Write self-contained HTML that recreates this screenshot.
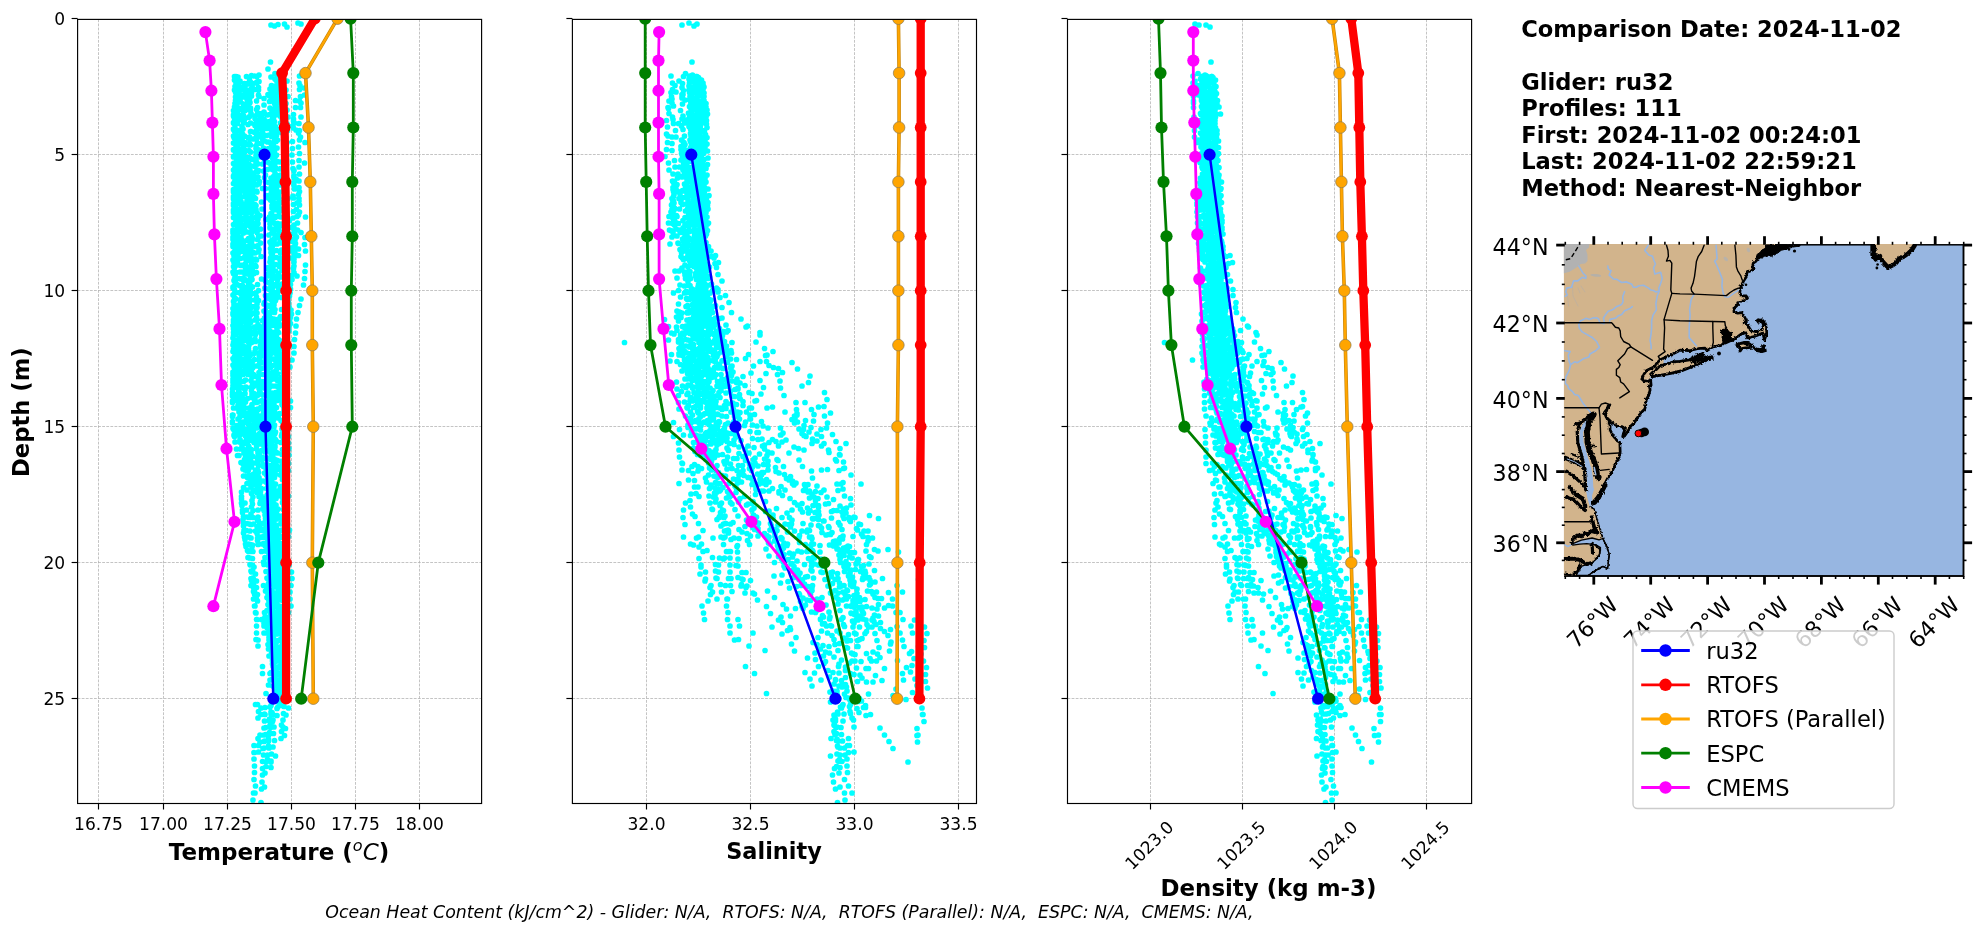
<!DOCTYPE html>
<html lang="en"><head><meta charset="utf-8"><title>Glider / model profile comparison</title><style>html,body{margin:0;padding:0;background:#fff}body{width:1978px;height:934px;overflow:hidden}svg{display:block;will-change:transform}</style></head><body>
<svg width="1978" height="934" viewBox="0 0 1978 934" font-family="DejaVu Sans, Liberation Sans, sans-serif">
<rect width="1978" height="934" fill="#fff"/>
<defs>
<clipPath id="c0"><rect x="77.6" y="19.4" width="404.0" height="784.1"/></clipPath>
<clipPath id="c1"><rect x="572.4" y="19.4" width="404.1" height="784.1"/></clipPath>
<clipPath id="c2"><rect x="1067.5" y="19.4" width="404.0999999999999" height="784.1"/></clipPath>
</defs>
<g stroke="#b0b0b0" stroke-width="0.75" stroke-dasharray="2.8,1.3" fill="none">
<line x1="98.5" y1="19.4" x2="98.5" y2="803.5"/>
<line x1="163.5" y1="19.4" x2="163.5" y2="803.5"/>
<line x1="227.5" y1="19.4" x2="227.5" y2="803.5"/>
<line x1="291.5" y1="19.4" x2="291.5" y2="803.5"/>
<line x1="355.5" y1="19.4" x2="355.5" y2="803.5"/>
<line x1="419.5" y1="19.4" x2="419.5" y2="803.5"/>
<line x1="77.6" y1="154.5" x2="481.6" y2="154.5"/>
<line x1="77.6" y1="290.5" x2="481.6" y2="290.5"/>
<line x1="77.6" y1="426.5" x2="481.6" y2="426.5"/>
<line x1="77.6" y1="562.5" x2="481.6" y2="562.5"/>
<line x1="77.6" y1="698.5" x2="481.6" y2="698.5"/>
</g>
<g clip-path="url(#c0)">
<path d="m298 23h0m-13.5 1h0m16.5 0h0m-23 0.5h0m-7 0.5h0m3.5 1h0m12.5 1h0m-16.5 35h0m-2.5 7h0m7 4.5h0m-16 1.5h0m-7.5 0.5h0m3 0.5h0m45 0h0m-65 0.5h0m1.5 0h0m10.5 0h0m10.5 0h0m-19 0.5h0m33 0h0m6.5 1.5h0m-28 0.5h0m25.5 0h0m-40.5 1h0m42 0.5h0m-36.5 0.5h0m47 0h0m-28 0.5h0m-8.5 0.5h0m6.5 0h0m21 0h0m-42 1h0m19.5 0h0m1.5 0h0m26 0h0m16 0h0m-60 0.5h0m5.5 0h0m2.5 0h0m0.5 0.5h0m-11.5 1.5h0m35.5 0h0m6 0h0m22.5 0h0m-48 0.5h0m22.5 0h0m-39.5 0.5h0m46 0h0m-40.5 1h0m4.5 0h0m13.5 0h0m16 0h0m2 0h0m28 0.5h0m-53.5 1h0m19 0h0m9 0h0m-43.5 0.5h0m19.5 0h0m18 0h0m26.5 0h0m-65 0.5h0m24 0h0m20.5 0h0m7 0h0m-46.5 0.5h0m5 0h0m2.5 0h0m-10 1h0m-1.5 0.5h0m36.5 0h0m5.5 0h0m-38.5 0.5h0m8 0h0m28 0h0m-23.5 0.5h0m-15.5 0.5h0m44 0h0m-3 0.5h0m-37 0.5h0m5 0h0m23 0h0m-27.5 0.5h0m18 0h0m46 0h0m-25 0.5h0m-30 0.5h0m2 0h0m18 0h0m4.5 0h0m-38 0.5h0m23 0h0m16 0h0m3.5 0h0m9.5 0h0m12.5 0h0m-65 0.5h0m2.5 0h0m6.5 0h0m3.5 0h0m1.5 1h0m14.5 0.5h0m19.5 0h0m-36.5 0.5h0m25 0h0m5.5 0h0m-41 0.5h0m3.5 0h0m35 0h0m-25.5 0.5h0m-14 0.5h0m45.5 0h0m14.5 0h0m-39 0.5h0m43 0h0m-60.5 0.5h0m30.5 0h0m6 0h0m-35 0.5h0m9.5 0.5h0m30.5 0h0m-5 0.5h0m25.5 0h0m-66 0.5h0m2 0h0m11.5 0h0m26 0h0m11.5 0h0m-42.5 0.5h0m2 0h0m2 0h0m16.5 1h0m12 0.5h0m7.5 0h0m-38.5 0.5h0m31 0.5h0m-41.5 0.5h0m46.5 0h0m-23.5 0.5h0m38 0h0m5 0h0m-62 0.5h0m12 0h0m19.5 0h0m12.5 0h0m-41.5 0.5h0m3 0h0m30.5 0h0m-40 0.5h0m6 0h0m8 0.5h0m8 0h0m24.5 0h0m-43 0.5h0m36.5 0h0m1.5 0h0m11 0h0m-53.5 0.5h0m9.5 0h0m2 0h0m5.5 0h0m21.5 1h0m-8 0.5h0m19 0h0m-5 0.5h0m-2 0.5h0m-25 0.5h0m8.5 0h0m-25.5 0.5h0m28 0h0m-26.5 0.5h0m21.5 0h0m12.5 0h0m6.5 0h0m17.5 0h0m-60 0.5h0m5.5 0h0m28 0h0m16 0h0m-49 0.5h0m8 0h0m1.5 0h0m16.5 0h0m13.5 0h0m-40 0.5h0m21.5 0h0m25 0h0m-30.5 0.5h0m24.5 0h0m-40 0.5h0m4 0h0m50 0h0m13 0h0m-52.5 0.5h0m6.5 1h0m17.5 0h0m-9 0.5h0m18.5 0h0m11.5 0h0m-53.5 0.5h0m4.5 0h0m-7.5 0.5h0m22 0.5h0m2.5 0h0m3.5 0h0m-30.5 0.5h0m59 0h0m-35.5 0.5h0m11.5 0h0m5 0h0m8 0h0m-38.5 0.5h0m24 0h0m5 0h0m-39.5 0.5h0m10 0h0m15.5 0h0m-25.5 0.5h0m17 0h0m5.5 0h0m1 0h0m5.5 0h0m18 0h0m14 0h0m-57 0.5h0m30 0h0m6.5 0h0m25 0h0m-64.5 0.5h0m52.5 0h0m-39 0.5h0m24.5 0h0m-17.5 1h0m9 0h0m18 0h0m-12.5 0.5h0m23 0h0m-50.5 0.5h0m33.5 0h0m-17 0.5h0m2.5 0.5h0m3.5 0h0m-29.5 0.5h0m23.5 0h0m35 0h0m-27.5 0.5h0m3 0h0m5.5 0h0m-41 0.5h0m8.5 0h0m1 0h0m16 0h0m14.5 0h0m-40 0.5h0m24 0h0m21.5 0h0m-22.5 0.5h0m15 0h0m24.5 0h0m-57.5 0.5h0m49 0h0m12 0h0m-65 0.5h0m5 0h0m33 0h0m-22 0.5h0m0.5 0h0m3 0.5h0m1 0.5h0m7.5 0h0m19 0h0m17 0.5h0m-56.5 0.5h0m34 0h0m-33.5 0.5h0m15 0h0m4.5 0h0m-26.5 0.5h0m28 0h0m11 0h0m-5.5 0.5h0m-2.5 0.5h0m6.5 0h0m3.5 0h0m-43 0.5h0m1 0h0m1 0h0m7.5 0h0m1.5 0h0m13.5 0h0m-19 0.5h0m4.5 0h0m13 0h0m1.5 0h0m13.5 0h0m-22 0.5h0m12.5 0h0m38.5 0h0m-66.5 0.5h0m14 0h0m38 0h0m-36.5 1h0m4 0.5h0m3 0h0m6 0h0m-26 1h0m4.5 0h0m36.5 0h0m22 0h0m-25 0.5h0m-32 0.5h0m20.5 0h0m1.5 0h0m-29.5 0.5h0m41 0h0m16.5 0h0m-25 0.5h0m1.5 0h0m-26 0.5h0m2 0h0m29 0h0m13 0h0m18 0h0m-71.5 0.5h0m1 0h0m7.5 0h0m15.5 0h0m-19.5 0.5h0m5.5 0h0m6 0h0m8.5 0h0m3.5 0h0m9.5 0h0m-22.5 0.5h0m8.5 0h0m29 0h0m-47.5 0.5h0m6 0h0m28 0h0m-23.5 0.5h0m1.5 0h0m5.5 1h0m-20 0.5h0m50 0h0m-12 0.5h0m24.5 0h0m-55 0.5h0m20 0.5h0m13.5 0h0m-40.5 0.5h0m19.5 0h0m13 0h0m23.5 0h0m-25.5 0.5h0m-33.5 0.5h0m0.5 0h0m6 0h0m4.5 0h0m13.5 0h0m16 0h0m-40.5 0.5h0m8 0h0m15.5 0h0m1 0h0m12 0h0m-21 0.5h0m12.5 0h0m-22 0.5h0m17 0h0m18 0h0m12 0h0m-41.5 0.5h0m26.5 0h0m-21 0.5h0m5.5 0.5h0m29.5 0.5h0m-50 0.5h0m64 0h0m-59.5 0.5h0m33.5 0h0m-8 0.5h0m11 0.5h0m15.5 0h0m-56 0.5h0m20 0h0m-12.5 0.5h0m24.5 0h0m7.5 0h0m-42 0.5h0m1 0h0m6 0h0m3 0h0m14.5 0h0m-24.5 0.5h0m4 0h0m8 0h0m10.5 0h0m2 0h0m4 0h0m-13 0.5h0m-8.5 0.5h0m32 0h0m1 0h0m12 0h0m-40.5 0.5h0m5.5 0h0m1 1h0m2.5 0h0m10.5 0h0m-28 0.5h0m50 0h0m-40 0.5h0m28.5 0h0m24 0h0m-59 0.5h0m25 0.5h0m12.5 0h0m-21 0.5h0m23.5 0h0m12.5 0h0m-24 0.5h0m7 0h0m-41.5 0.5h0m4.5 0h0m4.5 0h0m1.5 0h0m11.5 0h0m17 0h0m31.5 0h0m-71 0.5h0m5.5 0h0m18.5 0h0m-14.5 0.5h0m1 0h0m13.5 0h0m5 0h0m11 0h0m-24.5 0.5h0m37.5 0h0m-45.5 0.5h0m3 0h0m27 0h0m-21 0.5h0m0.5 0.5h0m1 0h0m23 0h0m-19.5 0.5h0m30.5 0h0m-49.5 0.5h0m11.5 0h0m51.5 0h0m-60.5 0.5h0m37 0h0m-40.5 0.5h0m41 0.5h0m4.5 0h0m12.5 0h0m-58.5 0.5h0m45.5 0h0m-12.5 0.5h0m5 0h0m10.5 0h0m-49.5 0.5h0m5.5 0h0m4 0h0m1.5 0h0m12.5 0h0m-23 0.5h0m9 0h0m7 0h0m7 0h0m1.5 0h0m35.5 0h0m-30.5 0.5h0m-5.5 0.5h0m-20 0.5h0m5 0h0m1 0h0m3.5 0h0m3 1h0m3.5 0h0m21 0h0m9 0.5h0m-48.5 0.5h0m5.5 0h0m5.5 0h0m53 0h0m-65.5 1h0m19 0h0m12.5 0h0m15 0h0m-3.5 0.5h0m17 0h0m-60.5 0.5h0m6 0h0m35 0h0m5 0h0m3 0h0m-38.5 0.5h0m29.5 0h0m-40 0.5h0m22.5 0h0m2 0h0m-20.5 0.5h0m19 0h0m8 0h0m29.5 0h0m-43.5 0.5h0m20.5 0h0m0.5 0h0m8 0h0m-38 0.5h0m5 0h0m10 0h0m-18 0.5h0m9.5 0h0m1.5 0h0m46.5 0h0m-46 0.5h0m24 0h0m-20.5 0.5h0m31 0.5h0m-43.5 0.5h0m5.5 0h0m4 0h0m48.5 0h0m-39.5 0.5h0m-25 0.5h0m17.5 0h0m14 0h0m10 0h0m3 0h0m-10 0.5h0m6.5 0h0m18.5 0h0m-54.5 0.5h0m43 0h0m-49 0.5h0m10 0h0m15.5 0h0m13.5 0h0m-37 0.5h0m19.5 0h0m3.5 0h0m14 0.5h0m-35.5 0.5h0m3 0h0m10.5 0h0m6 0h0m23 0h0m-34.5 0.5h0m49 0h0m-45 0.5h0m0 0.5h0m3 0h0m20 0h0m12 0.5h0m-43 0.5h0m6.5 0h0m23.5 0h0m5.5 0h0m22.5 0h0m-48 0.5h0m-15.5 0.5h0m27 0h0m3 0h0m-30.5 0.5h0m17.5 0h0m42 0h0m-61 0.5h0m5.5 0h0m5 0h0m5.5 0h0m21.5 0h0m4.5 0h0m8.5 0h0m-40.5 0.5h0m30 0h0m12 0h0m-52 0.5h0m6 0h0m17 0.5h0m19.5 0h0m-25 0.5h0m21.5 0h0m27 0h0m-66 0.5h0m6 0h0m17.5 0h0m22.5 0h0m-34.5 0.5h0m4.5 0h0m0.5 0h0m2.5 0.5h0m-2.5 0.5h0m-13.5 0.5h0m34.5 0h0m14.5 0h0m-46 0.5h0m6.5 0h0m52.5 0h0m-62.5 1h0m16.5 0h0m14 0h0m9.5 0h0m2.5 0.5h0m14.5 0h0m-59.5 0.5h0m5.5 0h0m5.5 0h0m30 0h0m10.5 0h0m-51.5 1h0m6.5 0h0m14.5 0h0m20.5 0h0m-6.5 0.5h0m25 0h0m-56.5 0.5h0m13 0h0m5.5 0h0m17.5 0h0m6 0h0m9 0h0m11 0h0m-65.5 0.5h0m6.5 0h0m8.5 0.5h0m3.5 0.5h0m18.5 0h0m-36 1h0m12.5 0h0m25 0h0m27 0h0m-58 0.5h0m20.5 0.5h0m-25 0.5h0m15 0h0m29.5 0h0m-6.5 0.5h0m2.5 0h0m20 0h0m-63.5 0.5h0m5 0h0m40.5 0h0m5.5 0h0m0.5 0h0m-51.5 0.5h0m10 0h0m11.5 0.5h0m19.5 0h0m19 0h0m6 0.5h0m-66 0.5h0m2 0h0m14 0h0m6.5 0h0m16 0h0m6.5 0h0m8 0h0m-39 0.5h0m0.5 0.5h0m3.5 0h0m-10 1.5h0m5 0h0m25.5 0h0m3.5 0.5h0m-39 0.5h0m1.5 0h0m14 0h0m10 0h0m20 0h0m-26 0.5h0m19 0h0m21.5 0h0m-63 0.5h0m4 0h0m15.5 0h0m21 0h0m4.5 0h0m7 0h0m-39.5 0.5h0m34 0h0m-46.5 0.5h0m2 0h0m5 0h0m14.5 0h0m-10 0.5h0m4.5 0h0m44 0h0m-14.5 0.5h0m7 0h0m13.5 0h0m-66 0.5h0m8.5 0h0m4.5 0h0m1 0h0m9.5 0h0m-5.5 0.5h0m19.5 0.5h0m0.5 1h0m-33.5 0.5h0m8 0h0m52.5 0h0m-63 0.5h0m24.5 0h0m-23 0.5h0m37 0h0m-17.5 0.5h0m1 0h0m17.5 0h0m0.5 0h0m2.5 0h0m19 0h0m-57.5 0.5h0m30 0h0m11.5 0h0m4.5 0h0m20 0h0m-72 0.5h0m2.5 0h0m39 0h0m-33.5 0.5h0m3.5 0h0m5 0h0m4 0h0m39 0h0m-35 1h0m28.5 0h0m-43.5 0.5h0m3 0h0m20 0h0m-16 0.5h0m-14 0.5h0m34 0h0m19.5 0h0m-51 1h0m7.5 0h0m25 0h0m-35.5 1h0m2.5 0h0m14 0.5h0m22.5 0h0m23 0h0m-58.5 0.5h0m16.5 0h0m2.5 0h0m19.5 0h0m0.5 0h0m-8 0.5h0m5.5 0h0m5.5 0h0m-47.5 0.5h0m2 0h0m5.5 0h0m3 0.5h0m4.5 0h0m1.5 0h0m2 0h0m42 0h0m-37.5 1h0m23.5 0h0m6 0h0m-43 0.5h0m2 0h0m5.5 0h0m-13 1h0m17.5 0h0m15 0h0m20.5 0h0m-20.5 0.5h0m24 0h0m-54.5 0.5h0m36 0h0m-15 0.5h0m-23 0.5h0m37 0h0m-41.5 0.5h0m23.5 0h0m1.5 0h0m20 0h0m19.5 0h0m-57 0.5h0m0.5 0h0m3.5 0h0m7.5 0h0m27 0h0m-5 0.5h0m-41 0.5h0m2.5 0h0m5.5 0h0m11 0h0m-4.5 0.5h0m47 0h0m-37.5 0.5h0m17 0h0m7 0h0m20 0h0m-68 0.5h0m10.5 0h0m28.5 0h0m-37 0.5h0m16 0h0m43 0h0m-56.5 0.5h0m52.5 0h0m5 0.5h0m-26 0.5h0m6 0.5h0m2.5 0h0m-26 0.5h0m9.5 0h0m-24 0.5h0m-4 0.5h0m8 0h0m11 0h0m6.5 0h0m19 0h0m19 0h0m-56 0.5h0m34.5 0h0m30 0h0m-72 0.5h0m2.5 0h0m13 0.5h0m4 0h0m42 0h0m-20 0.5h0m-41.5 0.5h0m0.5 0h0m24 0h0m22.5 0h0m-38 0.5h0m5.5 0h0m24.5 0h0m23 0h0m-48 0.5h0m5 0h0m38 0.5h0m3 0.5h0m-55 0.5h0m32 0h0m-20 0.5h0m-14 0.5h0m5 0h0m19.5 0h0m20.5 0h0m14.5 0.5h0m-62.5 0.5h0m7.5 0h0m11 0h0m19.5 0h0m1.5 0h0m3.5 0h0m0.5 0h0m0.5 0h0m-33.5 0.5h0m61 0h0m-71.5 0.5h0m1 0h0m5.5 0h0m18.5 0.5h0m37 0h0m-41 0.5h0m18.5 0h0m-39.5 0.5h0m0.5 0h0m15 0h0m0.5 0h0m6.5 0h0m-9 0.5h0m25.5 0h0m22 0h0m-56 0.5h0m52 0.5h0m-19.5 0.5h0m23 0h0m5 0.5h0m-56.5 0.5h0m8.5 0h0m8.5 0h0m-22 0.5h0m44.5 0h0m-30.5 0.5h0m25.5 0h0m-36 0.5h0m39 0h0m6.5 0h0m4.5 0h0m15 0h0m-71 0.5h0m8 0h0m-3.5 0.5h0m7 0h0m6.5 0h0m6 0h0m14 0h0m22 0h0m-23.5 0.5h0m-38 0.5h0m21.5 0h0m0.5 0h0m25.5 0h0m-45 0.5h0m12.5 0h0m24.5 0h0m22.5 0h0m-48.5 0.5h0m-8.5 0.5h0m56.5 0.5h0m-60.5 0.5h0m37.5 0h0m27 0h0m-61.5 0.5h0m13 0h0m-5 0.5h0m16 0h0m-10 1h0m25.5 0h0m-33 0.5h0m27 0h0m9.5 0h0m10 0h0m-56 0.5h0m6 0h0m15.5 0.5h0m38.5 0h0m-23.5 0.5h0m-37.5 0.5h0m23.5 0h0m15.5 0h0m8 0h0m-45 0.5h0m11.5 0h0m0.5 0h0m23 1.5h0m24 0h0m-60 0.5h0m17.5 0h0m-14 0.5h0m14.5 0h0m-6.5 0.5h0m35.5 0h0m-7.5 0.5h0m-22 0.5h0m24.5 0h0m4.5 0h0m-46 0.5h0m4.5 0h0m4 0h0m62.5 0h0m-64.5 0.5h0m14.5 0h0m-11 0.5h0m49.5 0h0m-60.5 0.5h0m20.5 0h0m2 0h0m15.5 0h0m8 0h0m-45.5 0.5h0m12 0h0m1.5 0h0m25.5 0h0m-38.5 0.5h0m11 0h0m22.5 0h0m-19 0.5h0m38.5 0h0m6 0.5h0m-25.5 0.5h0m-16.5 0.5h0m30.5 1h0m-30 0.5h0m0.5 0h0m20 0h0m3 0h0m-6 0.5h0m1.5 0h0m14.5 0h0m19.5 0h0m-72 0.5h0m2.5 0h0m4.5 0h0m2 0h0m4 0.5h0m3.5 0h0m7 0h0m37.5 0h0m-60.5 1h0m20.5 0h0m18.5 0h0m6 0h0m-43 0.5h0m9.5 0h0m2 0h0m25 0h0m-5 0.5h0m-16 0.5h0m35.5 0h0m5 0.5h0m-23.5 0.5h0m29 0h0m-46.5 0.5h0m1 0h0m24.5 0h0m5.5 0.5h0m-46.5 0.5h0m15.5 0.5h0m24 0h0m-35 0.5h0m2.5 0h0m30.5 0h0m32 0h0m-70 0.5h0m6.5 0h0m20.5 0h0m-16.5 0.5h0m7 0h0m40 0h0m-14.5 0.5h0m-43.5 0.5h0m9.5 0h0m2 0h0m-10 0.5h0m30 0h0m6 0h0m-21.5 0.5h0m18.5 1h0m17.5 0h0m4 0h0m-41.5 0.5h0m33.5 1h0m-45 0.5h0m20.5 0h0m15.5 0h0m2.5 0h0m15 0h0m-11 0.5h0m8.5 0h0m15.5 0h0m-69 0.5h0m5 0h0m3 0h0m8.5 0.5h0m20 0h0m18 0h0m-38.5 0.5h0m-17.5 0.5h0m9 0h0m10.5 0h0m25.5 0h0m-33.5 0.5h0m1.5 0h0m26.5 0h0m-39.5 0.5h0m32 0h0m-15.5 0.5h0m20 0h0m16.5 0h0m4.5 0.5h0m-56 0.5h0m7.5 0h0m27.5 0h0m-22.5 0.5h0m11.5 0.5h0m22.5 0h0m-30.5 1h0m22.5 0h0m-0.5 0.5h0m5 0h0m9.5 0h0m-51 0.5h0m3.5 0h0m5 0.5h0m4.5 0h0m2.5 0h0m4.5 0h0m15.5 0h0m18.5 0h0m-38 0.5h0m-18 0.5h0m7 0h0m36.5 0h0m-33.5 0.5h0m-11 0.5h0m17 0.5h0m15.5 0h0m3.5 0h0m20.5 0.5h0m-47 0.5h0m4 0h0m27.5 0h0m-17.5 0.5h0m25 0.5h0m-10.5 0.5h0m5.5 0h0m-41 0.5h0m8.5 0h0m23.5 0h0m18 0h0m-50 0.5h0m5.5 0h0m30 0h0m30 0h0m-66.5 0.5h0m36.5 0h0m-20.5 0.5h0m4.5 0h0m33 0h0m-54 0.5h0m24.5 0h0m17 0h0m-35 0.5h0m3.5 0h0m28.5 0h0m-39 0.5h0m13 0h0m3 0.5h0m15 0.5h0m24 0h0m-47.5 1h0m33 0h0m-17 0.5h0m7 0h0m-30 0.5h0m4 0.5h0m1.5 0h0m27.5 0h0m4 0h0m1.5 0h0m1.5 0h0m-29.5 0.5h0m25 0h0m15.5 0h0m14.5 0h0m-65.5 0.5h0m0.5 0h0m2 0h0m12.5 0.5h0m2.5 0h0m3 0h0m13.5 0h0m1 0h0m20 0h0m-55 1h0m2.5 0h0m4.5 0h0m16 0h0m-10.5 0.5h0m-13.5 0.5h0m13.5 0h0m4 0h0m24.5 1h0m6.5 0h0m5.5 0h0m-46 0.5h0m50 0h0m-19 0.5h0m-22 0.5h0m6 0h0m8 0h0m1.5 0h0m-28 0.5h0m50 0h0m-49.5 0.5h0m6 0h0m21 0h0m6 0h0m1 0h0m1 0h0m-35 0.5h0m3.5 0h0m28.5 0h0m4.5 0h0m23.5 0h0m-65 0.5h0m0.5 0h0m0.5 0h0m3 0h0m4.5 0h0m13 0h0m2.5 0h0m12 0h0m-21 0.5h0m6.5 0h0m13 0h0m20.5 0h0m3.5 0.5h0m-58.5 0.5h0m10 0h0m-8 0.5h0m11.5 0h0m4 0h0m19 0h0m-36 0.5h0m32.5 0h0m14.5 1h0m5.5 0h0m-45.5 0.5h0m5.5 0h0m23.5 0h0m21 0h0m-50 0.5h0m16 0h0m-7.5 0.5h0m15.5 0h0m15.5 0h0m-43 0.5h0m33 0h0m1 0h0m0.5 0h0m14.5 0h0m4 0h0m-51.5 0.5h0m35.5 0h0m4.5 0h0m1 0h0m17 0h0m-62 0.5h0m2.5 0h0m5.5 0h0m14.5 0h0m-23.5 0.5h0m16 0h0m5.5 0h0m11.5 0h0m19.5 0h0m-39.5 0.5h0m16 0h0m11.5 0.5h0m15.5 0h0m-47 0.5h0m3 0h0m23 0h0m-35 0.5h0m13 0h0m4 0.5h0m16.5 0h0m11.5 0.5h0m6 0h0m-46.5 0.5h0m52.5 0h0m-21 0.5h0m-11.5 0.5h0m6.5 0h0m15 0h0m-41.5 0.5h0m11 0h0m37 0h0m3.5 0h0m-56.5 0.5h0m5 0h0m33.5 0h0m4.5 0.5h0m3.5 0h0m16.5 0h0m-62 0.5h0m3.5 0h0m3.5 0h0m-6 0.5h0m9 0h0m2 0h0m8.5 0h0m6.5 0h0m2 0h0m4.5 0h0m18 0h0m-51.5 0.5h0m54.5 0h0m-32.5 0.5h0m21 0h0m-35 0.5h0m4.5 0h0m1 0h0m2.5 0h0m17 0h0m-33.5 0.5h0m32 0.5h0m11.5 0.5h0m-41.5 0.5h0m5 0h0m4 0h0m25 0h0m19.5 0h0m-28.5 0.5h0m-12 0.5h0m14 0h0m15 0h0m-40.5 0.5h0m1.5 0h0m16 0h0m16 0h0m1.5 0h0m14.5 0h0m1.5 0h0m-54.5 0.5h0m4.5 0h0m1.5 0h0m36.5 0h0m2.5 0h0m-41 0.5h0m4 0h0m14.5 0h0m39.5 0h0m-55 0.5h0m10 0h0m4 0h0m-9 0.5h0m2 0h0m14 0h0m5.5 0h0m17.5 0h0m-49 0.5h0m20 0h0m21 0h0m10.5 0h0m-46 0.5h0m4.5 0h0m26.5 0h0m-38.5 0.5h0m16.5 0h0m14.5 0.5h0m12 0.5h0m-31.5 0.5h0m24 0.5h0m-36 0.5h0m28.5 0h0m-22 0.5h0m9 0h0m13 0h0m13 0h0m-35.5 0.5h0m16 0h0m14 0h0m6 0.5h0m3.5 0h0m16 0h0m-57 0.5h0m2 0h0m-5 0.5h0m8.5 0h0m2.5 0h0m5.5 0h0m14.5 0h0m18 0h0m-23 0.5h0m26 0h0m-31 0.5h0m-7 0.5h0m23.5 0h0m-38.5 0.5h0m18 0h0m11.5 0h0m-26.5 0.5h0m43.5 0h0m-3.5 0.5h0m-36.5 0.5h0m28.5 0.5h0m-35.5 0.5h0m16 0h0m11.5 0h0m3 0h0m-20 1h0m26 0h0m5 0h0m3 0h0m-12 0.5h0m28.5 0h0m-58.5 0.5h0m7 0.5h0m3 0h0m15 0h0m10 0h0m12 0h0m5 0.5h0m-48 0.5h0m9 0h0m7 0h0m16.5 0h0m-10 0.5h0m5 0h0m-33.5 0.5h0m1.5 0h0m44 0.5h0m-35 0.5h0m25 0h0m7.5 0h0m8 0h0m-38 0.5h0m21.5 0h0m2 0h0m-37 0.5h0m16 0h0m6 0h0m9 0h0m-3.5 0.5h0m13.5 0h0m-35.5 0.5h0m31.5 0h0m5 0.5h0m4 0h0m15 0h0m-58 0.5h0m3.5 0h0m2.5 0h0m-3 0.5h0m14.5 0h0m17 0h0m12 0h0m-36.5 0.5h0m31 0h0m-18 0.5h0m18 0h0m10 0h0m-47.5 0.5h0m6.5 0h0m4 0h0m13 0h0m3.5 0h0m3 0h0m-8 0.5h0m-27 0.5h0m44.5 0h0m4.5 0.5h0m-43.5 0.5h0m8.5 0.5h0m-15.5 0.5h0m26.5 0h0m6.5 0h0m11 0h0m-3.5 0.5h0m-35.5 0.5h0m5.5 0h0m11 0h0m16 0h0m4.5 0h0m3.5 0.5h0m13.5 0h0m-58 0.5h0m3 0h0m2.5 0h0m2 0h0m-5.5 0.5h0m16 0h0m0.5 0h0m7 0h0m6 0h0m4 0h0m12.5 0h0m-21 0.5h0m17 0h0m9.5 0h0m-11.5 0.5h0m-36.5 0.5h0m7.5 0h0m15 0h0m3 0h0m-30 1h0m17 0h0m16.5 0.5h0m-28 0.5h0m4.5 0h0m2 0h0m20.5 0h0m-34.5 0.5h0m16 0h0m17 0h0m-7.5 0.5h0m13.5 0h0m5.5 0h0m-21 0.5h0m13 0h0m12 0h0m2 0h0m-39 0.5h0m32.5 0h0m2 0h0m-45 0.5h0m2 0h0m54 0h0m-55 0.5h0m4.5 0h0m13 0h0m0.5 0h0m13 0h0m4.5 0h0m-22 0.5h0m12 0h0m3 0h0m18.5 0h0m-20.5 0.5h0m15.5 0h0m-37.5 0.5h0m-4.5 1h0m16.5 0.5h0m24.5 0h0m-31.5 0.5h0m-5.5 0.5h0m7.5 0h0m21 0h0m-34.5 0.5h0m35 0h0m-30.5 0.5h0m21.5 0h0m14 0h0m2.5 0h0m8 0h0m-14.5 0.5h0m1 0h0m13 0h0m-50 0.5h0m12.5 0h0m3.5 0h0m26 0h0m2.5 0h0m-44.5 0.5h0m3.5 0h0m4 0h0m-6.5 0.5h0m9 0h0m5 0h0m3 0h0m2.5 0h0m10 0h0m6.5 0h0m-11 0.5h0m-26 0.5h0m6.5 0h0m28 0.5h0m-13.5 0.5h0m-17.5 0.5h0m15.5 0h0m16 0.5h0m5.5 0h0m2.5 0h0m5.5 0h0m-42 0.5h0m29 0.5h0m-35.5 0.5h0m25.5 0h0m9.5 0h0m5.5 0h0m-35.5 0.5h0m45 0h0m-37.5 0.5h0m25 0h0m-32.5 0.5h0m13 0h0m26.5 0h0m-44.5 0.5h0m2.5 0h0m30.5 0h0m-23 0.5h0m0.5 0h0m15.5 0h0m4 0h0m18.5 0h0m-16.5 0.5h0m22 0h0m-54 0.5h0m6.5 0h0m29.5 0h0m-31 0.5h0m17 0h0m-18 0.5h0m15.5 0.5h0m27.5 0h0m-11 0.5h0m11.5 0h0m-43 0.5h0m-4.5 0.5h0m35 0h0m-9.5 0.5h0m14 0h0m3 0h0m-36.5 0.5h0m14.5 0h0m8.5 0h0m8 0h0m13 0h0m-37 0.5h0m32 0h0m-45 0.5h0m2 0h0m7 0h0m9 0h0m-9 0.5h0m1 0h0m20 0h0m2.5 0h0m1 0h0m2.5 0h0m12.5 0h0m-22.5 0.5h0m-26.5 0.5h0m53.5 0h0m-47.5 0.5h0m6.5 0h0m6.5 1h0m28 0h0m1.5 0.5h0m-42.5 0.5h0m30 0h0m-36 1h0m27 0h0m8 0h0m8 0h0m-36 0.5h0m32.5 0h0m11 0h0m-38 0.5h0m9 0h0m7 0h0m8.5 0h0m2.5 0h0m-20 0.5h0m25.5 0h0m-45 0.5h0m4 0h0m5 0h0m1 0.5h0m9.5 0h0m6 0h0m5 0h0m6 0h0m12.5 0h0m-15.5 0.5h0m20.5 0h0m-54 0.5h0m24 0h0m-18 0.5h0m45 0h0m-32 1h0m22 0h0m5.5 0h0m-36.5 1h0m5 0h0m-14 0.5h0m36 0.5h0m4 0h0m1 0h0m-20 0.5h0m15 0h0m14 0h0m-21.5 0.5h0m12 0h0m3 0h0m-44.5 0.5h0m5 0h0m23.5 0h0m29.5 0h0m-20.5 0.5h0m-26.5 0.5h0m2 0h0m12 0h0m5.5 0h0m19 0h0m-49.5 0.5h0m24 0h0m11 0h0m20 0h0m-48 0.5h0m0 0.5h0m44.5 0h0m-32 1h0m22 0h0m8 0h0m-44 1h0m5.5 0h0m8.5 0h0m19.5 0h0m-2.5 1h0m5 0h0m9.5 0h0m-22.5 0.5h0m2.5 0h0m-19 0.5h0m21.5 0h0m10.5 0h0m14 0h0m-57 0.5h0m3 0h0m4 0h0m1.5 0h0m3 0h0m4 0h0m15 0h0m-1.5 0.5h0m8.5 0h0m-13.5 0.5h0m30 0h0m-48 0.5h0m14.5 0h0m4 0h0m8.5 0h0m17.5 0.5h0m-32 1h0m22.5 0.5h0m-35.5 0.5h0m5 0h0m19.5 0h0m8 0h0m-15 0.5h0m-7.5 0.5h0m24.5 0h0m0.5 0h0m-3.5 0.5h0m9 0h0m4 0h0m-20 0.5h0m3.5 0h0m-15 0.5h0m35 0h0m-54.5 0.5h0m0.5 0h0m7.5 0h0m5.5 0h0m-3 0.5h0m14.5 0h0m5 0h0m-2.5 0.5h0m7.5 0h0m2.5 0h0m4.5 0h0m13 0h0m-55 0.5h0m7.5 0h0m7 0h0m7 0h0m-2 1.5h0m26.5 0h0m-13.5 0.5h0m3.5 0h0m5.5 0h0m-36 0.5h0m8.5 0h0m11 0h0m14 0h0m-9.5 0.5h0m-13 0.5h0m24.5 0h0m7.5 0.5h0m1.5 0h0m3.5 0.5h0m-53.5 0.5h0m15 0h0m6.5 0h0m-12.5 0.5h0m1.5 0h0m19 0h0m7 0h0m13.5 0h0m-37.5 0.5h0m3 0h0m9 0h0m-24.5 0.5h0m8 0h0m13.5 0h0m13 0h0m3.5 0h0m17 0h0m-39.5 0.5h0m5 1h0m13.5 0h0m-4.5 0.5h0m11 0h0m1.5 0h0m-37.5 0.5h0m12.5 0h0m17.5 0h0m-7.5 0.5h0m13.5 0h0m-13.5 0.5h0m-9.5 0.5h0m24 0h0m-35.5 0.5h0m4.5 0h0m39.5 0h0m-28.5 0.5h0m2.5 0h0m9.5 0h0m21.5 0h0m-54.5 0.5h0m10.5 0.5h0m4.5 0h0m21.5 0h0m12.5 0h0m-16 0.5h0m22 0h0m-54 0.5h0m36 0h0m-20 0.5h0m11.5 0h0m-15 0.5h0m-6 0.5h0m13 0h0m14.5 0h0m7.5 0.5h0m-37.5 0.5h0m14.5 0h0m21.5 0h0m-29 0.5h0m27.5 0h0m-13 0.5h0m5 0h0m10.5 0h0m-15 0.5h0m22 0h0m-42 0.5h0m4.5 0h0m0.5 0h0m42.5 0h0m-53.5 0.5h0m3 0h0m1.5 0h0m16.5 0h0m13 0h0m-34 0.5h0m15.5 0h0m4.5 0h0m-8.5 0.5h0m3 0h0m33 0h0m-47 0.5h0m31 0h0m5 0h0m18 0h0m-37 0.5h0m8 0h0m4 0.5h0m5 0.5h0m-13 0.5h0m7.5 0h0m11.5 0h0m-20.5 0.5h0m-14 0.5h0m35.5 0h0m-28.5 0.5h0m25 0h0m-20 0.5h0m19.5 0h0m3.5 0h0m-29 0.5h0m18.5 0h0m4.5 0h0m2.5 0h0m11.5 0h0m-42 0.5h0m15 0h0m21 0h0m10.5 0h0m-52.5 0.5h0m4.5 0h0m20.5 0h0m-12.5 0.5h0m6.5 0h0m7.5 0h0m19.5 0h0m7.5 0.5h0m-44.5 0.5h0m21.5 0h0m1 0h0m5 0h0m-11.5 0.5h0m4 0.5h0m-7 0.5h0m6.5 0h0m-21.5 1h0m6.5 0h0m8 0h0m13.5 0h0m5 0h0m-26 1h0m24 0h0m2 0h0m-2.5 0.5h0m0 0.5h0m-8.5 0.5h0m24 0h0m1 0h0m-52.5 0.5h0m4 0h0m16 0h0m-12.5 0.5h0m7.5 0h0m31 0h0m-14.5 0.5h0m4 0h0m16 0h0m-44 0.5h0m17.5 0h0m-14 1h0m17.5 0.5h0m11 0h0m-5.5 0.5h0m-26.5 0.5h0m5 0h0m9 0h0m19.5 0h0m-26.5 0.5h0m22 0.5h0m-13.5 0.5h0m12 0h0m1.5 0h0m9 0h0m2.5 0h0m2 0.5h0m2.5 0h0m-51.5 0.5h0m1.5 0h0m19.5 0h0m-13 0.5h0m4.5 0h0m3 0.5h0m-6.5 0.5h0m40.5 0h0m-24 0.5h0m4.5 0.5h0m-10 0.5h0m12.5 0h0m-3.5 0.5h0m8 0h0m-30 0.5h0m17.5 0h0m8.5 0h0m2.5 0h0m3.5 0.5h0m-26 0.5h0m8 0h0m20.5 0.5h0m3.5 0h0m-35.5 0.5h0m26.5 0h0m14.5 0.5h0m-47 0.5h0m3.5 0.5h0m4.5 0h0m5 0h0m34.5 0.5h0m-45.5 0.5h0m31.5 0h0m-11.5 0.5h0m4 0h0m-8.5 1h0m7.5 0h0m5 0h0m4 0h0m7 0.5h0m-37 0.5h0m18.5 0h0m6.5 0h0m7.5 0h0m-26 0.5h0m29 1h0m-32 0.5h0m17.5 0h0m4.5 0h0m16 0h0m-43.5 0.5h0m44 0h0m-10 0.5h0m-32 0.5h0m3.5 0h0m7 0h0m28.5 0h0m-37.5 0.5h0m11.5 0h0m11.5 0h0m4 0h0m15 0h0m-21 0.5h0m1.5 0h0m-1 0.5h0m3 0.5h0m-12.5 0.5h0m9 0h0m7.5 0h0m6.5 0h0m-17 0.5h0m6 0.5h0m-17 0.5h0m22 0.5h0m-26.5 0.5h0m17.5 0h0m5.5 0h0m8.5 0h0m-28.5 0.5h0m34 0h0m-42.5 0.5h0m1.5 0h0m10.5 0h0m-3.5 0.5h0m5.5 0h0m10 0h0m16 0h0m-36 1h0m11.5 0h0m15.5 0h0m-4.5 0.5h0m-12 1h0m9.5 0h0m3.5 0h0m11.5 0.5h0m-32 0.5h0m3.5 1h0m9 0h0m-8.5 1h0m11.5 0h0m6 0h0m14 0.5h0m0.5 0h0m-38.5 0.5h0m9.5 0h0m-10.5 0.5h0m12.5 0h0m8 0h0m2 0.5h0m6 0h0m9 0h0m-33.5 0.5h0m3 0h0m4 0h0m1 0h0m9 0.5h0m-11 1h0m26 0h0m-2.5 0.5h0m-29.5 0.5h0m20.5 0h0m2 0h0m-30 0.5h0m30.5 0.5h0m-12.5 0.5h0m5 0h0m13.5 0.5h0m7 0h0m-29 0.5h0m-11 0.5h0m6 0h0m30.5 0h0m1 0h0m-24 0.5h0m24 0h0m-31.5 0.5h0m3.5 0h0m4 0h0m15 0h0m-15 0.5h0m9 0h0m1 0h0m-29 0.5h0m27.5 0h0m-12 0.5h0m26.5 0h0m-9 0.5h0m5.5 0h0m-28.5 0.5h0m19.5 0.5h0m3 0h0m-6.5 0.5h0m-6.5 1h0m6 0h0m3.5 0h0m6.5 0.5h0m4 0h0m7.5 0h0m-47 0.5h0m17.5 0h0m-6 0.5h0m8.5 0h0m5.5 0h0m15.5 0h0m3 0h0m-23.5 1h0m10.5 0h0m-11 0.5h0m8 0h0m0.5 0h0m6 0h0m-34.5 0.5h0m41.5 0.5h0m-31 1h0m21 0h0m-12.5 1h0m6 0h0m-4 0.5h0m20 0.5h0m-41 0.5h0m3.5 0h0m24 0h0m-9 0.5h0m14 0h0m9.5 0h0m-31 0.5h0m10.5 0h0m6 0h0m16.5 0h0m-22 1h0m8.5 0h0m1 0h0m3 0h0m-34 0.5h0m42 0.5h0m-32.5 1h0m22.5 0.5h0m-8.5 0.5h0m-2.5 0.5h0m5 0.5h0m3 0h0m7 0h0m5.5 0.5h0m-41 0.5h0m4 0h0m11.5 0h0m9 0h0m-14 0.5h0m11 0h0m13 0h0m-0.5 1h0m-11.5 0.5h0m5.5 0h0m5 0h0m-33 0.5h0m24 0.5h0m19 0h0m-34.5 1h0m24 0.5h0m-10 0.5h0m1 0h0m12 0.5h0m-9 0.5h0m1 0h0m12 0h0m-38.5 0.5h0m3.5 0.5h0m11 0h0m23.5 0h0m-32.5 0.5h0m0.5 0h0m3.5 0h0m13 0h0m1 0h0m6.5 0h0m1.5 0.5h0m1 0h0m-10.5 0.5h0m7 0h0m4 0h0m5 0h0m-5 0.5h0m-33.5 0.5h0m24.5 0h0m-10 0.5h0m27 0h0m-26 1h0m15.5 0h0m-0.5 0.5h0m-8.5 0.5h0m6.5 0.5h0m9.5 0.5h0m-37.5 0.5h0m3.5 0h0m12.5 0h0m0.5 0h0m2.5 0h0m5 0h0m-18 0.5h0m4 0h0m28 0h0m6 0h0m-36.5 0.5h0m18 0h0m7 0.5h0m-4 0.5h0m2.5 0h0m-31 0.5h0m33 0h0m-19.5 0.5h0m9 0h0m0 0.5h0m-6 0.5h0m10 0h0m6.5 0.5h0m-11 0.5h0m-2 1h0m9 0h0m4 0h0m-14.5 0.5h0m5.5 0h0m14 0h0m8 0h0m-45.5 0.5h0m2.5 0h0m14 0h0m2.5 0h0m4 0h0m-17 0.5h0m5.5 0h0m11 0h0m1.5 0h0m2 0h0m14 0h0m5 0h0m-10 1h0m-6.5 0.5h0m2.5 0h0m-31.5 0.5h0m13.5 0.5h0m20 0h0m-6 0.5h0m6.5 0h0m-2.5 0.5h0m-8.5 1h0m-2.5 0.5h0m10.5 0h0m6.5 0.5h0m7.5 0h0m-44 0.5h0m1.5 0h0m2 0h0m13 0h0m6 0h0m-6 0.5h0m2.5 0h0m19.5 0h0m-32.5 0.5h0m0.5 0h0m6.5 0h0m10 0h0m9 0.5h0m2 0h0m-6.5 0.5h0m4 0h0m0.5 0h0m-31.5 0.5h0m25.5 0.5h0m-13 0.5h0m13 0.5h0m3.5 0.5h0m-6.5 0.5h0m9.5 0.5h0m-4.5 0.5h0m4 0h0m-12.5 0.5h0m17 0h0m-35.5 0.5h0m3 0h0m13.5 0h0m1.5 0h0m0.5 0h0m2.5 0h0m-16 0.5h0m7.5 0h0m11.5 0h0m10.5 0h0m-27.5 0.5h0m12.5 0.5h0m8 0h0m4.5 0.5h0m4 0h0m-35.5 0.5h0m27 0h0m-21 0.5h0m16 0h0m1.5 0h0m2 1h0m2.5 0.5h0m-5 0.5h0m9 0h0m7 0.5h0m-37.5 1h0m35.5 0h0m-18 0.5h0m2.5 0h0m7 0h0m6 0h0m-32 0.5h0m1.5 0h0m3 0h0m8.5 0h0m6 0h0m6.5 0.5h0m2.5 0h0m-6 0.5h0m4 0h0m0.5 0h0m4 0.5h0m3.5 0h0m-13.5 1h0m3.5 0.5h0m0.5 0.5h0m6 0.5h0m-9 0.5h0m0 0.5h0m9.5 0h0m3 0.5h0m0.5 0h0m-35 0.5h0m17 0h0m11.5 0h0m-27 0.5h0m0.5 0h0m16.5 0h0m2 0h0m2.5 0h0m-18.5 0.5h0m22.5 0h0m5.5 0.5h0m2 0h0m-6 0.5h0m4.5 0h0m-11 1.5h0m4 0.5h0m-10.5 0.5h0m7 0.5h0m8.5 0h0m0.5 1h0m-13 0.5h0m16.5 0h0m5 0h0m-38 0.5h0m14 0h0m6 0h0m-19.5 0.5h0m2 0h0m15.5 0h0m4.5 0h0m16.5 0h0m-17 0.5h0m4.5 0.5h0m6 0h0m-5.5 0.5h0m2 0h0m-25 0.5h0m20.5 1h0m1 0.5h0m-5.5 1.5h0m0.5 0h0m10 0h0m0 0.5h0m1.5 0h0m3 0h0m-34 0.5h0m21 0h0m11.5 0h0m-17.5 0.5h0m18 0h0m-32.5 0.5h0m1.5 0h0m15.5 0h0m23 0h0m-17 0.5h0m2 0h0m6.5 0h0m-4 0.5h0m1 0.5h0m-24.5 0.5h0m20.5 1h0m-6.5 1h0m4 0h0m-3 0.5h0m7.5 1h0m4 0h0m2.5 0h0m0.5 0h0m-32.5 0.5h0m14.5 0h0m8 0h0m-24 0.5h0m16.5 0h0m15.5 0h0m9 0h0m-38.5 0.5h0m22.5 0h0m8 0h0m-14.5 0.5h0m7.5 0h0m2 0h0m-4.5 0.5h0m1 0h0m3 0h0m0.5 0h0m-27.5 0.5h0m5 0.5h0m26.5 0.5h0m-7 0.5h0m7.5 0h0m-12.5 1h0m-2.5 0.5h0m1.5 0.5h0m8 0h0m-24.5 0.5h0m24 0h0m6.5 0h0m-15.5 0.5h0m16.5 0h0m-34 0.5h0m2 0h0m10.5 0h0m4.5 0h0m7.5 0h0m6 0h0m9.5 0h0m-14 0.5h0m6 0h0m1 0h0m-9.5 0.5h0m1.5 0h0m3 0h0m2 0h0m-27.5 1h0m3 0h0m12 0h0m-2 0.5h0m11.5 1h0m-6 1h0m-3 0.5h0m1.5 0h0m0.5 0h0m-5.5 0.5h0m14 0h0m-26 0.5h0m1 0.5h0m14 0h0m1.5 0h0m0.5 0h0m11 0h0m8.5 0h0m-14.5 1h0m2 0h0m1.5 0h0m3.5 0h0m0 0.5h0m-28 0.5h0m21 0h0m1 0h0m-19 0.5h0m10.5 0h0m1.5 0h0m4 2h0m-6.5 1h0m0.5 0h0m10.5 0h0m4 0h0m1 0.5h0m-14.5 0.5h0m-15 0.5h0m3 0h0m12 0h0m4.5 0h0m6.5 0h0m10.5 0h0m-17 0.5h0m5 0.5h0m2.5 0h0m0.5 0h0m-5 0.5h0m1 0h0m6 0h0m-25.5 0.5h0m11.5 0.5h0m2.5 0h0m0.5 2h0m-2 0.5h0m-2 0.5h0m8.5 0h0m-8 0.5h0m9 0h0m-7.5 0.5h0m4.5 0h0m-20 0.5h0m0.5 0h0m16.5 0h0m8 0h0m11.5 0h0m-16 0.5h0m2 0h0m4 0h0m2.5 0.5h0m1 1h0m-14 0.5h0m11.5 0h0m-3.5 0.5h0m-11.5 1.5h0m5.5 0h0m-0.5 0.5h0m-2 1h0m6.5 0h0m-21 0.5h0m9 0h0m9 0h0m7.5 0h0m7.5 0h0m-32.5 0.5h0m25 0h0m-8.5 0.5h0m7.5 2h0m-4 0.5h0m5.5 0h0m-16.5 1h0m3.5 0h0m4 0h0m1.5 0h0m-1.5 1h0m14 1h0m-30 0.5h0m0.5 0h0m4.5 0h0m5 0h0m13.5 0h0m2 0h0m-10 0.5h0m4 0h0m0.5 0h0m5 0h0m-0.5 1h0m-9 0.5h0m4 1h0m6 0.5h0m-18 0.5h0m5 0.5h0m0.5 0.5h0m3.5 0h0m7 0h0m-4 1h0m-19.5 0.5h0m7.5 0h0m3 0h0m13.5 0h0m2.5 0h0m-9 0.5h0m5 0h0m-1.5 0.5h0m4.5 0h0m-15 0.5h0m3 1h0m7 1h0m-8 1.5h0m3.5 0h0m4 0.5h0m5 0h0m-25 1.5h0m7.5 0h0m2.5 0h0m7.5 0h0m9 0h0m0.5 0h0m-9 0.5h0m3.5 0h0m3.5 0h0m-4.5 0.5h0m4.5 0h0m1.5 0.5h0m-12.5 1h0m11.5 0h0m-13 2h0m4.5 0h0m-17.5 2h0m24.5 0h0m3.5 0h0m-26 0.5h0m11 0h0m4.5 0h0m10.5 0h0m-11 0.5h0m5 0h0m1.5 0h0m4 0.5h0m-11.5 1h0m-2.5 0.5h0m6.5 1h0m-1.5 0.5h0m-6.5 0.5h0m5.5 0h0m8.5 1h0m-24 0.5h0m12.5 0.5h0m3.5 0h0m7.5 0h0m1 0h0m-4 1h0m2.5 0.5h0m-12.5 1h0m4.5 1.5h0m11.5 0h0m-9.5 0.5h0m1.5 0h0m8 0.5h0m-5.5 0.5h0m4.5 0h0m-12 1h0m11 0h0m-9 0.5h0m-1.5 0.5h0m6 0h0m1 0h0m2 0.5h0m-12 1.5h0m6.5 1.5h0m3.5 0.5h0m2 0.5h0m2 0h0m-10.5 1h0m1 0.5h0m5.5 0.5h0m-6.5 0.5h0m5 0h0m2 0h0m5 0h0m-9 0.5h0m10 1.5h0m-3.5 0.5h0m-9.5 0.5h0m11 1.5h0m-21 1h0m10.5 0h0m6 0h0m-3.5 0.5h0m2 0.5h0m2.5 0h0m-4.5 0.5h0m0.5 0.5h0m0.5 0h0m-3 2h0m9 0h0m2 1.5h0m-13.5 0.5h0m15.5 0h0m-11.5 0.5h0m3.5 0h0m-16 0.5h0m7.5 0h0m7 0h0m-0.5 1h0m0.5 0h0m3.5 0.5h0m0.5 2h0m-6 0.5h0m8.5 0.5h0m-11 1h0m12 0h0m2.5 0.5h0m-17 0.5h0m5 0h0m3.5 0h0m-2.5 0.5h0m4.5 0h0m-3 1h0m1.5 0.5h0m2 0h0m0.5 2h0m-6 0.5h0m-7 0.5h0m15.5 0.5h0m-11 0.5h0m13 0h0m-7 1h0m1.5 0h0m-2.5 1h0m0 1h0m-2.5 2h0m5.5 0h0m0 1h0m3.5 0.5h0m-18.5 1h0m14 0.5h0m2 0h0m-4 1.5h0m-0.5 2h0m-2 0.5h0m-3 0.5h0m7 0h0m5.5 1h0m2 0.5h0m-9 0.5h0m-4 0.5h0m8 0h0m-4.5 0.5h0m0.5 0.5h0m-22.5 2.5h0m2 0h0m13.5 1h0m9 0h0m4 1h0m-14 0.5h0m-5 0.5h0m12.5 0h0m-16.5 0.5h0m27.5 0h0m-11.5 0.5h0m-18.5 3h0m12.5 0.5h0m1 0.5h0m11.5 1h0m-19 0.5h0m6.5 0h0m-10 0.5h0m4 0h0m8 0h0m13 0.5h0m-9 0.5h0m-19 2.5h0m11.5 1h0m3.5 1h0m10 0h0m-18.5 1h0m5 0h0m3 0.5h0m9 3.5h0m-11.5 0.5h0m4 1.5h0m9 0h0m-17.5 0.5h0m5 0h0m-6.5 0.5h0m21.5 0.5h0m-4 3h0m-12 1h0m4 1h0m-8 1h0m3.5 0h0m-9 0.5h0m4 0h0m20.5 0.5h0m-26.5 3h0m23 0h0m-12.5 0.5h0m6 1.5h0m-10 0.5h0m4 0h0m-4.5 0.5h0m-4 0.5h0m-6 3.5h0m4.5 0h0m10 0.5h0m4.5 1h0m-9 1h0m5 0h0m-6 0.5h0m-4.5 3.5h0m-4.5 0.5h0m17.5 1.5h0m-8 1h0m4 0h0m8 1h0m-21.5 3h0m13.5 0.5h0m3.5 1.5h0m-8.5 0.5h0m4 0h0m4.5 0.5h0m-16.5 4h0m11.5 0.5h0m5 1h0m-8.5 1h0m-8 4h0m10.5 0.5h0m-2.5 2h0m-8.5 4.5h0m8 2.5h0m-6.5 4h0m9 1h0m-3 2h0m-8 4h0m1.5 0h0m-2 7h0m8 2.5h0m-7.5 4h0m10.5 0.5h0m-11 6.5h0m7.5 2.5h0m-7.5 4.5h0" fill="none" stroke="#00ffff" stroke-width="5.7" stroke-linecap="round"/>
<polyline points="264.5,154.7 265.5,426.7 273.3,698.7" fill="none" stroke="#0000ff" stroke-width="2.5" stroke-linejoin="round" stroke-linecap="butt"/><g fill="#0000ff"><circle cx="264.5" cy="154.7" r="6.1"/><circle cx="265.5" cy="426.7" r="6.1"/><circle cx="273.3" cy="698.7" r="6.1"/></g>
<polyline points="314.8,18.7 282.1,73.1 284.6,127.5 285.4,181.9 286.1,236.3 286.1,290.7 286.1,345.1 286.1,426.7 286.1,562.7 286.1,698.7" fill="none" stroke="#ff0000" stroke-width="8.3" stroke-linejoin="round" stroke-linecap="butt"/><g fill="#ff0000"><circle cx="314.8" cy="18.7" r="5.9"/><circle cx="282.1" cy="73.1" r="5.9"/><circle cx="284.6" cy="127.5" r="5.9"/><circle cx="285.4" cy="181.9" r="5.9"/><circle cx="286.1" cy="236.3" r="5.9"/><circle cx="286.1" cy="290.7" r="5.9"/><circle cx="286.1" cy="345.1" r="5.9"/><circle cx="286.1" cy="426.7" r="5.9"/><circle cx="286.1" cy="562.7" r="5.9"/><circle cx="286.1" cy="698.7" r="5.9"/></g>
<polyline points="337.5,18.7 305.5,73.1 308.5,127.5 310.3,181.9 311.3,236.3 312.3,290.7 312.3,345.1 313.3,426.7 312.3,562.7 313.3,698.7" fill="none" stroke="#c8860a" stroke-width="3.6" stroke-linejoin="round"/><polyline points="337.5,18.7 305.5,73.1 308.5,127.5 310.3,181.9 311.3,236.3 312.3,290.7 312.3,345.1 313.3,426.7 312.3,562.7 313.3,698.7" fill="none" stroke="#ffa500" stroke-width="2.3" stroke-linejoin="round" stroke-linecap="butt"/><g fill="#ffa500" stroke="#8a7a55" stroke-width="0.7"><circle cx="337.5" cy="18.7" r="5.8"/><circle cx="305.5" cy="73.1" r="5.8"/><circle cx="308.5" cy="127.5" r="5.8"/><circle cx="310.3" cy="181.9" r="5.8"/><circle cx="311.3" cy="236.3" r="5.8"/><circle cx="312.3" cy="290.7" r="5.8"/><circle cx="312.3" cy="345.1" r="5.8"/><circle cx="313.3" cy="426.7" r="5.8"/><circle cx="312.3" cy="562.7" r="5.8"/><circle cx="313.3" cy="698.7" r="5.8"/></g>
<polyline points="350.6,18.7 353.3,73.1 353.3,127.5 352.3,181.9 352.3,236.3 351.3,290.7 351.3,345.1 352.3,426.7 318.3,562.7 301.2,698.7" fill="none" stroke="#008000" stroke-width="2.8" stroke-linejoin="round" stroke-linecap="butt"/><g fill="#008000"><circle cx="350.6" cy="18.7" r="6.1"/><circle cx="353.3" cy="73.1" r="6.1"/><circle cx="353.3" cy="127.5" r="6.1"/><circle cx="352.3" cy="181.9" r="6.1"/><circle cx="352.3" cy="236.3" r="6.1"/><circle cx="351.3" cy="290.7" r="6.1"/><circle cx="351.3" cy="345.1" r="6.1"/><circle cx="352.3" cy="426.7" r="6.1"/><circle cx="318.3" cy="562.7" r="6.1"/><circle cx="301.2" cy="698.7" r="6.1"/></g>
<polyline points="205.4,32.1 209.6,60.6 211.4,90.7 212.4,122.6 213.4,156.8 213.4,193.9 214.4,234.4 216.4,279.1 219.5,328.9 221.5,385.0 226.5,448.7 234.5,521.8 213.4,606.2" fill="none" stroke="#ff00ff" stroke-width="2.8" stroke-linejoin="round" stroke-linecap="butt"/><g fill="#ff00ff"><circle cx="205.4" cy="32.1" r="6.1"/><circle cx="209.6" cy="60.6" r="6.1"/><circle cx="211.4" cy="90.7" r="6.1"/><circle cx="212.4" cy="122.6" r="6.1"/><circle cx="213.4" cy="156.8" r="6.1"/><circle cx="213.4" cy="193.9" r="6.1"/><circle cx="214.4" cy="234.4" r="6.1"/><circle cx="216.4" cy="279.1" r="6.1"/><circle cx="219.5" cy="328.9" r="6.1"/><circle cx="221.5" cy="385.0" r="6.1"/><circle cx="226.5" cy="448.7" r="6.1"/><circle cx="234.5" cy="521.8" r="6.1"/><circle cx="213.4" cy="606.2" r="6.1"/></g>
</g>
<rect x="77.6" y="19.4" width="404.0" height="784.1" fill="none" stroke="#000" stroke-width="1.15"/>
<g stroke="#000" stroke-width="1.15">
<line x1="98.5" y1="803.5" x2="98.5" y2="809.5"/>
<line x1="163.5" y1="803.5" x2="163.5" y2="809.5"/>
<line x1="227.5" y1="803.5" x2="227.5" y2="809.5"/>
<line x1="291.5" y1="803.5" x2="291.5" y2="809.5"/>
<line x1="355.5" y1="803.5" x2="355.5" y2="809.5"/>
<line x1="419.5" y1="803.5" x2="419.5" y2="809.5"/>
<line x1="77.6" y1="18.5" x2="71.6" y2="18.5"/>
<line x1="77.6" y1="154.5" x2="71.6" y2="154.5"/>
<line x1="77.6" y1="290.5" x2="71.6" y2="290.5"/>
<line x1="77.6" y1="426.5" x2="71.6" y2="426.5"/>
<line x1="77.6" y1="562.5" x2="71.6" y2="562.5"/>
<line x1="77.6" y1="698.5" x2="71.6" y2="698.5"/>
</g>
<g font-size="17.1" text-anchor="middle">
<text x="98.5" y="830">16.75</text>
<text x="163.5" y="830">17.00</text>
<text x="227.5" y="830">17.25</text>
<text x="291.5" y="830">17.50</text>
<text x="355.5" y="830">17.75</text>
<text x="419.5" y="830">18.00</text>
</g>
<g stroke="#b0b0b0" stroke-width="0.75" stroke-dasharray="2.8,1.3" fill="none">
<line x1="646.5" y1="19.4" x2="646.5" y2="803.5"/>
<line x1="750.5" y1="19.4" x2="750.5" y2="803.5"/>
<line x1="854.5" y1="19.4" x2="854.5" y2="803.5"/>
<line x1="958.5" y1="19.4" x2="958.5" y2="803.5"/>
<line x1="572.4" y1="154.5" x2="976.5" y2="154.5"/>
<line x1="572.4" y1="290.5" x2="976.5" y2="290.5"/>
<line x1="572.4" y1="426.5" x2="976.5" y2="426.5"/>
<line x1="572.4" y1="562.5" x2="976.5" y2="562.5"/>
<line x1="572.4" y1="698.5" x2="976.5" y2="698.5"/>
</g>
<g clip-path="url(#c1)">
<path d="m689 23h0m8 1h0m-15 1h0m12 1h0m-2 36h0m-6.5 11.5h0m7 1.5h0m-21.5 1h0m18.5 0h0m-6 0.5h0m6.5 0h0m6 0h0m1 0h0m-3.5 0.5h0m2.5 0h0m2.5 0.5h0m-9.5 1.5h0m6 0h0m6.5 1h0m-22.5 1h0m14 0.5h0m0 0.5h0m7 0h0m-27.5 1h0m17 0h0m7.5 0h0m1.5 0h0m4.5 0h0m-20.5 0.5h0m12.5 0.5h0m-20 1.5h0m21.5 0h0m-7.5 0.5h0m14.5 0h0m-5 0.5h0m4 0h0m1.5 0.5h0m-22 0.5h0m7.5 0h0m1 0h0m1 0h0m0.5 1h0m-0.5 0.5h0m8.5 0h0m-27.5 0.5h0m26 0h0m-9.5 0.5h0m7.5 0h0m2 0h0m4.5 0h0m-19.5 0.5h0m10 0h0m3 0h0m5.5 0h0m-26 1.5h0m18.5 0h0m4 0h0m-27.5 0.5h0m18.5 0h0m14.5 0.5h0m-3.5 0.5h0m-8.5 0.5h0m8.5 0h0m-18.5 0.5h0m1 0h0m14.5 0h0m-5.5 0.5h0m8 1h0m-28.5 0.5h0m18.5 0h0m14 0h0m-22 0.5h0m21 0h0m-21 1h0m9 0.5h0m3 0h0m-22 0.5h0m23.5 0h0m1.5 0h0m-7.5 0.5h0m-4.5 0.5h0m18.5 0h0m0.5 0.5h0m-35 0.5h0m21.5 0h0m3 0.5h0m5.5 0h0m0.5 0h0m2.5 1h0m-30 0.5h0m27.5 0.5h0m6.5 0h0m-23.5 0.5h0m13.5 0h0m9.5 0h0m-15 1h0m8 0.5h0m-25 0.5h0m16 0.5h0m11.5 0.5h0m5 0h0m-38 0.5h0m22.5 0h0m4 0h0m-26 1h0m22.5 0.5h0m1 0.5h0m10.5 0h0m-7.5 0.5h0m5 0h0m1 0h0m6 0h0m-26.5 0.5h0m16.5 0h0m0.5 0h0m3.5 0h0m-9 1h0m0 0.5h0m-3.5 1h0m-19.5 0.5h0m35.5 0h0m3 0.5h0m-15.5 0.5h0m7 0h0m1.5 0.5h0m-11 0.5h0m0.5 0h0m2.5 0h0m3.5 0h0m-13 0.5h0m9.5 0h0m7 0.5h0m-27 0.5h0m29 0h0m4.5 0h0m-7 0.5h0m-4 1h0m8.5 0h0m-21.5 0.5h0m11.5 0h0m-20.5 0.5h0m15 0h0m-3 0.5h0m-18.5 0.5h0m34 0h0m6 0h0m-7.5 1.5h0m0.5 0h0m-10 0.5h0m7 0h0m-12 0.5h0m10 0h0m5.5 0h0m1 0h0m1 0h0m-28.5 0.5h0m5 0h0m19.5 0.5h0m8.5 0h0m-12.5 0.5h0m-1 1h0m7.5 0h0m-19 0.5h0m7.5 0.5h0m-21.5 0.5h0m32.5 0.5h0m7 0h0m-16.5 0.5h0m1.5 0h0m-1.5 1h0m5 0h0m1 0h0m-13.5 0.5h0m14.5 0h0m-2 0.5h0m4.5 0h0m1 0h0m-25.5 0.5h0m27.5 0h0m1.5 0h0m-11 0.5h0m6.5 0h0m1.5 1h0m-10.5 0.5h0m9 0h0m-9.5 1h0m0.5 0h0m-24.5 0.5h0m31.5 0h0m7.5 0.5h0m-10.5 1h0m3.5 0h0m6.5 0h0m-37 0.5h0m16.5 0h0m6.5 0h0m0.5 0h0m1.5 0h0m-21 1h0m4 0h0m16.5 0h0m7.5 0.5h0m1.5 0h0m5.5 0h0m-9.5 1h0m3.5 0.5h0m-19.5 1h0m0.5 0h0m8 0h0m14.5 1h0m0.5 0h0m-14.5 0.5h0m5 0h0m-3 0.5h0m4.5 0h0m-29.5 0.5h0m16.5 0h0m12.5 0h0m-13 0.5h0m15.5 0h0m-27 0.5h0m21.5 0h0m2 0h0m5 0h0m2 0h0m-11 0.5h0m15.5 0h0m-22 0.5h0m14 1.5h0m-18 0.5h0m10 0.5h0m14 0.5h0m-14.5 0.5h0m2 0.5h0m3.5 0h0m4.5 0h0m-34 1h0m14.5 0h0m3.5 0h0m11 0h0m-10 0.5h0m8.5 0h0m5 0h0m1.5 0h0m1.5 0h0m-30 0.5h0m23.5 0h0m-4 0.5h0m10 0h0m6 0h0m-22.5 0.5h0m13.5 1h0m-17 1h0m11.5 0h0m10.5 0h0m-15.5 0.5h0m4 0h0m-1 1h0m2.5 0h0m1.5 0.5h0m6.5 0h0m-16.5 0.5h0m12.5 0h0m-32.5 0.5h0m17.5 0h0m3.5 0h0m8 0h0m-9.5 0.5h0m12.5 0h0m2 0h0m1 0h0m-7.5 0.5h0m8 0h0m-1 0.5h0m2 0h0m6.5 0h0m-22.5 0.5h0m18.5 1h0m-23 0.5h0m19 0h0m-25.5 0.5h0m16 0h0m0.5 0h0m12 0h0m-16 0.5h0m1.5 0.5h0m4.5 0.5h0m2 0h0m1.5 0.5h0m-28 0.5h0m15 0h0m14 0h0m-13 0.5h0m1 0h0m9 0.5h0m1 0h0m4 0h0m3 0h0m5 0.5h0m-11.5 1h0m-9 0.5h0m12 0.5h0m-24 0.5h0m4.5 0h0m11 0.5h0m13 0h0m-20 0.5h0m9 0.5h0m13.5 0h0m-12.5 0.5h0m2.5 0.5h0m-27 0.5h0m14 0h0m2 0h0m2 0h0m7 0h0m5 0h0m-15 0.5h0m8 0h0m8 0h0m-12.5 1.5h0m11.5 0h0m4 0h0m-6 1h0m4 0h0m-28 1h0m5 0h0m12 0h0m3.5 0h0m-9.5 1h0m23 0h0m-17.5 0.5h0m3 0.5h0m2 0h0m1 0h0m3 0h0m3.5 0h0m-20 0.5h0m0 0.5h0m4 0h0m0.5 0h0m5.5 0h0m4 0.5h0m-18.5 0.5h0m27.5 0h0m-11 0.5h0m11 0h0m-13 0.5h0m-5 0.5h0m10.5 0h0m1 0h0m2.5 0.5h0m-28.5 1h0m17 0h0m0.5 0h0m-15.5 0.5h0m28 0.5h0m2.5 0h0m1 0h0m-32.5 0.5h0m28.5 0.5h0m-15 0.5h0m5.5 0h0m7.5 0h0m-15.5 0.5h0m10.5 0h0m6.5 0h0m-24.5 0.5h0m25 0.5h0m2 0h0m-17 0.5h0m-1.5 1h0m17 0.5h0m-29.5 0.5h0m18 0h0m6 0h0m4 0h0m-3 0.5h0m-22 0.5h0m28 0h0m1.5 0h0m-10 0.5h0m5.5 0h0m7 0h0m-35 0.5h0m13 0h0m14.5 0h0m3.5 0h0m-17.5 0.5h0m9.5 0h0m-13.5 0.5h0m1.5 0.5h0m18.5 0h0m-29 0.5h0m4.5 0h0m22 0h0m4.5 0h0m-11 0.5h0m-3.5 0.5h0m6.5 0h0m0.5 0h0m-10 0.5h0m14.5 0.5h0m-21.5 0.5h0m21.5 0h0m-27.5 0.5h0m19 0h0m3 0h0m-5.5 1h0m13.5 0h0m1 0h0m4 0h0m-13 0.5h0m-22.5 0.5h0m14.5 0h0m13.5 0h0m0.5 0h0m-20 1h0m2.5 0h0m10 0h0m7.5 0h0m-6 0.5h0m5 0h0m-29 0.5h0m7 0h0m14.5 0h0m5 0h0m7 0h0m1 0h0m-7.5 0.5h0m-0.5 0.5h0m-10.5 0.5h0m13.5 0h0m-28 1h0m7.5 0h0m13.5 0h0m-1 0.5h0m-20.5 0.5h0m8 0.5h0m25 0h0m2 0h0m-35.5 0.5h0m1.5 0h0m21.5 0h0m-6 0.5h0m10 0h0m6.5 0h0m-20 0.5h0m13.5 0h0m-17 0.5h0m13 0h0m8 0h0m-32 0.5h0m21.5 0.5h0m4 0h0m1 0h0m9.5 0h0m-11 1h0m4.5 0h0m-12 0.5h0m-14.5 1h0m18 0h0m3 0h0m-21 1h0m5 0h0m8 0h0m17 0h0m3.5 0h0m-36 0.5h0m19 0h0m-17 0.5h0m15.5 0h0m7.5 0h0m2 0h0m2 0h0m0 0.5h0m5 0h0m-20.5 0.5h0m3.5 0h0m13 0h0m-31 1h0m28 0h0m-8 0.5h0m3 0h0m4.5 0h0m2 0h0m5.5 0h0m-4.5 0.5h0m-2.5 0.5h0m-5.5 1h0m-19.5 0.5h0m20 0h0m11 0h0m-28.5 0.5h0m12 0h0m-19.5 1h0m3.5 0h0m4.5 0h0m20.5 0h0m-6.5 0.5h0m5.5 0h0m1.5 0h0m5.5 0h0m3.5 0h0m-22 0.5h0m3 0h0m10.5 0h0m3.5 0.5h0m1.5 0h0m-30.5 0.5h0m19 1h0m8 0h0m2 0.5h0m-19 0.5h0m14.5 0h0m8 0h0m-30.5 1h0m13.5 1h0m17.5 0h0m-37.5 0.5h0m23 0h0m17 0h0m-36 0.5h0m6 0h0m17 0h0m0.5 0h0m0.5 0h0m7.5 0h0m-5.5 0.5h0m2 0h0m7 0h0m-22.5 0.5h0m3 0h0m-13.5 0.5h0m22 0h0m5.5 0h0m-7.5 1h0m-5.5 0.5h0m-5.5 1h0m16.5 0h0m4.5 0h0m-21.5 0.5h0m23 0.5h0m-30 0.5h0m29.5 0.5h0m-36 0.5h0m9.5 0h0m15 0h0m6 0h0m-29 0.5h0m13.5 0h0m10.5 0h0m1 0h0m8 0h0m3.5 0h0m-20 1h0m2 0h0m13 0h0m-6 0.5h0m-23.5 0.5h0m7.5 0h0m14 0h0m4 1h0m1.5 0h0m2.5 0h0m-17.5 0.5h0m21.5 0h0m-21.5 0.5h0m2 1h0m7.5 0h0m-17.5 0.5h0m28.5 0h0m-3 0.5h0m-30.5 0.5h0m22.5 0h0m3 0h0m-13 0.5h0m18 0h0m-16.5 0.5h0m3 0h0m6.5 0.5h0m1 0h0m-14 0.5h0m12.5 0.5h0m7 0h0m-11.5 0.5h0m6.5 0h0m1 0h0m1 0h0m2 0h0m-17.5 1h0m20.5 0h0m-18.5 0.5h0m1 0.5h0m9.5 0h0m10 0.5h0m-28 0.5h0m0.5 0.5h0m-8.5 0.5h0m23.5 0h0m10.5 0h0m-8.5 0.5h0m-8.5 0.5h0m1.5 0h0m9.5 0h0m-2.5 0.5h0m5 0h0m-18 0.5h0m9 0.5h0m2 0h0m6 0h0m9 0h0m-9 0.5h0m0.5 0h0m1 0h0m4.5 0.5h0m-21.5 0.5h0m2.5 0.5h0m9.5 0.5h0m0.5 0h0m-16.5 0.5h0m14 0h0m11.5 0.5h0m2 0h0m-11 0.5h0m-12.5 0.5h0m8.5 0h0m2.5 0h0m16 0h0m-22.5 0.5h0m9.5 0h0m3.5 0.5h0m-20 0.5h0m8.5 0.5h0m4.5 0h0m2 0.5h0m4.5 0h0m4.5 0h0m-3.5 0.5h0m4.5 0.5h0m-18.5 0.5h0m9 0.5h0m18.5 0h0m-22 0.5h0m-12.5 0.5h0m30.5 0h0m-14.5 1h0m8.5 0h0m-23 0.5h0m17 0h0m14.5 0h0m-29 0.5h0m4 0h0m13 0h0m-4 0.5h0m5 0h0m-19.5 0.5h0m11.5 0h0m-3 0.5h0m7 0h0m5.5 0h0m-15 0.5h0m9.5 0h0m3 0h0m2 0h0m-5.5 1.5h0m5 0.5h0m15 0h0m-26 0.5h0m13 0.5h0m9.5 0h0m-14.5 0.5h0m-4 0.5h0m8.5 0h0m11 0h0m-31 0.5h0m14.5 0h0m-9.5 0.5h0m12.5 0h0m5 0h0m-10.5 0.5h0m1 0h0m-4 0.5h0m6.5 0h0m-12.5 0.5h0m15 0h0m6.5 0h0m-10.5 0.5h0m17.5 0h0m-34.5 0.5h0m20 0h0m-5.5 0.5h0m7 1h0m2.5 0.5h0m-31 1h0m4 0h0m20 0h0m0.5 0h0m7 0h0m-16.5 0.5h0m10 0h0m6.5 0h0m-22 0.5h0m4.5 0h0m9 0h0m0 0.5h0m-2.5 1h0m10 0h0m-18 0.5h0m12.5 0h0m1.5 0h0m3.5 0h0m13 0.5h0m-33 0.5h0m4.5 0h0m7 0.5h0m-1 0.5h0m-8.5 0.5h0m21 0h0m1.5 0.5h0m-12.5 0.5h0m-20 0.5h0m28 0h0m-19.5 0.5h0m5 0h0m8 0h0m9.5 0h0m-7 0.5h0m-4.5 0.5h0m2 0.5h0m5 0.5h0m0.5 0h0m-1.5 0.5h0m19.5 0h0m-34 0.5h0m23.5 2.5h0m-13 0.5h0m1 0h0m5.5 0h0m0.5 0h0m-25.5 0.5h0m25 0h0m5 0h0m-22.5 0.5h0m0.5 0h0m2 0h0m-5.5 0.5h0m16 0.5h0m-2.5 0.5h0m6 0h0m-3.5 0.5h0m4 0h0m-1.5 0.5h0m3 0h0m10.5 0h0m-25 0.5h0m9.5 0h0m1.5 0h0m-9.5 1h0m8.5 0h0m16.5 0h0m-39.5 1h0m34 0h0m-26.5 1h0m19.5 0h0m-17.5 0.5h0m9 0h0m3 0h0m18 0h0m-30.5 0.5h0m5 0h0m4.5 0h0m-23.5 0.5h0m11 0h0m14.5 0h0m2.5 0h0m6.5 0h0m2 0h0m-12.5 0.5h0m7 0.5h0m2 0h0m-3 1h0m4 0.5h0m18 0h0m-34 1h0m3 0h0m-14 0.5h0m39.5 0.5h0m-20.5 0.5h0m-13 0.5h0m0.5 0h0m14 0h0m3.5 0h0m-10.5 0.5h0m7 0h0m7.5 0h0m-21 0.5h0m1.5 0h0m10 0.5h0m1 0h0m3 0h0m8 0h0m-8.5 0.5h0m2.5 0h0m-6.5 0.5h0m1 0h0m10.5 1h0m-7 0.5h0m26 0h0m-35.5 1h0m0.5 0h0m-15.5 0.5h0m14 0.5h0m14.5 0h0m-8 0.5h0m2.5 0h0m1 0h0m2.5 0h0m-17.5 0.5h0m28 0h0m-28 0.5h0m5.5 0h0m4.5 0h0m-11.5 0.5h0m14.5 0h0m8 0h0m5 0h0m-12 1h0m5.5 0h0m15 0h0m-23.5 0.5h0m10 0.5h0m-6 1h0m1 0h0m-9 0.5h0m-4.5 0.5h0m-13 0.5h0m33 0h0m1.5 0h0m-12 0.5h0m5 0h0m-25 0.5h0m8 0h0m2 0.5h0m10 0h0m13 0h0m19 0h0m-49.5 0.5h0m5.5 0h0m0.5 0h0m7 0h0m0.5 0h0m11 0h0m2.5 0h0m-9.5 0.5h0m10.5 0h0m-31 0.5h0m15.5 0.5h0m6.5 0.5h0m2.5 0h0m5.5 0h0m-10 0.5h0m6 1h0m-28.5 0.5h0m17 0h0m0.5 0h0m-13 0.5h0m34.5 0.5h0m6.5 0h0m-43 0.5h0m17.5 0h0m3 0h0m3 0h0m17 0h0m-11 0.5h0m2 0h0m30.5 0h0m-76.5 0.5h0m25 0h0m16.5 0h0m-19 0.5h0m11 0h0m2.5 0h0m9 0h0m-14.5 0.5h0m-16.5 0.5h0m27 0h0m-16.5 0.5h0m20.5 0h0m-18.5 0.5h0m13 0h0m10 0h0m-7 0.5h0m2 0h0m-2 0.5h0m7.5 0h0m-18 0.5h0m-5.5 1h0m25 0h0m-15.5 0.5h0m8 0h0m1 0h0m16.5 0h0m-29.5 0.5h0m3.5 0h0m14 0h0m-28 0.5h0m19.5 0h0m42 0h0m-79 0.5h0m14 0h0m7.5 0h0m-13.5 0.5h0m19 0h0m5.5 0h0m7 0h0m1 0h0m4.5 0h0m32.5 0h0m-61.5 0.5h0m24 0.5h0m-22.5 0.5h0m10.5 0h0m2.5 0h0m2.5 0h0m9.5 0h0m8.5 0h0m-29 0.5h0m2 0h0m18 0.5h0m-1 0.5h0m-32.5 0.5h0m21 0h0m30 0h0m-29.5 0.5h0m9.5 0.5h0m8.5 0h0m7 0h0m-31.5 0.5h0m3.5 0h0m14 0h0m17 0h0m-40 0.5h0m14 0h0m1.5 0h0m1.5 0h0m7.5 0h0m8 0h0m41 0h0m-88.5 0.5h0m11 0h0m10.5 0h0m3.5 0h0m-6.5 0.5h0m13.5 0h0m9 0h0m-38.5 0.5h0m25 0h0m4 0h0m15 0h0m-34 0.5h0m25 0h0m5 0h0m-33.5 0.5h0m26 0h0m53.5 0h0m-65 0.5h0m27.5 0h0m-2.5 0.5h0m-27 0.5h0m14 0h0m-26.5 0.5h0m20 0.5h0m-6 0.5h0m7 0h0m14 0.5h0m6.5 0h0m-26 0.5h0m5.5 0h0m6.5 0h0m-29.5 0.5h0m7 0h0m33.5 0h0m-50.5 0.5h0m19.5 0h0m27 0h0m-24 0.5h0m9.5 0h0m3.5 0h0m4.5 0h0m6 0h0m4.5 0h0m-37 0.5h0m8.5 0h0m28 0.5h0m6 0h0m-46 0.5h0m30.5 0h0m47 0h0m-131.5 0.5h0m74.5 0h0m13 0h0m20 0h0m-28.5 0.5h0m10.5 0h0m-9 1h0m5 0h0m9 0h0m-25.5 0.5h0m-11.5 0.5h0m42.5 0h0m-1.5 0.5h0m-37 0.5h0m3.5 0h0m19 0h0m18 0h0m-45.5 0.5h0m1 0h0m8.5 0h0m-1 0.5h0m11 0h0m17.5 0h0m-25 0.5h0m11.5 0h0m12 0h0m4 0h0m-38.5 0.5h0m44 0h0m-47 0.5h0m13.5 0h0m6.5 0h0m11 0h0m12.5 0h0m42 0h0m-58 0.5h0m-10.5 0.5h0m18 0.5h0m11.5 0.5h0m5.5 0h0m-31.5 0.5h0m3 0h0m6.5 0h0m5.5 0h0m-29.5 0.5h0m26 0h0m62 0h0m-52 0.5h0m-25 0.5h0m5 0h0m1 0h0m29 0h0m-50.5 0.5h0m6.5 0h0m5 0h0m39.5 0h0m-52.5 0.5h0m10.5 0.5h0m14 0h0m10 0h0m4.5 0h0m9.5 0h0m-56 0.5h0m34.5 0h0m42.5 0h0m-69.5 0.5h0m36 0h0m52 0h0m-84.5 0.5h0m12 0h0m5 0h0m14 0h0m3 0h0m49 0h0m-64 0.5h0m3.5 0.5h0m12 0h0m9 0.5h0m-18 0.5h0m7.5 0h0m-25.5 0.5h0m17.5 0h0m-20 0.5h0m26.5 0h0m1.5 0h0m30 0h0m-59 0.5h0m44 0h0m-37 0.5h0m5.5 0h0m2 0h0m35.5 0h0m-52 0.5h0m2 0.5h0m21 0h0m5 0h0m10 0h0m-52.5 0.5h0m22.5 0h0m1.5 0h0m2 0h0m9.5 0h0m8.5 0h0m8 0h0m-45 0.5h0m83 0h0m6.5 0h0m-51 0.5h0m-26.5 0.5h0m38.5 0h0m64.5 0h0m-88.5 1h0m4.5 0h0m-0.5 0.5h0m-27 0.5h0m18.5 0h0m19.5 0h0m-33.5 0.5h0m-1.5 0.5h0m36 0h0m49.5 0h0m-78 0.5h0m5.5 0h0m35.5 0h0m21.5 0h0m-59 0.5h0m5 0h0m-15.5 0.5h0m5.5 0h0m13.5 0h0m-9.5 0.5h0m3 0h0m18 0h0m16 0h0m43 0h0m-88 0.5h0m13 0h0m9.5 0h0m10.5 0h0m4.5 0.5h0m55.5 0h0m-88 0.5h0m40.5 0h0m66.5 0h0m-87.5 1h0m-3 0.5h0m6.5 0h0m-31.5 0.5h0m23 0h0m-9 0.5h0m13 0h0m-18 0.5h0m42 0h0m-45.5 0.5h0m13.5 0h0m30 0h0m51.5 0h0m-89.5 0.5h0m14.5 0h0m43.5 0h0m-63.5 0.5h0m8 0h0m6 0h0m1 0h0m63.5 0h0m-64.5 0.5h0m3.5 0h0m24.5 0h0m-33 0.5h0m8 0h0m6 0h0m1.5 0h0m4 0h0m5 0h0m56.5 0h0m-87 0.5h0m11.5 0.5h0m29.5 0h0m78.5 0.5h0m-67 0.5h0m-28.5 0.5h0m-16 0.5h0m10 0h0m3 0h0m16 0h0m-36.5 0.5h0m3 0.5h0m-9 0.5h0m2 0h0m35 0h0m15 0h0m-36.5 0.5h0m25.5 0h0m-33.5 0.5h0m2.5 0h0m3.5 0h0m-6.5 0.5h0m68 0h0m-57.5 0.5h0m29.5 0h0m48 0h0m-83 0.5h0m1 0h0m5.5 0h0m3 0h0m2.5 0h0m8.5 0h0m-41 0.5h0m30.5 0h0m-7 0.5h0m36.5 0h0m72 0h0m-104.5 0.5h0m36 0h0m-18 0.5h0m-14.5 0.5h0m13 0h0m6.5 0.5h0m-39 0.5h0m3 0.5h0m54 0h0m-62.5 0.5h0m34.5 0h0m85 0h0m-104 0.5h0m1.5 0h0m0.5 0h0m17.5 0h0m7 0h0m4.5 0h0m-33.5 0.5h0m-9.5 0.5h0m13.5 0h0m0.5 0h0m20.5 0h0m43 0h0m-71 0.5h0m8 0h0m2.5 0h0m6 0h0m1 0h0m28 0h0m42.5 0h0m-75 0.5h0m-28.5 0.5h0m21.5 0h0m39.5 0h0m-34 0.5h0m31 0h0m-22 1h0m8 0h0m9.5 0.5h0m-49 0.5h0m25.5 0h0m-13 1h0m25 0h0m30 0h0m75.5 0h0m-136.5 0.5h0m16.5 0h0m21.5 0h0m-26 0.5h0m10.5 0h0m41.5 0h0m-56 0.5h0m65 0h0m-74 0.5h0m16 0h0m36.5 0h0m-40.5 0.5h0m8.5 0h0m1.5 0h0m2.5 0h0m-33 0.5h0m105.5 0h0m-78.5 0.5h0m10 0h0m16.5 0h0m-23.5 0.5h0m26 0h0m-43.5 1h0m20 0h0m9 0h0m19.5 0.5h0m-49 0.5h0m22.5 0h0m27 0h0m-45 0.5h0m9 0.5h0m123 0h0m-131.5 0.5h0m1.5 0h0m2 0h0m-2 0.5h0m7 0h0m52.5 0h0m-66.5 0.5h0m2.5 0h0m18.5 0h0m44 0h0m-39 0.5h0m10 0h0m17 0h0m-58.5 0.5h0m17 0h0m4 0h0m2.5 0h0m6 0h0m-35.5 0.5h0m28 0h0m89.5 0h0m9 0h0m-72 0.5h0m-20 0.5h0m14.5 0h0m-30 1h0m14.5 0h0m3.5 0h0m21 0h0m-10.5 0.5h0m-37.5 0.5h0m36 0h0m8 0h0m10.5 0h0m-47.5 1h0m5 0h0m8 0h0m115.5 0h0m-110 0.5h0m58.5 0h0m46 0h0m-131.5 0.5h0m6.5 0h0m13.5 0h0m10 0h0m-29.5 0.5h0m13 0h0m19.5 0h0m13 0h0m16.5 0h0m2 0h0m15.5 0h0m-60 0.5h0m2 0h0m17 0h0m-47 0.5h0m31 0h0m12 0.5h0m11.5 0h0m63 0h0m15 0h0m-99.5 1.5h0m-14.5 0.5h0m15.5 0h0m-22.5 0.5h0m40.5 0h0m6.5 0h0m9 0h0m38.5 0h0m-45 0.5h0m-41.5 0.5h0m132 0h0m-125.5 0.5h0m4 0h0m88 0h0m-93 0.5h0m13.5 0h0m0.5 0.5h0m36.5 0h0m59.5 0h0m-121.5 0.5h0m10.5 0h0m31.5 0h0m15.5 0h0m47 0h0m-86 0.5h0m1 0h0m1 0h0m-27.5 0.5h0m36.5 0h0m16 0h0m56.5 0h0m30 0h0m-124 0.5h0m10 0h0m16 0h0m8 0h0m-44 1.5h0m21 0h0m2 0h0m-14.5 0.5h0m13.5 0h0m82.5 0h0m-104.5 0.5h0m49 0h0m10.5 0h0m0.5 0h0m41.5 0.5h0m-83 0.5h0m4.5 0h0m-18 0.5h0m12 0h0m98 0h0m8 0.5h0m-119 0.5h0m3.5 0h0m21 0h0m15 0h0m27.5 0h0m-57.5 0.5h0m15.5 0h0m26 0h0m52 0h0m-124 0.5h0m30.5 0h0m5 0h0m-18 0.5h0m8 0h0m8 0h0m11 0h0m10 0h0m66.5 0h0m33 0h0m-92 0.5h0m-26.5 1h0m9 0h0m7.5 0h0m-37.5 0.5h0m28 0h0m36.5 0h0m-51.5 0.5h0m43.5 0h0m59.5 0h0m-47 0.5h0m6 0h0m-52 0.5h0m2.5 0.5h0m4 0h0m-29.5 0.5h0m36.5 0h0m86.5 0h0m-96 0.5h0m53 0h0m12.5 0h0m46 0h0m-134 0.5h0m5 0h0m39 0h0m-41 0.5h0m3.5 0h0m16.5 0h0m83.5 0h0m-119.5 0.5h0m124 0h0m17.5 0h0m-120.5 0.5h0m23 0h0m-13.5 0.5h0m25.5 0h0m-44 0.5h0m19.5 0.5h0m9.5 0h0m4.5 0h0m25 0h0m59 0.5h0m-102.5 0.5h0m50.5 0h0m1.5 0h0m-31 0.5h0m55.5 0h0m-77.5 0.5h0m9 0h0m16.5 0h0m71 0h0m-93 0.5h0m7.5 0h0m100.5 0h0m-124 0.5h0m20 0h0m8 0h0m111.5 0h0m-149 0.5h0m12.5 0h0m12.5 0h0m6 0h0m66 0h0m0.5 0h0m-90.5 0.5h0m34 0h0m11 0h0m68.5 0h0m-106.5 0.5h0m2.5 0h0m3 0h0m-29.5 0.5h0m33 0h0m1 0h0m12.5 0h0m86 0h0m15.5 0h0m-122.5 0.5h0m37 0h0m-17 0.5h0m8 0.5h0m-25.5 0.5h0m11 0h0m40 0h0m9.5 0.5h0m50.5 0h0m-108.5 0.5h0m54 0h0m14.5 0h0m-48 0.5h0m9.5 0h0m52 0h0m-80.5 0.5h0m9.5 0h0m26 0h0m-40.5 0.5h0m1 0h0m19 0h0m1 0h0m95.5 0h0m-114.5 0.5h0m24.5 0h0m49 0h0m60 0h0m-139.5 0.5h0m14 0h0m71.5 0h0m-88.5 0.5h0m4.5 0h0m17 0h0m6 0h0m48 0h0m-90.5 0.5h0m40.5 0.5h0m10.5 0h0m82.5 0h0m12 0h0m22 0h0m-135 0.5h0m23 0.5h0m-17 0.5h0m47.5 0h0m-58.5 1h0m42 0h0m14.5 0h0m16 0h0m43 0h0m-117 1h0m34.5 0h0m55 0h0m-40 0.5h0m-60.5 0.5h0m7.5 0h0m26 0h0m-25.5 0.5h0m97 0h0m41.5 0h0m-141.5 0.5h0m5.5 0h0m60.5 0h0m-62.5 0.5h0m14 0h0m12 0h0m17 0h0m-66 0.5h0m125 0h0m24.5 0h0m-119.5 0.5h0m19.5 0h0m-33.5 1h0m18.5 0.5h0m54.5 0h0m61 0.5h0m-124.5 0.5h0m44.5 0h0m23 0h0m17 0h0m-50 0.5h0m20.5 0.5h0m-62 0.5h0m7 0h0m12 0h0m6 0h0m117 0h0m-129.5 0.5h0m8 0h0m122 0h0m-139.5 0.5h0m7.5 0h0m59 0h0m-54 0.5h0m32 0h0m-2 0.5h0m-63.5 0.5h0m48 0h0m-13 0.5h0m40.5 0.5h0m-21.5 0.5h0m3.5 0h0m-25 0.5h0m52.5 0h0m-58.5 0.5h0m47.5 0h0m23.5 0h0m58.5 0h0m-36.5 0.5h0m-53.5 0.5h0m32.5 0h0m-51.5 0.5h0m41.5 0h0m68.5 0h0m-125 0.5h0m12.5 0h0m119.5 0.5h0m-133 0.5h0m-28.5 0.5h0m26.5 0h0m46.5 0h0m-72.5 0.5h0m42.5 0.5h0m5.5 0h0m19 0h0m-55 0.5h0m16.5 0h0m52.5 0h0m-46.5 1h0m21.5 0h0m4 0h0m25.5 0h0m-10 0.5h0m-66 0.5h0m6 0h0m85.5 0h0m19 0h0m-50 0.5h0m23 0.5h0m-66 0.5h0m135 0h0m-143 0.5h0m30.5 0h0m17.5 0h0m94 0h0m-132.5 0.5h0m16 0h0m100.5 0.5h0m-145.5 0.5h0m29.5 0h0m56.5 0h0m53.5 0h0m-133 0.5h0m27.5 0h0m21 0h0m6 0h0m8.5 0h0m87.5 0h0m-141 0.5h0m113.5 0h0m-35.5 0.5h0m-57.5 1h0m22.5 0h0m21 0h0m1.5 0h0m15.5 0.5h0m-86 0.5h0m64.5 0.5h0m27 0.5h0m-76 0.5h0m30.5 0h0m22.5 0h0m89.5 0h0m-128.5 0.5h0m21.5 0h0m-30 0.5h0m11.5 0h0m34.5 0h0m-44.5 0.5h0m2 0h0m5.5 0h0m67.5 0h0m-73 1h0m30.5 0h0m0.5 0h0m-43 0.5h0m45.5 0h0m61.5 0h0m-26 0.5h0m-53 0.5h0m4.5 0h0m22 0h0m6.5 0.5h0m-78 0.5h0m100.5 0h0m-94.5 0.5h0m68.5 0.5h0m29.5 0h0m-86 1h0m35 0h0m27.5 0h0m-53.5 0.5h0m37.5 0h0m90 0h0m-105.5 0.5h0m24.5 0h0m34 0h0m-117 0.5h0m39 0h0m2 0h0m9 0h0m63.5 0h0m-36.5 0.5h0m3 0h0m78 0h0m4 0h0m20 0h0m-109 0.5h0m2 0h0m12 0h0m38.5 0h0m3.5 0h0m-97 0.5h0m83 0h0m-59 1h0m82 0h0m-36 0.5h0m-86.5 0.5h0m3.5 0h0m107.5 0h0m-82.5 0.5h0m-8 0.5h0m41 0h0m-46.5 0.5h0m27 0h0m36 0h0m-54 0.5h0m124.5 0h0m-87 0.5h0m-40 0.5h0m1 0h0m3.5 0h0m64.5 0h0m39 0h0m-20.5 0.5h0m34.5 0h0m-118.5 0.5h0m42 0h0m2 0h0m5.5 0h0m40.5 0h0m-82 0.5h0m51.5 0h0m36.5 0h0m-98.5 0.5h0m91 0h0m-72 0.5h0m85 0h0m-106.5 0.5h0m64.5 0h0m-83 0.5h0m-5 0.5h0m121 0h0m-56.5 0.5h0m-40.5 1h0m16 0h0m51.5 0h0m-73.5 0.5h0m20 0h0m115.5 0h0m-145.5 0.5h0m45.5 0h0m-31 0.5h0m16 0h0m84.5 0h0m13 0h0m-100.5 1h0m83 0h0m-69.5 0.5h0m50 0h0m28 0h0m32.5 0h0m-134.5 0.5h0m117.5 0.5h0m-143.5 1h0m125.5 0h0m-62.5 1h0m12.5 0h0m-50 0.5h0m23 0h0m-8 0.5h0m64 0h0m-109 0.5h0m24.5 0h0m11.5 0h0m30.5 0.5h0m50 0h0m26.5 0h0m-108.5 0.5h0m12 0h0m16 0h0m77.5 0h0m-79 1h0m51 0h0m18.5 0h0m35 0h0m-131 0.5h0m93 0h0m5.5 0h0m21.5 0.5h0m-149.5 1h0m128 0.5h0m-64.5 0.5h0m53.5 0h0m39 0h0m-70 0.5h0m-64.5 0.5h0m88.5 0h0m43 0h0m-131 0.5h0m22.5 0h0m-51.5 0.5h0m39 0h0m29.5 0h0m40 0h0m-68.5 0.5h0m86.5 0h0m23.5 0h0m3.5 0h0m-68 0.5h0m-3.5 0.5h0m53 0h0m13 0h0m-29 0.5h0m14.5 0h0m25 0h0m-121.5 0.5h0m94.5 0h0m-28 0.5h0m21.5 0h0m37.5 0h0m-153.5 1h0m126 0h0m-0.5 0.5h0m-64.5 0.5h0m19.5 0h0m46 0h0m50.5 0.5h0m-144.5 0.5h0m13 0h0m105 0h0m-148 0.5h0m24.5 0h0m1 0.5h0m36 0h0m97.5 0h0m-171 0.5h0m36 0h0m5 0h0m58 0h0m7.5 0h0m59.5 0h0m6 0h0m-82 0.5h0m58.5 0h0m-79 0.5h0m60 0h0m1.5 0h0m4 0h0m26 0h0m34.5 0h0m-65.5 0.5h0m-96 0.5h0m101.5 0h0m-72 0.5h0m45.5 0h0m57.5 0h0m-99 1h0m73 0h0m0.5 0h0m26.5 0.5h0m-94.5 0.5h0m-23 0.5h0m105.5 0h0m-80 0.5h0m-60 0.5h0m27 0h0m0.5 0h0m32.5 0h0m12 0h0m32.5 0h0m-79.5 0.5h0m7 0h0m54.5 0h0m6.5 0h0m67.5 0h0m-174 0.5h0m104 0h0m71.5 0h0m-82.5 0.5h0m33 0h0m29 0h0m-68.5 0.5h0m47 0h0m-97.5 0.5h0m99 0h0m-75 0.5h0m83.5 0h0m-38 0.5h0m-37.5 0.5h0m76 0h0m-7.5 0.5h0m-63.5 0.5h0m98.5 0h0m-117.5 1h0m15.5 0h0m20.5 0h0m67 0h0m-114 0.5h0m42 0h0m37.5 0h0m50 0h0m-154.5 0.5h0m23.5 0h0m31.5 0h0m19 0h0m32.5 0h0m-85 0.5h0m1 0h0m3 0h0m66 0h0m7.5 0h0m62 0h0m4 0h0m-126 1h0m45.5 0h0m19.5 0h0m-32.5 0.5h0m47.5 0h0m10 0h0m-103.5 0.5h0m18.5 0.5h0m17.5 0h0m10.5 0.5h0m86.5 0h0m-33 0.5h0m2 0h0m-4.5 0.5h0m-59 0.5h0m32.5 0h0m-49 0.5h0m7.5 0h0m85 0h0m-68 0.5h0m78 0h0m10 0h0m-179.5 0.5h0m15 0h0m22.5 0h0m4 0h0m44 0h0m40.5 0h0m2 0h0m-30.5 0.5h0m18 0h0m41.5 0h0m27.5 0h0m-171.5 0.5h0m16.5 0h0m10.5 0h0m10.5 0h0m138.5 0h0m-133.5 0.5h0m43 0h0m30 0h0m-30.5 0.5h0m58 0h0m3 0h0m-111.5 0.5h0m37 0.5h0m-20.5 0.5h0m27 0.5h0m61 0h0m32.5 0h0m-34.5 0.5h0m-65 0.5h0m31 0.5h0m-31 0.5h0m15.5 0h0m55 0h0m-54.5 0.5h0m27.5 0h0m-121.5 0.5h0m11 0h0m68.5 0h0m17.5 0h0m26 0h0m23 0h0m-113 0.5h0m26 0h0m56 0h0m61 0h0m-173 0.5h0m136 0h0m-92 0.5h0m40 0h0m9.5 0h0m24 0h0m9 0h0m-37.5 0.5h0m51 0h0m14.5 0h0m-111 0.5h0m112.5 0h0m-150.5 0.5h0m83.5 0h0m64 0h0m-63 1h0m60 0h0m-6 0.5h0m-71.5 0.5h0m71 0h0m37.5 0.5h0m13.5 0h0m-110 0.5h0m4 0h0m57.5 0h0m-132.5 0.5h0m105.5 0h0m29.5 0h0m-44 0.5h0m11 0h0m3 0h0m35.5 0h0m18.5 0h0m12 0h0m-175 0.5h0m23.5 0h0m2.5 0h0m1.5 0h0m76.5 0h0m6 0h0m-75.5 0.5h0m64 0h0m18.5 0h0m78.5 0h0m-119.5 0.5h0m72.5 0h0m3 0h0m-65 0.5h0m53.5 0h0m7 0h0m-56.5 1h0m-9.5 0.5h0m55 0.5h0m1.5 0h0m3.5 0.5h0m-75 0.5h0m9.5 0.5h0m4.5 0h0m58 0h0m28.5 0h0m-77 0.5h0m57 0h0m-137 0.5h0m100.5 0h0m0.5 0h0m57.5 0h0m-151.5 0.5h0m5 0h0m5.5 0h0m84 0h0m0.5 0h0m37.5 0h0m-153 0.5h0m109.5 0h0m-85 0.5h0m14.5 0h0m43.5 0h0m28.5 0h0m11 0h0m-33 0.5h0m52 0h0m18 0h0m0.5 0h0m-1 0.5h0m-60.5 1h0m-14 0.5h0m63 0h0m-34.5 0.5h0m-37 0.5h0m66 0h0m17.5 0h0m-73.5 1h0m7.5 0h0m54 0h0m-55 0.5h0m23.5 0h0m41.5 0h0m13 0h0m-153.5 0.5h0m89 0h0m44 0h0m-147.5 0.5h0m17.5 0h0m11.5 0h0m88.5 0h0m0.5 0h0m4.5 0h0m-87.5 0.5h0m127.5 0h0m-125.5 0.5h0m46 0h0m27.5 0h0m11 0h0m-37.5 0.5h0m9 0h0m50 0h0m2.5 0h0m15 0h0m-160.5 0.5h0m84 1h0m62.5 0.5h0m8 1h0m-58 0.5h0m13.5 0h0m40 0h0m-58.5 0.5h0m1.5 0h0m80.5 0h0m-159 0.5h0m96.5 0h0m53 0h0m-20.5 0.5h0m16 0h0m-155 0.5h0m13 0h0m11.5 0h0m91 0h0m11.5 0h0m-90.5 0.5h0m4 0h0m51 0h0m25.5 0h0m8.5 0h0m32 0h0m-66.5 0.5h0m3.5 0h0m50 0h0m15.5 0h0m-28 0.5h0m-137.5 0.5h0m82 1h0m67 0h0m-75 1h0m74.5 0h0m-41 0.5h0m24 0h0m-33 0.5h0m7 0h0m47 0h0m-114.5 0.5h0m56 0h0m69 0h0m6 0h0m-153 0.5h0m97.5 0h0m51.5 0h0m-148 0.5h0m11.5 0h0m2.5 0h0m106.5 0h0m0.5 0h0m44.5 0h0m-177 0.5h0m36.5 0h0m86.5 0h0m-85.5 0.5h0m56 0h0m26 0h0m10 0h0m27.5 0h0m56 0h0m-116.5 0.5h0m0.5 0h0m47.5 0h0m20 0h0m-119.5 0.5h0m-45.5 0.5h0m83 0.5h0m66 0.5h0m21 0h0m-94.5 1h0m59 0h0m-7 0.5h0m-28 0.5h0m46 0h0m20 0h0m-150 0.5h0m21 0h0m112 0h0m-3 0.5h0m19 0h0m-158.5 0.5h0m14.5 0h0m5 0h0m70.5 0h0m11.5 0h0m17 0h0m14.5 0h0m53 0h0m-156 0.5h0m6 0h0m81 0h0m13.5 0h0m-45 0.5h0m11.5 0h0m44.5 0h0m1 0h0m-14 0.5h0m-129.5 0.5h0m36 0h0m66 0h0m-22.5 0.5h0m67.5 1h0m-10 1h0m-35 0.5h0m23 0h0m12.5 0h0m-80 0.5h0m100 0h0m-135.5 0.5h0m139.5 0h0m-159 0.5h0m9 0h0m88.5 0h0m33 0h0m33.5 0h0m26 0h0m-70.5 0.5h0m56.5 0h0m-143.5 0.5h0m8 0h0m57 0h0m20.5 0h0m7.5 0h0m-39 0.5h0m58 0h0m-102.5 0.5h0m90.5 0h0m28 0h0m-162.5 0.5h0m89 0h0m11 0h0m43.5 1h0m-5.5 1h0m-12.5 0.5h0m-61.5 0.5h0m47.5 0h0m34 0h0m3.5 0h0m15.5 0h0m-72 0.5h0m75 0.5h0m3.5 0h0m-164.5 0.5h0m10 0h0m0.5 0h0m89.5 0h0m21 0h0m6.5 0h0m2 0h0m46 0h0m-27.5 0.5h0m-107.5 0.5h0m49.5 0h0m35.5 0h0m18 0h0m-50 0.5h0m42.5 0h0m3 0h0m-148 0.5h0m92.5 0.5h0m59.5 0h0m-7 2h0m-15 0.5h0m17.5 0h0m-72.5 0.5h0m95.5 0h0m-73 0.5h0m20.5 0h0m29 0.5h0m33.5 0h0m-186.5 0.5h0m24.5 0h0m120 0h0m4 0h0m42 0h0m-126 0.5h0m35.5 0h0m49.5 0h0m15 0h0m-12.5 0.5h0m8 0h0m-2.5 0.5h0m12.5 0.5h0m12.5 0h0m-89 0.5h0m7.5 0h0m-16.5 0.5h0m90.5 0h0m-60.5 1.5h0m23.5 0h0m22 0h0m-6 0.5h0m-44.5 1h0m17.5 0h0m-101 0.5h0m87.5 0h0m40.5 0h0m7 0h0m33 0h0m4 0h0m-196.5 0.5h0m147.5 0h0m-80.5 0.5h0m81 0h0m12 0h0m-9 1h0m20 0.5h0m-52 0.5h0m-32 0.5h0m69 0h0m19 0h0m-97.5 1h0m42.5 0h0m6.5 0h0m27 0h0m-14 0.5h0m30 0.5h0m-52.5 1h0m9 0h0m33.5 0h0m-158.5 0.5h0m23 0h0m10.5 0h0m82.5 0h0m21 0h0m15 0h0m46.5 0h0m-124.5 0.5h0m79.5 0h0m8 0h0m6 0h0m42.5 0h0m-62 1h0m21.5 0.5h0m-91.5 1h0m98 0h0m-26.5 0.5h0m-29.5 0.5h0m-2 0.5h0m21 0.5h0m23.5 0h0m9 0h0m-45.5 1h0m-100.5 0.5h0m9.5 0h0m87 0h0m5 0h0m79.5 0h0m-66.5 0.5h0m52.5 0h0m-125 0.5h0m81 0h0m6.5 0h0m9 0h0m3.5 0h0m52.5 0h0m-134.5 0.5h0m90.5 1h0m-90 1h0m100 0h0m-103 1h0m34 0.5h0m15.5 0h0m29.5 0.5h0m18 0h0m-154.5 1.5h0m23 0h0m74.5 0h0m12.5 0h0m14.5 0h0m45.5 0h0m12.5 0h0m-47.5 0.5h0m10 0h0m52 0h0m-145 0.5h0m74 0h0m-7.5 0.5h0m-16.5 1h0m56 0h0m-92 2h0m22 0h0m26 0.5h0m18 0.5h0m-123.5 1h0m95.5 0h0m25.5 0h0m-125 0.5h0m113 0h0m55 0h0m17 0h0m-69 0.5h0m7 0h0m19.5 0h0m47 0h0m-77 0.5h0m44 1h0m-78 0.5h0m26.5 1h0m-48 0.5h0m99 0h0m-73.5 0.5h0m18 0h0m-12 1h0m-74 0.5h0m80 0.5h0m28 0h0m1 0h0m46 0h0m14.5 0h0m-72 1h0m32.5 0h0m45.5 0h0m-77 0.5h0m-27 1h0m-55.5 1.5h0m73 0h0m-43.5 0.5h0m95 0h0m22 0.5h0m-86 0.5h0m47.5 0h0m-58 1h0m14.5 0h0m22 0h0m15 0.5h0m43 0h0m-56.5 0.5h0m24.5 0h0m43.5 0h0m-66 0.5h0m-31.5 1.5h0m10.5 1h0m46 0.5h0m-72.5 0.5h0m62.5 0.5h0m44 0h0m-98.5 1h0m26 0.5h0m56 0.5h0m-45.5 0.5h0m3 0h0m16.5 0h0m5 0h0m47 0h0m-98 0.5h0m35.5 0h0m-11.5 1.5h0m-25.5 0.5h0m15 0.5h0m73 1.5h0m-166.5 1h0m73 0h0m20 0h0m7 0.5h0m61 0.5h0m20 0h0m-70 0.5h0m9.5 0.5h0m2.5 0h0m16 0h0m-56.5 2h0m17.5 0h0m65 1.5h0m-105.5 0.5h0m28 0h0m-18.5 0.5h0m24.5 0h0m-84.5 0.5h0m96 0h0m52 0h0m-48.5 1h0m71.5 0h0m-65.5 0.5h0m15.5 0.5h0m-46 1.5h0m16 0.5h0m16.5 0.5h0m-52 1h0m105 0h0m-79.5 0.5h0m-14.5 0.5h0m14.5 0h0m68 0h0m-62 0.5h0m40.5 0h0m-24.5 1h0m68 0h0m-59 0.5h0m6.5 0h0m-39 2h0m11.5 0.5h0m-3.5 0.5h0m75 0.5h0m-105 0.5h0m27 0h0m3 1h0m4.5 0h0m81 1h0m-31.5 1h0m-63 2h0m4 0h0m10 0h0m-17 1h0m82.5 0.5h0m-146 1h0m70.5 0h0m7.5 0.5h0m24 0h0m24.5 1.5h0m-47 2h0m2.5 0.5h0m-9.5 0.5h0m20.5 0h0m46.5 1h0m-56 0.5h0m-12.5 0.5h0m24 0.5h0m58 0h0m-61 0.5h0m-28 0.5h0m12.5 2.5h0m7.5 0h0m-8 1h0m23 0h0m-16 1h0m-9 0.5h0m23 0.5h0m2 0h0m-24 0.5h0m80.5 0h0m-65 0.5h0m-7 3h0m-12.5 0.5h0m21.5 0.5h0m-8.5 1h0m-12.5 0.5h0m6 0h0m26.5 0.5h0m52 0h0m0.5 0h0m-89 0.5h0m32 0.5h0m-14 2.5h0m-16.5 1h0m-2.5 1h0m20.5 0h0m-18 1h0m7.5 0h0m81 0.5h0m-90 3.5h0m0.5 0.5h0m2.5 1.5h0m17 0h0m-18 0.5h0m5 0h0m39 0.5h0m37 0.5h0m-83 3h0m0.5 1h0m2 1h0m-1.5 1h0m6.5 0h0m43 0.5h0m33.5 0h0m-1 0.5h0m-86 3h0m17.5 0h0m-11.5 0.5h0m-0.5 1.5h0m2 0.5h0m4 0h0m46.5 0.5h0m28.5 0.5h0m-70 3.5h0m2 0h0m-12 0.5h0m0.5 1h0m2 1h0m4.5 0h0m48.5 0.5h0m-39 3.5h0m-5.5 0.5h0m-11.5 1.5h0m3 1h0m5 0h0m-14.5 1h0m16.5 3h0m-7.5 0.5h0m-1.5 1.5h0m0.5 0.5h0m3.5 0h0m66 0.5h0m-61 4h0m-10.5 0.5h0m3.5 1h0m-5.5 1h0m13 4h0m-8.5 0.5h0m-6.5 2h0m12 4.5h0m-11 2.5h0m15 4h0m-8.5 1h0m-4.5 2h0m9 4h0m7.5 0h0m-7 7h0m-7.5 2.5h0m10 4h0m-7.5 0.5h0m7 6.5h0m-9.5 2.5h0m12 4.5h0" fill="none" stroke="#00ffff" stroke-width="5.7" stroke-linecap="round"/>
<polyline points="691.3,154.7 735.5,426.7 835.4,698.7" fill="none" stroke="#0000ff" stroke-width="2.5" stroke-linejoin="round" stroke-linecap="butt"/><g fill="#0000ff"><circle cx="691.3" cy="154.7" r="6.1"/><circle cx="735.5" cy="426.7" r="6.1"/><circle cx="835.4" cy="698.7" r="6.1"/></g>
<polyline points="920.7,18.7 920.7,73.1 920.7,127.5 920.7,181.9 920.7,236.3 920.7,290.7 920.7,345.1 920.7,426.7 919.7,562.7 919.4,698.7" fill="none" stroke="#ff0000" stroke-width="8.3" stroke-linejoin="round" stroke-linecap="butt"/><g fill="#ff0000"><circle cx="920.7" cy="18.7" r="5.9"/><circle cx="920.7" cy="73.1" r="5.9"/><circle cx="920.7" cy="127.5" r="5.9"/><circle cx="920.7" cy="181.9" r="5.9"/><circle cx="920.7" cy="236.3" r="5.9"/><circle cx="920.7" cy="290.7" r="5.9"/><circle cx="920.7" cy="345.1" r="5.9"/><circle cx="920.7" cy="426.7" r="5.9"/><circle cx="919.7" cy="562.7" r="5.9"/><circle cx="919.4" cy="698.7" r="5.9"/></g>
<polyline points="898.4,18.7 899.1,73.1 899.1,127.5 898.4,181.9 898.4,236.3 898.4,290.7 898.4,345.1 897.4,426.7 897.4,562.7 897.1,698.7" fill="none" stroke="#c8860a" stroke-width="3.6" stroke-linejoin="round"/><polyline points="898.4,18.7 899.1,73.1 899.1,127.5 898.4,181.9 898.4,236.3 898.4,290.7 898.4,345.1 897.4,426.7 897.4,562.7 897.1,698.7" fill="none" stroke="#ffa500" stroke-width="2.3" stroke-linejoin="round" stroke-linecap="butt"/><g fill="#ffa500" stroke="#8a7a55" stroke-width="0.7"><circle cx="898.4" cy="18.7" r="5.8"/><circle cx="899.1" cy="73.1" r="5.8"/><circle cx="899.1" cy="127.5" r="5.8"/><circle cx="898.4" cy="181.9" r="5.8"/><circle cx="898.4" cy="236.3" r="5.8"/><circle cx="898.4" cy="290.7" r="5.8"/><circle cx="898.4" cy="345.1" r="5.8"/><circle cx="897.4" cy="426.7" r="5.8"/><circle cx="897.4" cy="562.7" r="5.8"/><circle cx="897.1" cy="698.7" r="5.8"/></g>
<polyline points="645.2,18.7 645.2,73.1 645.2,127.5 646.2,181.9 647.2,236.3 648.5,290.7 650.5,345.1 665.5,426.7 824.4,562.7 855.3,698.7" fill="none" stroke="#008000" stroke-width="2.8" stroke-linejoin="round" stroke-linecap="butt"/><g fill="#008000"><circle cx="645.2" cy="18.7" r="6.1"/><circle cx="645.2" cy="73.1" r="6.1"/><circle cx="645.2" cy="127.5" r="6.1"/><circle cx="646.2" cy="181.9" r="6.1"/><circle cx="647.2" cy="236.3" r="6.1"/><circle cx="648.5" cy="290.7" r="6.1"/><circle cx="650.5" cy="345.1" r="6.1"/><circle cx="665.5" cy="426.7" r="6.1"/><circle cx="824.4" cy="562.7" r="6.1"/><circle cx="855.3" cy="698.7" r="6.1"/></g>
<polyline points="659.1,32.1 658.5,60.6 658.5,90.7 658.5,122.6 658.5,156.8 659.1,193.9 659.1,234.4 659.1,279.1 663.5,328.9 668.8,385.0 701.3,448.7 751.4,521.8 819.5,606.2" fill="none" stroke="#ff00ff" stroke-width="2.8" stroke-linejoin="round" stroke-linecap="butt"/><g fill="#ff00ff"><circle cx="659.1" cy="32.1" r="6.1"/><circle cx="658.5" cy="60.6" r="6.1"/><circle cx="658.5" cy="90.7" r="6.1"/><circle cx="658.5" cy="122.6" r="6.1"/><circle cx="658.5" cy="156.8" r="6.1"/><circle cx="659.1" cy="193.9" r="6.1"/><circle cx="659.1" cy="234.4" r="6.1"/><circle cx="659.1" cy="279.1" r="6.1"/><circle cx="663.5" cy="328.9" r="6.1"/><circle cx="668.8" cy="385.0" r="6.1"/><circle cx="701.3" cy="448.7" r="6.1"/><circle cx="751.4" cy="521.8" r="6.1"/><circle cx="819.5" cy="606.2" r="6.1"/></g>
</g>
<rect x="572.4" y="19.4" width="404.1" height="784.1" fill="none" stroke="#000" stroke-width="1.15"/>
<g stroke="#000" stroke-width="1.15">
<line x1="646.5" y1="803.5" x2="646.5" y2="809.5"/>
<line x1="750.5" y1="803.5" x2="750.5" y2="809.5"/>
<line x1="854.5" y1="803.5" x2="854.5" y2="809.5"/>
<line x1="958.5" y1="803.5" x2="958.5" y2="809.5"/>
<line x1="572.4" y1="18.5" x2="566.4" y2="18.5"/>
<line x1="572.4" y1="154.5" x2="566.4" y2="154.5"/>
<line x1="572.4" y1="290.5" x2="566.4" y2="290.5"/>
<line x1="572.4" y1="426.5" x2="566.4" y2="426.5"/>
<line x1="572.4" y1="562.5" x2="566.4" y2="562.5"/>
<line x1="572.4" y1="698.5" x2="566.4" y2="698.5"/>
</g>
<g font-size="17.1" text-anchor="middle">
<text x="646.5" y="830">32.0</text>
<text x="750.5" y="830">32.5</text>
<text x="854.5" y="830">33.0</text>
<text x="958.5" y="830">33.5</text>
</g>
<g stroke="#b0b0b0" stroke-width="0.75" stroke-dasharray="2.8,1.3" fill="none">
<line x1="1150.5" y1="19.4" x2="1150.5" y2="803.5"/>
<line x1="1242.5" y1="19.4" x2="1242.5" y2="803.5"/>
<line x1="1334.5" y1="19.4" x2="1334.5" y2="803.5"/>
<line x1="1426.5" y1="19.4" x2="1426.5" y2="803.5"/>
<line x1="1067.5" y1="154.5" x2="1471.6" y2="154.5"/>
<line x1="1067.5" y1="290.5" x2="1471.6" y2="290.5"/>
<line x1="1067.5" y1="426.5" x2="1471.6" y2="426.5"/>
<line x1="1067.5" y1="562.5" x2="1471.6" y2="562.5"/>
<line x1="1067.5" y1="698.5" x2="1471.6" y2="698.5"/>
</g>
<g clip-path="url(#c2)">
<path d="m1195 24h0m4 1h0m7 0h0m4 2h0m1 35h0m-13 11.5h0m7 1.5h0m1 0.5h0m-13 0.5h0m10.5 0h0m-2 0.5h0m2.5 0h0m7.5 0h0m0.5 0h0m-3 0.5h0m4 0.5h0m-8 1h0m-4.5 0.5h0m15 1h0m-8 0.5h0m-12.5 0.5h0m11 0.5h0m-4 0.5h0m5 0h0m4 0h0m-18 1h0m11 0h0m8 0h0m1 0h0m-11 0.5h0m7 0h0m4.5 0h0m0.5 1h0m-16 1h0m8.5 1h0m9.5 0h0m-1.5 0.5h0m-12 0.5h0m-3 0.5h0m5.5 0.5h0m5.5 0h0m-17 1h0m20 0h0m-2.5 0.5h0m3 0.5h0m1 1h0m-11.5 0.5h0m-2.5 0.5h0m0.5 0h0m5.5 0h0m1 1h0m8.5 0h0m-19.5 1h0m10.5 0h0m6 0h0m-14.5 0.5h0m11 0h0m-7.5 0.5h0m8 0.5h0m-17 0.5h0m15.5 0h0m5.5 0h0m-12.5 0.5h0m10 0h0m0.5 0h0m2.5 0h0m-13.5 1h0m2.5 0.5h0m2 0.5h0m-4 0.5h0m13 0.5h0m-13.5 0.5h0m7.5 0h0m8.5 0h0m-24 0.5h0m11.5 0h0m4 0.5h0m4.5 0h0m-4.5 0.5h0m-6 0.5h0m11 0h0m-20.5 0.5h0m19 0.5h0m1 0h0m0.5 0h0m-11.5 0.5h0m14.5 0h0m-13 1h0m3.5 0.5h0m-5 0.5h0m-1 0.5h0m7 0.5h0m10.5 0h0m-25.5 0.5h0m8.5 0h0m7 0h0m-2.5 0.5h0m6.5 0h0m2 0h0m-12 0.5h0m8 0.5h0m-5 0.5h0m8.5 0h0m-6 0.5h0m3.5 0h0m3 0h0m-12 0.5h0m9 0h0m1.5 0h0m-10 1h0m11 0h0m-13.5 1.5h0m-0.5 0.5h0m15 0h0m-6 0.5h0m11 0h0m-19.5 0.5h0m5 0h0m3.5 0h0m-1.5 0.5h0m7 0h0m-3.5 0.5h0m-8.5 0.5h0m1.5 0h0m4.5 0.5h0m5 0h0m-20 0.5h0m19.5 0h0m2 0h0m-3 0.5h0m-6.5 1h0m8.5 0h0m-19.5 0.5h0m8 0.5h0m3.5 0h0m-1.5 0.5h0m-4.5 0.5h0m14.5 0h0m-14 0.5h0m8.5 0h0m-1.5 0.5h0m2 0.5h0m2 0.5h0m-7 0.5h0m-10.5 0.5h0m5 0h0m10 0h0m5.5 0h0m-3.5 0.5h0m2.5 0h0m-9 1.5h0m-9.5 0.5h0m11 0h0m-4.5 0.5h0m-1 0.5h0m10.5 0.5h0m4 0h0m-6 1.5h0m3 0h0m-9.5 1h0m5.5 0h0m1.5 0h0m-15.5 0.5h0m22.5 0h0m-1 0.5h0m-4.5 0.5h0m2.5 0.5h0m-9 0.5h0m-4.5 0.5h0m8 0.5h0m-7 0.5h0m15.5 0h0m-13.5 0.5h0m11.5 0h0m-8 0.5h0m-0.5 0.5h0m-1 0.5h0m5 0h0m0 0.5h0m4 0h0m-20 0.5h0m8 0h0m4 0h0m4 0h0m2 0.5h0m1.5 0h0m2.5 0h0m-2.5 1h0m-15.5 1.5h0m10 0h0m-5 0.5h0m15 0.5h0m-15.5 0.5h0m2.5 0.5h0m3.5 0h0m-12 0.5h0m2 0h0m13.5 0.5h0m-9.5 0.5h0m4.5 0h0m2 0h0m5.5 0h0m-2 0.5h0m2.5 0h0m-1 0.5h0m-8 2h0m-5.5 0.5h0m3 0h0m14.5 0.5h0m-15.5 0.5h0m9 0h0m-8.5 0.5h0m6.5 0h0m-1.5 1h0m4 0.5h0m0.5 0h0m2 0h0m-12 0.5h0m10.5 0.5h0m2 0h0m-11 0.5h0m7.5 0.5h0m-5.5 1h0m-5 0.5h0m4 0h0m13 0h0m-15.5 1.5h0m6.5 0.5h0m7.5 0h0m-17 0.5h0m9.5 0h0m4 0h0m-9.5 0.5h0m2 0.5h0m7 0h0m-5 0.5h0m3.5 0.5h0m4 0h0m-10.5 0.5h0m7 0h0m4.5 1h0m-8 0.5h0m-8 0.5h0m17.5 0h0m-16 1h0m8 0h0m-6 0.5h0m0.5 0h0m-4.5 0.5h0m2 0.5h0m13 0h0m-9 0.5h0m7 0h0m-0.5 0.5h0m3 0h0m0.5 0h0m-10 1h0m5 0h0m5 1h0m-7.5 0.5h0m4.5 0h0m-11 0.5h0m5.5 0.5h0m11.5 0h0m-16.5 1h0m5.5 1h0m2.5 0h0m-6 1h0m11.5 0h0m-2 1h0m3 0.5h0m-2 1h0m-6 0.5h0m-6.5 0.5h0m1.5 0h0m2 0h0m13 1h0m-16 0.5h0m8 0.5h0m-3.5 1h0m7 0h0m-10 0.5h0m-4 0.5h0m16.5 0h0m1.5 0h0m-9 0.5h0m1.5 0.5h0m4 0h0m-5.5 0.5h0m-6 1.5h0m1 0h0m-0.5 1h0m10 0h0m4.5 0h0m3 0h0m-21.5 0.5h0m17 0.5h0m-8.5 0.5h0m2.5 0h0m5 0h0m-5.5 0.5h0m-10 0.5h0m17 0.5h0m1 0h0m-5 1h0m-9 0.5h0m7 0.5h0m-7 0.5h0m5.5 0h0m3.5 0.5h0m-11.5 0.5h0m19 0h0m-16 0.5h0m15 0h0m-20 0.5h0m20.5 0h0m-20.5 0.5h0m16 0h0m-10 0.5h0m2 0h0m-8 0.5h0m11.5 0h0m5.5 0h0m-20.5 0.5h0m4 0h0m16.5 0h0m1 0h0m-4.5 1h0m-7.5 0.5h0m3.5 1h0m-4.5 0.5h0m7 0h0m-7.5 1h0m11 0h0m5.5 0h0m-20.5 1h0m18 0h0m1 0h0m-2 1h0m-11.5 0.5h0m7 0h0m-16.5 0.5h0m4.5 0h0m9 0h0m9.5 0h0m-2 0.5h0m-3 0.5h0m-7.5 0.5h0m-3 1h0m4 0h0m4.5 0.5h0m-13 1h0m22 0h0m-24.5 0.5h0m3.5 0h0m8 0h0m-5.5 0.5h0m7 0h0m9 0h0m0.5 0h0m-3 0.5h0m-16 0.5h0m5 0h0m6.5 0h0m0.5 0h0m6.5 0h0m-22 0.5h0m18 0.5h0m1 0.5h0m-2.5 0.5h0m2.5 0h0m-9 1.5h0m7 0h0m-14.5 1h0m3.5 0h0m6.5 0h0m11 0h0m-23 0.5h0m8 0h0m7.5 0h0m-12 0.5h0m2 0h0m6 0h0m-1 1h0m10 0.5h0m-21 0.5h0m17 0h0m-3.5 0.5h0m0.5 0h0m6.5 0h0m3 0h0m-12.5 2h0m-2.5 0.5h0m15.5 0h0m-17.5 0.5h0m18.5 0.5h0m-24.5 0.5h0m3.5 0h0m3 0h0m5 0h0m4 0h0m-8.5 0.5h0m0.5 0h0m11 0h0m4 0h0m-13.5 1h0m6.5 0h0m5 0h0m-13 0.5h0m7.5 0.5h0m-1.5 0.5h0m6.5 0h0m-0.5 0.5h0m-18 0.5h0m12 0h0m11 0h0m-16.5 1h0m16.5 1h0m-24.5 0.5h0m9 0h0m15 0h0m-20.5 0.5h0m3.5 0h0m5 0h0m11 0h0m-9.5 0.5h0m2.5 0h0m-5 0.5h0m10.5 0h0m-14 0.5h0m2 0h0m4.5 0h0m6 0h0m-6 1h0m-2 0.5h0m7.5 0h0m-18 1h0m14 0h0m5.5 0h0m3.5 0h0m-23.5 0.5h0m12 0h0m-1 0.5h0m-6 0.5h0m18.5 0.5h0m-24 0.5h0m6.5 0h0m5.5 0h0m9 0h0m-17.5 0.5h0m5 0h0m10.5 0h0m-5 1h0m1.5 0h0m-6.5 0.5h0m10.5 0h0m-20 0.5h0m14.5 0h0m-0.5 0.5h0m6 0h0m-8 0.5h0m8.5 0h0m-18 0.5h0m23 0h0m-23.5 0.5h0m4 1h0m5.5 0h0m-5 0.5h0m-6 1h0m3.5 0h0m7 0h0m2 0h0m4.5 0h0m4 0h0m1 0h0m-18 0.5h0m7.5 0.5h0m10.5 0h0m-13 0.5h0m9.5 0h0m-14.5 0.5h0m10 0.5h0m7 0h0m1.5 0h0m-10 0.5h0m0.5 0h0m5.5 0h0m1.5 0h0m0 0.5h0m-18.5 0.5h0m22 0h0m-21.5 0.5h0m9.5 0.5h0m1 0h0m10.5 0.5h0m-17 0.5h0m16 0h0m2 0h0m-23.5 0.5h0m3 0.5h0m7.5 0h0m0.5 0h0m5.5 0h0m0.5 0h0m-12 0.5h0m4.5 1h0m4.5 0h0m4.5 0h0m-6 1h0m9.5 0h0m2.5 0h0m-12.5 0.5h0m8 0h0m4 0.5h0m-23 0.5h0m0.5 0.5h0m9.5 0h0m1 0h0m-6 1h0m10.5 0h0m7.5 0h0m0.5 0.5h0m-12.5 0.5h0m-11 0.5h0m3.5 0h0m8 0h0m4 0h0m-6.5 1h0m10 0h0m-16 0.5h0m10 0.5h0m-2 0.5h0m0.5 0h0m8 0h0m2.5 0h0m-2.5 0.5h0m4.5 0.5h0m-21.5 0.5h0m5.5 0.5h0m4.5 0h0m18 0h0m-15 0.5h0m-10.5 0.5h0m21.5 0h0m-15 1h0m9.5 0h0m-20.5 0.5h0m16 0h0m6 0h0m-13.5 0.5h0m0 0.5h0m-5.5 0.5h0m16.5 0.5h0m-9 0.5h0m8.5 0h0m1.5 0h0m-15.5 1.5h0m8 0h0m19.5 0.5h0m-18.5 0.5h0m6.5 0h0m-4 0.5h0m12 0h0m-14.5 0.5h0m-3.5 0.5h0m13 0h0m-14.5 0.5h0m7.5 0h0m4 0.5h0m-12 0.5h0m8.5 0h0m-4.5 0.5h0m-3 0.5h0m5 0h0m10 0h0m1.5 0.5h0m-25.5 0.5h0m18.5 0h0m-11 0.5h0m13.5 1.5h0m-4.5 0.5h0m-14.5 0.5h0m3.5 0h0m7 0h0m-5.5 0.5h0m1 0.5h0m9 0h0m5 0h0m-9.5 1.5h0m1 0h0m5.5 0h0m8 1h0m-26 0.5h0m7.5 0.5h0m-1.5 0.5h0m7 0h0m-10 0.5h0m14.5 0h0m4 0h0m-20 1.5h0m18 0h0m-13.5 0.5h0m2 0h0m8.5 0.5h0m-7.5 0.5h0m2 0.5h0m8.5 0.5h0m-1 0.5h0m10.5 0h0m-21 0.5h0m3.5 1h0m1.5 0h0m5 0.5h0m1 1h0m-5 0.5h0m6 0h0m2 0h0m-22.5 0.5h0m5.5 0.5h0m5.5 0h0m0.5 0h0m-8.5 0.5h0m8 0h0m6.5 0.5h0m-6.5 0.5h0m11 0h0m0 1h0m4 0h0m-20.5 0.5h0m13.5 0h0m-5.5 0.5h0m1.5 0.5h0m17 0h0m-27 1h0m3.5 1h0m12.5 0h0m-18 0.5h0m8.5 0h0m7 0h0m6.5 0h0m-14.5 0.5h0m6.5 0h0m-13.5 0.5h0m3 0h0m4 0h0m6.5 0h0m7 0h0m-1 1h0m-9 0.5h0m7.5 0h0m0.5 0.5h0m0.5 0.5h0m9.5 0h0m-24 1h0m7 0h0m-10 0.5h0m21 0.5h0m-13.5 0.5h0m5 0h0m-14.5 0.5h0m6 0h0m6.5 0h0m7.5 0h0m-5.5 0.5h0m2 0h0m-13 0.5h0m5 0h0m-1 0.5h0m9 0h0m6.5 0h0m-8 0.5h0m0 0.5h0m6.5 1h0m-11 0.5h0m21.5 0h0m-25.5 1h0m8 0h0m-12 0.5h0m15 0h0m-12 0.5h0m16.5 0h0m-21.5 1h0m6.5 0h0m3.5 0h0m7 0h0m-15.5 1h0m12 0h0m1.5 0h0m8 0h0m-1.5 1h0m9.5 0h0m-21.5 0.5h0m6 0.5h0m2.5 0h0m-7 1h0m-5 0.5h0m-2 0.5h0m-1.5 0.5h0m18.5 0h0m-21 1h0m6.5 0h0m9.5 0h0m-7 0.5h0m1.5 0h0m21.5 0h0m-31.5 0.5h0m8 0h0m5 0h0m-4.5 0.5h0m-12 0.5h0m14.5 0.5h0m9 0h0m-11 0.5h0m8 0h0m-3.5 1.5h0m-10 0.5h0m3 0h0m-4.5 0.5h0m15.5 0h0m4.5 0.5h0m2 0h0m-24 0.5h0m6 0h0m4 0h0m28 0.5h0m-34 0.5h0m9 0h0m2 0h0m-7.5 0.5h0m1.5 0h0m4 0h0m5 0h0m-21 1h0m11 0.5h0m15.5 0.5h0m-9 1h0m4 0h0m-13.5 0.5h0m6.5 0h0m9 1h0m-13 0.5h0m9 0h0m6 0h0m3.5 0h0m-26 1h0m2.5 0h0m13 0h0m27 0h0m-38 0.5h0m4 0h0m-5 0.5h0m5.5 0h0m4.5 0h0m7 0h0m23 0h0m-46 0.5h0m25 0h0m-0.5 1h0m5.5 0h0m-18 0.5h0m7 1h0m-12.5 0.5h0m3.5 0h0m28 0h0m-24 0.5h0m8.5 0.5h0m8.5 0h0m-25 0.5h0m9.5 0h0m13.5 0h0m-26 0.5h0m17 0h0m6.5 0h0m27 0h0m-48.5 0.5h0m3 0h0m4 1h0m7.5 0h0m7 0h0m-26.5 0.5h0m28.5 0h0m-21 0.5h0m14.5 0h0m32.5 0h0m-38.5 0.5h0m16 0h0m-3.5 0.5h0m-20.5 0.5h0m10 0h0m-11 0.5h0m7.5 0.5h0m1.5 0.5h0m-14 0.5h0m11.5 0.5h0m6 0h0m0.5 0h0m-20 0.5h0m1.5 0h0m25 0h0m-19 0.5h0m3.5 0h0m10 0h0m8 0h0m-17 0.5h0m4.5 0h0m7 0h0m1 0h0m6.5 0h0m-30.5 0.5h0m8.5 0h0m8 0.5h0m18.5 0h0m-28 0.5h0m44.5 0h0m-90 0.5h0m57 0h0m20 0h0m-17 0.5h0m-3.5 0.5h0m-1 0.5h0m8 0h0m6 0h0m-21.5 0.5h0m-7.5 0.5h0m12.5 0h0m20 0.5h0m-31.5 0.5h0m7.5 0h0m20.5 0h0m-32 0.5h0m8 0h0m1.5 0h0m3.5 0h0m0 0.5h0m10 0h0m9 0h0m-13.5 0.5h0m5.5 0h0m5.5 0h0m-28.5 0.5h0m37 0h0m-29.5 0.5h0m2 0h0m6 0h0m8.5 0h0m10 0h0m23.5 0h0m-44.5 0.5h0m6.5 0h0m2.5 1h0m7 0.5h0m10 0h0m-25 0.5h0m6 0h0m8.5 0h0m-19 0.5h0m5.5 0h0m51 0h0m-62.5 0.5h0m26 0h0m-14.5 0.5h0m1 0h0m24 0h0m-41 0.5h0m4.5 0h0m9 0h0m22 0h0m-27 0.5h0m14 0h0m-9.5 0.5h0m4.5 0h0m9 0h0m8 0h0m-27 0.5h0m13 0h0m26.5 0h0m-46 0.5h0m61.5 0h0m-54 0.5h0m6.5 0h0m12.5 0h0m2.5 0h0m30 0h0m-42.5 0.5h0m6.5 0.5h0m6.5 0.5h0m0 0.5h0m-15 0.5h0m8.5 0h0m-12 0.5h0m15.5 0h0m17.5 0h0m-40 0.5h0m36 0h0m-26.5 0.5h0m2 0h0m4.5 0h0m18 0h0m-48.5 0.5h0m10.5 0h0m5.5 0h0m4 0.5h0m10 0h0m7.5 0h0m7 0h0m-27.5 0.5h0m5 0h0m3.5 0h0m1 0h0m10.5 0h0m3 0h0m-29 0.5h0m53.5 0h0m7 0h0m-37.5 0.5h0m13 0.5h0m41.5 0h0m-58.5 1h0m0 0.5h0m-12.5 0.5h0m7 0h0m17.5 0h0m-21.5 0.5h0m18 0h0m-25 0.5h0m57 0h0m-54 0.5h0m35.5 0h0m7.5 0h0m-44.5 0.5h0m8 0h0m-12.5 0.5h0m22 0h0m2.5 0h0m-13 0.5h0m4 0h0m11.5 0h0m2 0h0m11 0h0m25 0h0m-59 0.5h0m12 0h0m10 0h0m0.5 0.5h0m40.5 0h0m-28.5 0.5h0m41 0h0m-55 1h0m-4.5 0.5h0m-14.5 0.5h0m10.5 0h0m-6.5 0.5h0m13 0h0m-12.5 0.5h0m1.5 0h0m23.5 0h0m-31.5 0.5h0m18 0h0m17 0h0m29.5 0h0m-50.5 0.5h0m28 0h0m-42.5 0.5h0m12 0h0m2.5 0h0m43.5 0h0m-50 0.5h0m8.5 0h0m1.5 0h0m16.5 0h0m-24 0.5h0m11.5 0h0m5 0h0m36 0h0m-58 0.5h0m11.5 0.5h0m19.5 0h0m49 0.5h0m-43.5 0.5h0m-22 0.5h0m5 0h0m-16.5 0.5h0m6.5 0h0m3.5 0h0m8.5 0h0m-18 0.5h0m-2.5 0.5h0m-7 0.5h0m7.5 0h0m20 0h0m8.5 0h0m-27 0.5h0m24.5 0h0m-28 0.5h0m0.5 0h0m7.5 0h0m-9.5 0.5h0m50.5 0h0m-39 0.5h0m2.5 0h0m19 0h0m29 0h0m-55 0.5h0m2 0h0m2.5 0h0m2 0h0m6.5 0h0m-27 0.5h0m19.5 0h0m0 0.5h0m24 0h0m44.5 0h0m-66.5 0.5h0m22 0h0m-9.5 0.5h0m-12.5 0.5h0m5 0h0m4 0.5h0m-20 0.5h0m3 0.5h0m31.5 0h0m-42.5 0.5h0m25 0h0m55 0h0m-72 0.5h0m5.5 0h0m11 0h0m6.5 0h0m5 0h0m-29 1h0m10 0h0m13 0h0m28 0h0m-51 0.5h0m5 0h0m4.5 0h0m2 0h0m48.5 0h0m-69 1h0m44.5 0h0m-23.5 0.5h0m20 0h0m-15.5 1h0m1 0h0m6 0.5h0m-25 0.5h0m11 0h0m-3.5 1h0m13 0h0m19.5 0h0m50.5 0h0m-93 0.5h0m31 0h0m-22.5 0.5h0m2.5 0h0m6 0h0m27 0h0m-39.5 0.5h0m48.5 0h0m-37 0.5h0m24 0h0m-27 0.5h0m0.5 0h0m0.5 0h0m4.5 0h0m-23.5 0.5h0m72 0h0m-48.5 0.5h0m3 0h0m14 0h0m-16 0.5h0m10.5 0h0m-28 1h0m19 0h0m12.5 0.5h0m-26.5 0.5h0m14 0h0m19.5 0h0m-29.5 0.5h0m-9 0.5h0m9.5 0h0m83 0h0m-88.5 0.5h0m4.5 0h0m0 0.5h0m6.5 0h0m29.5 0h0m-46 0.5h0m6.5 0h0m14.5 0h0m26 0h0m-28 0.5h0m11 0h0m12 0h0m-40.5 0.5h0m10.5 0h0m1.5 0h0m5.5 0h0m-24.5 0.5h0m24 0h0m55.5 0h0m8.5 0h0m-46.5 0.5h0m-14 0.5h0m3 0h0m-19 1h0m10 0h0m15.5 0h0m-1 0.5h0m-25 0.5h0m19.5 0h0m8.5 0h0m8.5 0h0m-35.5 1h0m8 0h0m78 0h0m-73.5 0.5h0m38 0h0m34 0h0m-90.5 0.5h0m3 0h0m8.5 0h0m8.5 0h0m-15.5 0.5h0m9.5 0h0m12 0h0m8.5 0h0m12 0h0m8.5 0h0m-39.5 0.5h0m1.5 0h0m8.5 0h0m-31.5 0.5h0m23 0h0m8.5 0.5h0m10.5 0h0m38.5 0h0m11.5 0h0m-58 0.5h0m-9 1h0m-13 0.5h0m10.5 0h0m-10 0.5h0m27 0h0m10.5 0h0m23.5 0h0m-30 0.5h0m-31 0.5h0m12.5 0h0m78 0h0m-87.5 0.5h0m5 0h0m58.5 0h0m-61.5 0.5h0m9.5 0h0m0.5 0.5h0m27 0h0m35 0h0m-74.5 0.5h0m38 0h0m28 0h0m-58 0.5h0m2 0h0m1.5 0h0m0.5 0h0m-25.5 0.5h0m28 0h0m10 0h0m39.5 0h0m22 0h0m-80.5 0.5h0m3.5 0h0m12 0h0m6.5 0h0m-35.5 1.5h0m15 0h0m3 0h0m-11 0.5h0m8.5 0h0m57.5 0h0m-67 0.5h0m32 0h0m3.5 0h0m2 0h0m28 0.5h0m-58.5 0.5h0m7 0h0m-15 0.5h0m5.5 0h0m67 0h0m5 0.5h0m-73 0.5h0m2.5 0h0m9 0h0m13 0h0m18 0h0m-44 0.5h0m5.5 0h0m11.5 0h0m18 0h0m31 0h0m-74 0.5h0m15.5 0h0m-17 0.5h0m16 0h0m5 0h0m11.5 0h0m41.5 0h0m23.5 0h0m-61 0.5h0m-18.5 1h0m8 0h0m1 0h0m-26.5 0.5h0m18.5 0h0m27 0h0m-31.5 0.5h0m28 0h0m38 0h0m-33 0.5h0m6.5 0h0m-36.5 1h0m7 0h0m-19.5 0.5h0m25.5 0h0m52.5 0h0m-63 0.5h0m38 0h0m9 0h0m26 0h0m-83.5 0.5h0m3.5 0h0m24.5 0h0m-33.5 0.5h0m20 0h0m53 0h0m-82 0.5h0m85 0h0m12.5 0h0m-77.5 0.5h0m10.5 0h0m11 0.5h0m-29.5 0.5h0m12 0.5h0m12 0h0m13.5 0h0m-21.5 0.5h0m61 0h0m-35.5 0.5h0m2.5 0h0m-19 0.5h0m33.5 0h0m-53.5 0.5h0m19.5 0h0m48.5 0h0m-64.5 0.5h0m71.5 0h0m-78.5 0.5h0m13.5 0h0m6 0h0m69 0h0m-94 0.5h0m9 0h0m7.5 0h0m0.5 0h0m46 0h0m1 0h0m-58.5 0.5h0m20 0h0m8.5 0h0m43.5 0h0m-74.5 0.5h0m7 0h0m-17.5 0.5h0m19.5 0h0m4.5 0h0m3.5 0h0m58.5 0h0m12 0h0m-83 0.5h0m26.5 0h0m-13.5 0.5h0m4.5 0.5h0m-18.5 0.5h0m37 0h0m7.5 0.5h0m33 0h0m-70 0.5h0m36 0h0m5 0h0m-21.5 0.5h0m31.5 0h0m-55.5 0.5h0m10 0h0m15 0h0m-28 0.5h0m17.5 0h0m60.5 0h0m-77.5 0.5h0m22.5 0h0m31 0h0m36.5 0h0m-87.5 0.5h0m9 0h0m45.5 0h0m-62 0.5h0m1 0h0m17.5 0h0m3 0h0m31.5 0h0m-62.5 0.5h0m38.5 0.5h0m52 0h0m9 0h0m15 0h0m-91.5 0.5h0m15.5 0.5h0m-11 0.5h0m32 0h0m-37 1h0m28 0h0m8.5 0h0m8 0h0m30 0h0m-80.5 1h0m28 0h0m33.5 0h0m-27 0.5h0m-41 0.5h0m4.5 0h0m22.5 0h0m-24.5 0.5h0m70 0h0m24.5 0h0m-88.5 0.5h0m3 0h0m39 0h0m-47 0.5h0m15.5 0h0m7 0h0m12.5 0h0m-48 0.5h0m84.5 0h0m17.5 0h0m-80.5 0.5h0m16 0h0m-23.5 1h0m8 0.5h0m39 0h0m41 0.5h0m-81 0.5h0m29.5 0h0m14.5 0h0m8.5 0h0m-30 0.5h0m10.5 0.5h0m-42 0.5h0m4.5 0h0m10.5 0h0m0.5 0h0m79.5 0h0m-89.5 0.5h0m12.5 0h0m77 0h0m-88 0.5h0m5.5 0h0m37 0h0m-35 0.5h0m21.5 0h0m-2 0.5h0m-46 0.5h0m36.5 0h0m-11.5 0.5h0m27 0.5h0m-15 0.5h0m4.5 0h0m-20 0.5h0m37 0h0m-8.5 0.5h0m18 0h0m38.5 0h0m-25.5 0.5h0m-32.5 0.5h0m20.5 0h0m-39 0.5h0m30 0h0m46 0h0m-84.5 0.5h0m12.5 0h0m75.5 0.5h0m-83.5 0.5h0m-19.5 0.5h0m17.5 0h0m30 0h0m-54 0.5h0m35.5 0.5h0m3 0h0m9 0h0m-36.5 0.5h0m12 0h0m35 0h0m-33 1h0m17 0h0m1 0h0m18 0h0m-9 0.5h0m-43.5 0.5h0m8 0h0m56 0h0m10.5 0h0m-30 0.5h0m12 0.5h0m-45 0.5h0m91.5 0h0m-96 0.5h0m24 0h0m9.5 0h0m60.5 0h0m-83.5 0.5h0m4 0h0m70.5 0.5h0m-94 0.5h0m19.5 0h0m37 0h0m32 0h0m-91.5 0.5h0m23.5 0h0m16 0h0m0.5 0h0m5.5 0h0m60.5 0h0m-96 0.5h0m77 0h0m-24 0.5h0m-24 0.5h0m-16.5 0.5h0m18 0h0m12 0h0m1 0h0m12 0.5h0m-59.5 0.5h0m47 0.5h0m15 0.5h0m-51.5 0.5h0m24.5 0h0m12.5 0h0m59 0h0m-83 0.5h0m9 0h0m-13.5 0.5h0m7.5 0h0m22 0h0m-35 0.5h0m6.5 0h0m1.5 0h0m47 0h0m-49.5 1h0m18.5 0h0m4 0h0m-32.5 0.5h0m33 0h0m40 0h0m-17.5 0.5h0m-34.5 0.5h0m1 0h0m15.5 0h0m2.5 0.5h0m-49 0.5h0m66.5 0h0m-65.5 0.5h0m49.5 0.5h0m19 0h0m-60 1h0m26.5 0h0m17 0h0m-37 0.5h0m23 0h0m61.5 0h0m-66.5 0.5h0m15.5 0h0m24 0h0m-76 0.5h0m23 0h0m2 0h0m3 0h0m44.5 0h0m-26.5 0.5h0m1.5 0h0m51.5 0h0m4.5 0h0m14.5 0h0m-97 0.5h0m25 0h0m1.5 0h0m7.5 0h0m23.5 0h0m3 0h0m-66 0.5h0m56.5 0h0m-38 1h0m52 0h0m-24.5 0.5h0m-55.5 0.5h0m1 0h0m72.5 0h0m-51.5 0.5h0m-10.5 0.5h0m29 0h0m-32 0.5h0m19.5 0h0m24 0h0m-39 0.5h0m84 0h0m-54.5 0.5h0m-27 0.5h0m4 0h0m40.5 0h0m24.5 0h0m-10 0.5h0m19.5 0h0m-77.5 0.5h0m29.5 0h0m2.5 0h0m28 0h0m-55.5 0.5h0m36.5 0h0m23.5 0h0m-63 0.5h0m58 0h0m-47.5 0.5h0m54 0h0m-71.5 0.5h0m43.5 0h0m-52.5 0.5h0m-6.5 0.5h0m82.5 0h0m-37.5 0.5h0m-28.5 1h0m12.5 0h0m34.5 0h0m-52 0.5h0m13.5 0h0m77.5 0h0m-92 0.5h0m28 0h0m-20 0.5h0m6 0h0m3 0h0m58.5 0h0m5.5 0h0m-65.5 1h0m55 0h0m-47 0.5h0m35.5 0h0m18 0h0m21 0h0m-86.5 0.5h0m74 0.5h0m-93.5 1h0m82.5 0h0m-41.5 1h0m9.5 0h0m-35.5 0.5h0m16.5 0h0m-8.5 0.5h0m46.5 0h0m-70.5 0.5h0m12.5 0h0m30 0.5h0m32 0h0m16.5 0h0m-69 0.5h0m5.5 0h0m8 0h0m57 0h0m-55.5 1h0m36 0h0m11 0h0m23.5 0h0m-84 0.5h0m59.5 0h0m3 0h0m13 0.5h0m-97 1h0m83.5 0.5h0m-42.5 0.5h0m35.5 0h0m26.5 0h0m-46.5 0.5h0m-45 0.5h0m61 0h0m28 0h0m-88 0.5h0m13 0h0m-28.5 0.5h0m25.5 0h0m18.5 0h0m26 0h0m-45 0.5h0m55.5 0h0m18.5 0h0m-45 0.5h0m-3.5 0.5h0m36.5 0h0m9 0h0m-18.5 0.5h0m25 0h0m-77.5 0.5h0m59.5 0h0m-18 0.5h0m15 0h0m22.5 0h0m-99.5 1h0m83.5 0h0m-1.5 0.5h0m-42.5 0.5h0m13 0h0m31.5 0h0m32.5 0.5h0m-97 0.5h0m7 0h0m73.5 0h0m-97 0.5h0m13 0h0m4 0.5h0m23 0h0m62.5 0h0m-111 0.5h0m27.5 0h0m36.5 0h0m4 0h0m42 0h0m3 0h0m-56 0.5h0m40 0h0m-53 0.5h0m40 0h0m2.5 0h0m18.5 0h0m23 0h0m-44 0.5h0m-60.5 0.5h0m65.5 0h0m-47.5 0.5h0m30 0h0m36 0h0m-63.5 1h0m47.5 0h0m1 0h0m17.5 0.5h0m-63 0.5h0m-16.5 0.5h0m72 0h0m-56.5 0.5h0m-35 0.5h0m15 0h0m3.5 0h0m20 0h0m8 0h0m22 0h0m-55.5 0.5h0m8 0h0m31 0h0m7 0h0m45 0h0m-114.5 0.5h0m68.5 0h0m49 0h0m-57.5 0.5h0m22.5 0h0m20 0h0m-46.5 0.5h0m32 0h0m-62 0.5h0m62.5 0h0m-48 0.5h0m55.5 0h0m-26 0.5h0m-25 0.5h0m51 0h0m-6.5 0.5h0m-41.5 0.5h0m65.5 0h0m-79.5 1h0m11.5 0h0m12 0h0m46.5 0h0m-77 0.5h0m26.5 0h0m28.5 0h0m30.5 0h0m-98.5 0.5h0m15.5 0h0m19.5 0h0m12.5 0h0m21.5 0h0m-57.5 0.5h0m2 0h0m2 0h0m40 0h0m8 0h0m40 0h0m5.5 0h0m-87 1h0m30.5 0h0m13 0h0m-21.5 0.5h0m32 0h0m7.5 0h0m-66 0.5h0m10.5 0.5h0m8.5 0h0m8.5 0.5h0m58 0h0m-21.5 0.5h0m0.5 0h0m-3 0.5h0m-39 0.5h0m20.5 0h0m-31 0.5h0m4 0h0m57.5 0h0m-48 0.5h0m54 0h0m5 0h0m-115.5 0.5h0m10 0h0m15 0h0m0.5 0h0m30.5 0h0m26.5 0h0m2 0h0m-20.5 0.5h0m11.5 0h0m29 0h0m15.5 0h0m-112 0.5h0m11.5 0h0m4 0h0m9 0h0m93.5 0h0m-92 0.5h0m28.5 0h0m20 0h0m-20.5 0.5h0m40.5 0h0m1.5 0h0m-71.5 0.5h0m21.5 0.5h0m-12 0.5h0m16 0.5h0m42 0h0m21.5 0h0m-23.5 0.5h0m-43 0.5h0m45 0h0m-25.5 0.5h0m-20 0.5h0m9.5 0h0m38 0h0m-38.5 0.5h0m21.5 0h0m-80.5 0.5h0m8 0h0m44.5 0h0m11.5 0h0m33.5 0h0m-75.5 0.5h0m17 0h0m36 0h0m40.5 0h0m-114 0.5h0m88.5 0h0m-61.5 0.5h0m27 0h0m6 0h0m18.5 0h0m3.5 0h0m-25 0.5h0m34 0h0m11 0h0m-71.5 0.5h0m73 0h0m-99.5 0.5h0m98 0h0m-43.5 1h0m41 0h0m-4.5 0.5h0m-48 0.5h0m47 0h0m25.5 0.5h0m8.5 0h0m-73 0.5h0m1.5 0h0m40.5 0h0m-87 0.5h0m69 0h0m18 0h0m-28 0.5h0m7.5 0h0m27 0h0m11 0h0m7.5 0h0m-115.5 0.5h0m15.5 0h0m1 0h0m3 0h0m50.5 0h0m2 0h0m-51.5 0.5h0m43 0h0m12.5 0h0m53.5 0h0m-81 0.5h0m50 0h0m2 0h0m-45.5 0.5h0m36 0h0m6.5 0h0m-38 1h0m-7 0.5h0m37 0.5h0m1.5 0h0m1.5 0.5h0m-50 0.5h0m6.5 0.5h0m2 0h0m41 0h0m18 0h0m-53.5 0.5h0m39 0h0m-88 0.5h0m65.5 0h0m0.5 0h0m38 0h0m-99.5 0.5h0m0.5 0h0m6.5 0h0m53.5 0h0m27.5 0h0m-102.5 0.5h0m71 0h0m-59 0.5h0m11.5 0h0m29.5 0h0m19 0h0m7 0h0m-22.5 0.5h0m35.5 0h0m13.5 0h0m-0.5 0.5h0m-40.5 1h0m-10 0.5h0m42.5 0h0m-21.5 0.5h0m-26.5 0.5h0m44 0h0m12.5 0h0m-51 1h0m6 0h0m37 0h0m-39 0.5h0m18.5 0h0m26 0h0m8 0h0m-99 0.5h0m57.5 0h0m31 0h0m-99 0.5h0m12 0h0m5.5 0h0m59.5 0h0m0.5 0h0m0.5 0h0m-58.5 0.5h0m88.5 0h0m-86 0.5h0m31 0h0m19 0h0m6.5 0h0m-19 0.5h0m34 0h0m2.5 0h0m10.5 0h0m-106.5 0.5h0m54.5 1h0m42.5 0.5h0m5.5 1h0m-39 0.5h0m7.5 0h0m29 0h0m-41.5 0.5h0m0.5 0h0m55 0h0m-103.5 0.5h0m62.5 0h0m34.5 0h0m-14 0.5h0m14 0h0m-104.5 0.5h0m9.5 0h0m5 0h0m61 0h0m5.5 0h0m-60.5 0.5h0m4 0h0m52 0h0m5 0h0m23.5 0h0m-46 0.5h0m1.5 0h0m34.5 0h0m11 0h0m-19.5 0.5h0m-90.5 0.5h0m53 1h0m46 0h0m-50.5 1h0m50.5 0h0m-29.5 0.5h0m18.5 0h0m-24.5 0.5h0m6.5 0h0m32 0h0m-79 0.5h0m37 0h0m47 0h0m4 0h0m-99 0.5h0m63 0h0m36.5 0h0m-99 0.5h0m5.5 0h0m4 0h0m68 0h0m31 0h0m-116.5 0.5h0m20 0h0m60.5 0h0m-58 0.5h0m37 0h0m18.5 0h0m6 0h0m21 0h0m36.5 0h0m-79 0.5h0m0.5 0h0m31.5 0h0m1.5 0h0m12.5 0h0m-77.5 0.5h0m-31.5 0.5h0m52 0.5h0m46.5 0.5h0m13 0h0m-62.5 1h0m40 0h0m-4 0.5h0m-19.5 0.5h0m44 0h0m-98.5 0.5h0m10.5 0h0m75.5 0h0m-2 0.5h0m15.5 0h0m-106 0.5h0m7.5 0h0m6 0h0m46.5 0h0m7 0h0m10.5 0h0m7.5 0h0m37.5 0h0m-105.5 0.5h0m2.5 0h0m56.5 0h0m8.5 0h0m-29.5 0.5h0m7 0h0m31 0h0m-9 0.5h0m-85 0.5h0m25 0h0m43 0h0m-15.5 0.5h0m44.5 1h0m-6 1h0m-23.5 0.5h0m15.5 0h0m9 0h0m-54.5 0.5h0m66.5 0h0m-88.5 0.5h0m92.5 0h0m-106 0.5h0m3.5 0h0m60.5 0h0m19.5 0h0m26 0h0m16 0h0m-47.5 0.5h0m40 0h0m-99 0.5h0m4.5 0h0m39 0h0m14.5 0h0m4.5 0h0m-25.5 0.5h0m38.5 0h0m-66 0.5h0m58.5 0h0m19.5 0h0m-108 0.5h0m59 0h0m7 0h0m28.5 1h0m-3 1h0m-8.5 0.5h0m-41 0.5h0m32.5 0h0m24 0h0m10 0h0m-49.5 0.5h0m53 0.5h0m3 0h0m-110.5 0.5h0m5.5 0h0m2 0h0m58.5 0h0m13 0h0m3 0h0m4 0h0m31.5 0h0m-19 0.5h0m-74 0.5h0m33 0h0m25 0h0m11.5 0h0m-33 0.5h0m28 0h0m3 0h0m-98 0.5h0m61 0.5h0m40.5 0h0m-5 2h0m-10 0.5h0m12.5 0h0m-49.5 0.5h0m64 0h0m-49 0.5h0m13 0h0m20.5 0.5h0m23.5 0h0m-125.5 0.5h0m17 0h0m76 0h0m4.5 0h0m30 0h0m-86.5 0.5h0m23.5 0h0m34.5 0h0m10.5 0h0m-10 0.5h0m6 0h0m-1.5 0.5h0m10 0.5h0m6.5 0h0m-60.5 0.5h0m7 0h0m-12.5 0.5h0m61.5 0h0m-39 1.5h0m15 0h0m15 0h0m-4 0.5h0m-30 1h0m11 0h0m-66 0.5h0m58 0h0m24 0h0m7.5 0h0m22.5 0h0m1.5 0h0m-130.5 0.5h0m97 0h0m-54 0.5h0m55 0h0m9 0h0m-7.5 1h0m15 0.5h0m-36.5 0.5h0m-21.5 0.5h0m46.5 0h0m13.5 0h0m-66 1h0m29.5 0h0m5 0h0m17.5 0h0m-9.5 0.5h0m20.5 0.5h0m-37 1h0m6.5 0h0m21.5 0h0m-103.5 0.5h0m15.5 0h0m6.5 0h0m56 0h0m12 0h0m11 0h0m30.5 0h0m-84 0.5h0m54.5 0h0m5.5 0h0m4.5 0h0m27.5 0h0m-42 1h0m16 0.5h0m-63 1h0m67 0h0m-19.5 0.5h0m-17 0.5h0m-2 0.5h0m13.5 0.5h0m15 0h0m8 0h0m-32.5 1h0m-65.5 0.5h0m5.5 0h0m57 0h0m5.5 0h0m51.5 0h0m-45 0.5h0m37 0h0m-85.5 0.5h0m54.5 0h0m5 0h0m6.5 0h0m2 0h0m35 0h0m-89.5 0.5h0m61.5 1h0m-62.5 1h0m68.5 0h0m-70.5 1h0m24.5 0.5h0m10 0h0m18.5 0.5h0m2 0h0m11.5 0h0m-102.5 1.5h0m14.5 0h0m48 0h0m11 0h0m7.5 0h0m32.5 0h0m7 0h0m-32 0.5h0m7.5 0h0m34.5 0h0m-98.5 0.5h0m50 0h0m-5 0.5h0m-11.5 1h0m40 0h0m-63 2h0m15.5 0h0m17.5 0.5h0m10.5 0.5h0m-80 1h0m61 0h0m17 0h0m-81 0.5h0m75.5 0h0m37 0h0m9.5 0h0m-46 0.5h0m4 0h0m15 0h0m31.5 0h0m-54 0.5h0m32 1h0m-52.5 0.5h0m17 1h0m-32.5 0.5h0m67.5 0h0m-49 0.5h0m11.5 0h0m-10 1h0m-46.5 0.5h0m51 0.5h0m20 0h0m0.5 0h0m32 0h0m8.5 0h0m-48.5 1h0m23 0h0m30.5 0h0m-53 0.5h0m-16.5 1h0m-40.5 1.5h0m51.5 0h0m-30.5 0.5h0m65.5 0h0m13.5 0.5h0m-58.5 0.5h0m33 0h0m-38.5 1h0m8.5 0h0m15 0h0m12 0.5h0m29 0h0m-39.5 0.5h0m18 0h0m28.5 0h0m-45.5 0.5h0m-19.5 1.5h0m6.5 1h0m31 0.5h0m-50 0.5h0m42.5 0.5h0m29.5 0h0m-65.5 1h0m17.5 0.5h0m37.5 0.5h0m-30.5 0.5h0m1.5 0h0m10.5 0h0m5.5 0h0m30.5 0h0m-66 0.5h0m23.5 0h0m-9 1.5h0m-16.5 0.5h0m11.5 0.5h0m48.5 1.5h0m-110.5 1h0m48 0h0m13 0h0m5.5 0.5h0m40.5 0.5h0m14.5 0h0m-47.5 0.5h0m6 0.5h0m2 0h0m11 0h0m-40 2h0m14 0h0m42.5 1.5h0m-70 0.5h0m17 0h0m-11 0.5h0m16 0h0m-55 0.5h0m63 0h0m37 0h0m-34 1h0m48.5 0h0m-45.5 0.5h0m11.5 0.5h0m-32.5 1.5h0m12.5 0.5h0m9.5 0.5h0m-33.5 1h0m69.5 0h0m-54.5 0.5h0m-8 0.5h0m9.5 0h0m47.5 0h0m-44 0.5h0m28.5 0h0m-17 1h0m46.5 0h0m-40.5 0.5h0m4.5 0h0m-27 2h0m9 0.5h0m-1.5 0.5h0m49 0.5h0m-70 0.5h0m16.5 0h0m3 1h0m2.5 0h0m56 1h0m-21.5 1h0m-43.5 2h0m3.5 0h0m7 0h0m-12.5 1h0m56 0.5h0m-97 1h0m46 0h0m5.5 0.5h0m15.5 0h0m18 1.5h0m-32.5 2h0m2 0.5h0m-7 0.5h0m15 0h0m30 1h0m-38.5 0.5h0m-7 0.5h0m16 0.5h0m41 0h0m-42.5 0.5h0m-19.5 0.5h0m12.5 2.5h0m4.5 0h0m-9 1h0m17 0h0m-12.5 1h0m-4 0.5h0m14.5 0.5h0m3 0h0m-20 0.5h0m59.5 0h0m-47 0.5h0m-1.5 3h0m-10.5 0.5h0m14.5 0.5h0m-7.5 1h0m-5.5 0.5h0m3 0h0m19 0.5h0m34.5 0h0m1.5 0h0m-64.5 0.5h0m23.5 0.5h0m-6.5 2.5h0m-13 1h0m-2.5 1h0m12.5 0h0m-9 1h0m4.5 0h0m54.5 0.5h0m-63 3.5h0m2.5 0.5h0m1 1.5h0m10.5 0h0m-10 0.5h0m3 0h0m27.5 0.5h0m22 0.5h0m-56 3h0m2 1h0m1 1h0m0.5 1h0m3.5 0h0m30.5 0.5h0m23 0h0m-4 0.5h0m-58 3h0m15 0h0m-9 0.5h0m-1.5 1.5h0m3 0.5h0m2 0h0m32.5 0.5h0m20 0.5h0m-46.5 3.5h0m0.5 0h0m-9.5 0.5h0m-0.5 1h0m3 1h0m2 0h0m34.5 0.5h0m-26 3.5h0m-3.5 0.5h0m-10.5 1.5h0m3.5 1h0m2.5 0h0m-11 1h0m15 3h0m-7.5 0.5h0m-1.5 1.5h0m2 0.5h0m1.5 0h0m45 0.5h0m-39.5 4h0m-9 0.5h0m2 1h0m-2.5 1h0m10 4h0m-7.5 0.5h0m-3.5 2h0m9.5 4.5h0m-9 2.5h0m11.5 4h0m-7.5 1h0m-2 2h0m7.5 4h0m4.5 0h0m-4 7h0m-6.5 2.5h0m8.5 4h0m-7 0.5h0m6.5 6.5h0m-7.5 2.5h0m9.5 4.5h0" fill="none" stroke="#00ffff" stroke-width="5.7" stroke-linecap="round"/>
<polyline points="1209.6,154.7 1246.4,426.7 1318.1,698.7" fill="none" stroke="#0000ff" stroke-width="2.5" stroke-linejoin="round" stroke-linecap="butt"/><g fill="#0000ff"><circle cx="1209.6" cy="154.7" r="6.1"/><circle cx="1246.4" cy="426.7" r="6.1"/><circle cx="1318.1" cy="698.7" r="6.1"/></g>
<polyline points="1351.3,18.7 1358.3,73.1 1359.3,127.5 1360.3,181.9 1361.9,236.3 1363.3,290.7 1365.2,345.1 1367.2,426.7 1371.2,562.7 1375.2,698.7" fill="none" stroke="#ff0000" stroke-width="8.3" stroke-linejoin="round" stroke-linecap="butt"/><g fill="#ff0000"><circle cx="1351.3" cy="18.7" r="5.9"/><circle cx="1358.3" cy="73.1" r="5.9"/><circle cx="1359.3" cy="127.5" r="5.9"/><circle cx="1360.3" cy="181.9" r="5.9"/><circle cx="1361.9" cy="236.3" r="5.9"/><circle cx="1363.3" cy="290.7" r="5.9"/><circle cx="1365.2" cy="345.1" r="5.9"/><circle cx="1367.2" cy="426.7" r="5.9"/><circle cx="1371.2" cy="562.7" r="5.9"/><circle cx="1375.2" cy="698.7" r="5.9"/></g>
<polyline points="1332.1,18.7 1339.4,73.1 1340.4,127.5 1341.4,181.9 1342.4,236.3 1344.3,290.7 1345.3,345.1 1347.3,426.7 1351.3,562.7 1355.3,698.7" fill="none" stroke="#c8860a" stroke-width="3.6" stroke-linejoin="round"/><polyline points="1332.1,18.7 1339.4,73.1 1340.4,127.5 1341.4,181.9 1342.4,236.3 1344.3,290.7 1345.3,345.1 1347.3,426.7 1351.3,562.7 1355.3,698.7" fill="none" stroke="#ffa500" stroke-width="2.3" stroke-linejoin="round" stroke-linecap="butt"/><g fill="#ffa500" stroke="#8a7a55" stroke-width="0.7"><circle cx="1332.1" cy="18.7" r="5.8"/><circle cx="1339.4" cy="73.1" r="5.8"/><circle cx="1340.4" cy="127.5" r="5.8"/><circle cx="1341.4" cy="181.9" r="5.8"/><circle cx="1342.4" cy="236.3" r="5.8"/><circle cx="1344.3" cy="290.7" r="5.8"/><circle cx="1345.3" cy="345.1" r="5.8"/><circle cx="1347.3" cy="426.7" r="5.8"/><circle cx="1351.3" cy="562.7" r="5.8"/><circle cx="1355.3" cy="698.7" r="5.8"/></g>
<polyline points="1158.5,18.7 1160.5,73.1 1161.5,127.5 1163.5,181.9 1166.5,236.3 1168.4,290.7 1171.4,345.1 1184.4,426.7 1301.5,562.7 1329.4,698.7" fill="none" stroke="#008000" stroke-width="2.8" stroke-linejoin="round" stroke-linecap="butt"/><g fill="#008000"><circle cx="1158.5" cy="18.7" r="6.1"/><circle cx="1160.5" cy="73.1" r="6.1"/><circle cx="1161.5" cy="127.5" r="6.1"/><circle cx="1163.5" cy="181.9" r="6.1"/><circle cx="1166.5" cy="236.3" r="6.1"/><circle cx="1168.4" cy="290.7" r="6.1"/><circle cx="1171.4" cy="345.1" r="6.1"/><circle cx="1184.4" cy="426.7" r="6.1"/><circle cx="1301.5" cy="562.7" r="6.1"/><circle cx="1329.4" cy="698.7" r="6.1"/></g>
<polyline points="1193.3,32.1 1193.3,60.6 1193.3,90.7 1194.3,122.6 1195.3,156.8 1196.3,193.9 1197.3,234.4 1199.3,279.1 1202.3,328.9 1207.6,385.0 1230.2,448.7 1265.7,521.8 1317.1,606.2" fill="none" stroke="#ff00ff" stroke-width="2.8" stroke-linejoin="round" stroke-linecap="butt"/><g fill="#ff00ff"><circle cx="1193.3" cy="32.1" r="6.1"/><circle cx="1193.3" cy="60.6" r="6.1"/><circle cx="1193.3" cy="90.7" r="6.1"/><circle cx="1194.3" cy="122.6" r="6.1"/><circle cx="1195.3" cy="156.8" r="6.1"/><circle cx="1196.3" cy="193.9" r="6.1"/><circle cx="1197.3" cy="234.4" r="6.1"/><circle cx="1199.3" cy="279.1" r="6.1"/><circle cx="1202.3" cy="328.9" r="6.1"/><circle cx="1207.6" cy="385.0" r="6.1"/><circle cx="1230.2" cy="448.7" r="6.1"/><circle cx="1265.7" cy="521.8" r="6.1"/><circle cx="1317.1" cy="606.2" r="6.1"/></g>
</g>
<rect x="1067.5" y="19.4" width="404.0999999999999" height="784.1" fill="none" stroke="#000" stroke-width="1.15"/>
<g stroke="#000" stroke-width="1.15">
<line x1="1150.5" y1="803.5" x2="1150.5" y2="809.5"/>
<line x1="1242.5" y1="803.5" x2="1242.5" y2="809.5"/>
<line x1="1334.5" y1="803.5" x2="1334.5" y2="809.5"/>
<line x1="1426.5" y1="803.5" x2="1426.5" y2="809.5"/>
<line x1="1067.5" y1="18.5" x2="1061.5" y2="18.5"/>
<line x1="1067.5" y1="154.5" x2="1061.5" y2="154.5"/>
<line x1="1067.5" y1="290.5" x2="1061.5" y2="290.5"/>
<line x1="1067.5" y1="426.5" x2="1061.5" y2="426.5"/>
<line x1="1067.5" y1="562.5" x2="1061.5" y2="562.5"/>
<line x1="1067.5" y1="698.5" x2="1061.5" y2="698.5"/>
</g>
<g font-size="17.1" text-anchor="middle">
<text transform="translate(1149.2,845.2) rotate(-45)" y="6.1">1023.0</text>
<text transform="translate(1241.2,845.2) rotate(-45)" y="6.1">1023.5</text>
<text transform="translate(1333.2,845.2) rotate(-45)" y="6.1">1024.0</text>
<text transform="translate(1425.2,845.2) rotate(-45)" y="6.1">1024.5</text>
</g>
<g font-size="17.1" text-anchor="end">
<text x="65.2" y="24.7">0</text>
<text x="65.2" y="160.7">5</text>
<text x="65.2" y="296.7">10</text>
<text x="65.2" y="432.7">15</text>
<text x="65.2" y="568.7">20</text>
<text x="65.2" y="704.7">25</text>
</g>
<g font-size="22.2" font-weight="bold" text-anchor="middle">
<text transform="translate(29.3,412.2) rotate(-90) scale(1.022,1)">Depth (m)</text>
<text transform="translate(279,859.6) scale(1.037,1)">Temperature (<tspan font-weight="normal" font-style="italic" font-size="15.5" dy="-8.4">o</tspan><tspan font-weight="normal" font-style="italic" dy="8.4">C</tspan>)</text>
<text transform="translate(774,859.2) scale(1.01,1)">Salinity</text>
<text transform="translate(1268.5,895.6) scale(1.031,1)">Density (kg m-3)</text>
</g>
<text x="325.3" y="917.9" font-size="17.36" font-style="italic" xml:space="preserve">Ocean Heat Content (kJ/cm^2) - Glider: N/A,  RTOFS: N/A,  RTOFS (Parallel): N/A,  ESPC: N/A,  CMEMS: N/A,</text>
<g font-size="22.2" font-weight="bold">
<text transform="translate(1521.2,36.6) scale(1.018,1)">Comparison Date: 2024-11-02</text>
<text transform="translate(1521.2,89.5) scale(1.018,1)">Glider: ru32</text>
<text transform="translate(1521.2,116.1) scale(1.018,1)">Profiles: 111</text>
<text transform="translate(1521.2,142.7) scale(1.018,1)">First: 2024-11-02 00:24:01</text>
<text transform="translate(1521.2,169.3) scale(1.018,1)">Last: 2024-11-02 22:59:21</text>
<text transform="translate(1521.2,195.9) scale(1.018,1)">Method: Nearest-Neighbor</text>
</g>
<clipPath id="mc"><rect x="1563.8999999999999" y="243.9" width="399.6" height="332.09999999999997"/></clipPath>
<rect x="1564.8" y="244.8" width="398.70000000000005" height="331.2" fill="#97b6e1" stroke="#000" stroke-width="1.5"/>
<g clip-path="url(#mc)" stroke-linejoin="round" stroke-linecap="round">
<polygon points="1562.8,242.8 1776.4,242.8 1776.4,244.9 1772.5,249.6 1766.7,252.5 1761.9,255.8 1758.1,257.8 1756.1,261.1 1753.3,263.1 1752.3,266.9 1754.2,267.9 1751.3,270.8 1747.5,271.3 1746.5,276.6 1743.6,280.9 1741.2,286.2 1740.2,289.1 1739.8,292.9 1741.7,295.8 1746.5,295.8 1747.5,298.2 1744.6,300.7 1738.8,301.6 1736.9,305.5 1734.0,308.4 1734.0,312.2 1737.8,313.2 1741.7,312.7 1744.6,317.0 1746.5,320.9 1744.1,322.8 1747.5,324.7 1749.4,328.0 1751.3,330.9 1757.1,331.7 1761.9,329.3 1763.7,325.1 1761.9,321.3 1758.3,319.7 1757.1,320.5 1758.6,322.4 1759.8,321.6 1759.2,320.3 1761.9,319.7 1765.2,323.2 1766.5,328.0 1766.7,333.8 1764.4,340.0 1763.3,334.7 1762.7,333.0 1755.2,336.2 1747.5,338.1 1746.3,334.0 1743.6,332.3 1737.8,336.7 1732.0,340.5 1730.3,337.6 1731.1,333.3 1728.2,331.9 1726.3,329.9 1723.6,332.8 1722.9,337.6 1724.5,342.5 1721.4,345.3 1712.8,346.8 1707.0,350.7 1705.1,348.2 1697.3,348.7 1689.6,350.7 1680.0,350.2 1670.8,355.0 1660.2,359.8 1656.4,363.7 1654.9,366.6 1650.6,368.5 1646.7,370.4 1643.9,374.3 1641.9,379.1 1643.9,381.0 1648.7,381.0 1650.6,380.0 1651.1,384.9 1649.2,385.8 1650.1,389.7 1648.7,395.5 1646.3,399.3 1645.8,405.1 1644.8,409.0 1641.0,412.8 1637.1,418.0 1634.2,422.7 1630.8,426.0 1627.5,431.8 1624.6,436.1 1622.7,436.6 1623.6,432.8 1625.5,428.9 1621.7,426.5 1616.9,426.0 1612.0,422.7 1606.3,417.3 1604.3,412.5 1607.2,408.7 1610.1,404.8 1608.2,405.8 1605.3,414.5 1608.2,421.2 1610.1,425.1 1610.1,429.9 1613.0,435.7 1616.9,440.5 1619.8,442.4 1620.2,452.0 1618.8,457.8 1614.9,465.5 1611.1,473.3 1607.2,479.0 1603.4,486.7 1602.4,490.0 1606.0,485.0 1602.8,491.4 1599.6,497.8 1595.3,503.2 1592.6,503.0 1590.0,506.9 1594.3,509.1 1596.4,517.1 1599.6,527.8 1602.8,538.5 1607.1,547.1 1609.2,554.6 1607.6,568.5 1602.8,566.4 1595.3,570.6 1588.0,575.5 1562.8,576.0" fill="#d2b48c"/>
<polygon points="1650.6,375.2 1651.6,373.1 1656.4,369.4 1660.2,365.6 1666.0,364.1 1674.7,361.7 1680.0,361.3 1689.6,359.8 1696.4,356.0 1703.1,353.3 1703.6,354.5 1697.3,357.9 1691.6,360.8 1694.5,361.9 1704.1,358.7 1711.8,356.7 1712.3,358.1 1704.1,361.3 1694.5,365.8 1680.0,371.4 1670.8,373.3 1661.2,375.2 1652.5,376.7" fill="#d2b48c"/>
<polygon points="1736.9,344.4 1743.6,342.5 1748.4,342.5 1751.8,344.9 1751.3,347.3 1745.5,347.8 1741.7,348.7 1740.2,351.1 1739.3,347.3" fill="#d2b48c"/>
<polygon points="1754.2,347.8 1757.1,350.7 1761.9,351.6 1765.3,350.7 1764.0,345.8 1762.5,345.5 1763.1,349.0 1759.2,349.6" fill="#d2b48c"/>
<polygon points="1872.6,242.0 1872.6,255.0 1876.1,260.0 1880.1,258.2 1883.1,263.0 1888.1,268.5 1893.1,265.5 1896.1,264.0 1899.1,259.0 1903.1,257.5 1908.1,254.0 1912.1,250.0 1914.6,242.0" fill="#d2b48c"/>
<polygon points="1660.7,360.0 1656.4,363.9 1654.9,366.6 1650.6,368.5 1646.7,370.4 1644.0,374.3 1642.7,378.3 1644.8,380.0 1649.6,379.6 1651.1,375.0 1652.0,372.8 1656.4,369.3 1660.4,365.4 1663.6,364.6 1663.6,359.0" fill="#d2b48c"/>
<polygon points="1561.9,241.9 1589.9,241.9 1588.9,247.6 1586.0,250.0 1587.5,254.9 1587.5,261.1 1585.1,263.5 1580.7,264.0 1578.3,266.0 1574.5,268.8 1569.6,271.7 1561.9,273.7" fill="#b2b2b2"/>
<ellipse cx="1595.7" cy="275.4" rx="5.4" ry="1.3" fill="#b5b0a8" transform="rotate(6 1595.7 275.4)"/>
<g stroke="#bdb0a0" stroke-width="0.8" fill="none"><path d="M1572.5,286 L1573,296 L1578,306 M1578,288 L1580,293 M1581,286 L1585,292 M1567.5,296 L1568.5,306"/></g><g fill="#b8b2aa"><ellipse cx="1725.8" cy="259" rx="2.6" ry="1.6" transform="rotate(40 1725.8 259)"/><ellipse cx="1748.4" cy="250" rx="1.7" ry="2.4" transform="rotate(-20 1748.4 250)"/></g>
<g fill="none" stroke="#97b6e1" stroke-width="1.6">
<polyline points="1578.8,266.0 1582.7,272.7 1586.0,276.1 1585.8,278.5 1582.2,277.3 1577.8,280.9 1573.5,280.9 1571.6,287.2 1566.7,288.1 1565.8,292.0 1567.2,294.9 1565.3,296.3"/>
<polyline points="1607.9,266.0 1608.2,268.8 1611.1,270.8 1609.2,275.1 1613.5,279.0 1616.9,279.4 1621.7,282.5 1626.5,281.9 1631.8,284.3 1633.3,287.2 1636.1,287.3 1639.0,285.7 1643.4,285.2 1648.7,288.1 1650.6,290.0 1653.5,290.5 1655.9,292.0 1659.3,291.0"/>
<polyline points="1648.2,245.2 1644.8,250.5 1648.7,254.9 1652.5,256.3 1654.0,260.7 1655.4,264.0 1653.5,267.9 1654.9,274.1 1660.7,272.2 1662.2,278.5 1660.7,283.3 1658.8,288.1 1659.3,291.0 1657.3,295.8 1655.9,303.5 1656.4,309.8 1653.0,315.1 1651.6,320.9 1651.6,328.0 1651.1,333.8 1650.1,340.5 1651.1,345.3 1651.1,348.7"/>
<polyline points="1624.6,291.5 1622.7,296.8 1623.1,301.6 1621.7,304.5 1616.9,306.4 1612.5,309.8 1608.2,311.3 1605.3,315.1 1603.4,318.0 1604.3,321.9 1603.9,323.8 1600.0,322.8 1598.6,319.0 1596.6,317.8 1592.8,318.0 1589.9,319.4 1586.0,318.2 1583.6,319.4 1580.2,320.9 1578.8,324.7 1579.3,328.0 1582.2,331.9 1591.8,337.2 1596.6,341.5 1599.5,347.3 1595.7,350.7 1589.9,354.0 1588.9,356.9 1584.1,358.4 1577.3,362.7 1574.9,361.7 1570.6,364.6 1569.2,370.4 1565.8,377.2 1565.3,383.4 1567.7,385.8 1568.7,388.7 1572.5,391.6 1574.5,394.5 1578.3,395.5 1580.7,399.3 1583.6,404.1 1590.8,412.8 1591.8,414.7"/>
<polyline points="1632.3,306.6 1629.4,308.8 1624.6,310.8 1621.7,314.6 1617.8,316.1 1615.9,318.0 1610.1,319.4 1609.6,320.9"/>
<polyline points="1564.8,350.7 1570.1,351.6 1568.2,355.0 1569.2,361.7 1570.6,364.6"/>
<polyline points="1716.1,245.2 1716.6,252.5 1717.1,258.7 1714.7,261.1 1717.1,266.0 1719.5,271.7 1722.4,279.4 1721.9,286.2 1723.4,293.9 1724.8,296.8 1728.2,297.3 1733.0,293.9 1738.8,290.0"/>
<polyline points="1694.0,294.4 1691.1,299.7 1689.6,309.3 1690.1,315.1 1689.6,321.9 1689.2,328.0 1689.2,337.6 1696.4,345.8"/>
<polyline points="1564.8,544.9 1568.0,546.5 1571.8,544.4 1573.9,543.3"/>
</g>
<g fill="none" stroke="#000" stroke-width="1.4">
<polyline points="1666.5,245.2 1668.0,250.5 1668.4,256.3 1666.5,261.1 1669.9,260.4 1671.8,263.1 1671.3,276.6 1670.8,290.0 1671.8,293.4 1664.1,319.4 1664.6,328.0 1663.6,349.2 1665.1,351.6 1658.3,356.4 1659.8,359.3"/>
<polyline points="1671.8,293.4 1680.0,293.9 1694.0,294.1 1726.3,295.6 1730.1,292.5 1734.0,290.0 1737.8,288.3 1740.2,288.1"/>
<polyline points="1664.1,319.9 1680.0,320.7 1712.8,321.5 1724.8,321.7 1725.3,325.7 1726.7,328.0 1725.3,328.0 1726.5,331.1"/>
<polyline points="1712.8,321.5 1712.8,328.0 1713.3,342.5 1712.3,346.3"/>
<polyline points="1704.1,245.2 1701.7,251.5 1698.3,256.3 1696.4,261.6 1695.4,269.8 1694.5,276.6 1693.0,283.3 1691.1,288.1 1691.6,291.0 1694.0,293.9"/>
<polyline points="1734.9,245.2 1735.9,255.3 1736.4,266.9 1737.8,270.8 1740.7,275.6 1742.2,279.9 1743.6,280.9"/>
<polyline points="1564.8,322.8 1611.6,322.8 1613.0,324.3 1615.4,327.2 1618.8,328.0 1620.2,330.9 1620.7,336.7 1623.6,341.5 1629.4,344.4 1630.8,346.8 1627.5,348.7 1624.6,354.0 1619.8,358.8 1617.8,360.8 1620.2,364.6 1618.8,367.5 1616.4,369.4 1616.4,375.2 1619.8,377.6 1620.7,382.0 1623.6,383.9 1629.4,391.6 1619.8,397.9"/>
<polyline points="1630.8,346.8 1652.5,360.3"/>
<polyline points="1564.8,407.8 1599.0,407.8 1600.0,418.0 1601.4,454.0 1618.8,453.0"/>
<polyline points="1599.0,407.8 1601.4,404.1 1605.3,403.0 1610.1,404.6"/>
<polyline points="1600.5,470.4 1609.2,469.4"/>
<polyline points="1564.8,521.7 1592.1,521.7"/>
<polyline points="1577.8,247.2 1570.6,258.7 1564.8,260.0" stroke-dasharray="4.5,2.5" stroke-linecap="butt"/>
</g>
<filter id="rough" color-interpolation-filters="sRGB" x="-5%" y="-5%" width="110%" height="110%"><feTurbulence type="fractalNoise" baseFrequency="0.45" numOctaves="2" seed="4" result="n"/><feDisplacementMap in="SourceGraphic" in2="n" scale="3.2" xChannelSelector="R" yChannelSelector="G"/></filter>
<polygon points="1572.8,543.7 1581.4,540.1 1592.1,538.0 1599.1,539.8 1602.8,538.5 1607.1,547.1 1609.2,554.6 1607.6,568.5 1602.8,566.4 1595.3,570.6 1588.0,575.5 1576.1,575.5 1578.7,570.6 1580.9,566.4 1586.8,564.7 1591.0,563.7 1596.4,558.9 1600.1,553.5 1600.5,547.6 1595.9,544.9 1586.8,543.7 1579.8,544.1 1572.8,545.2" fill="#97b6e1" stroke="#000" stroke-width="1.3"/>
<polygon points="1592.8,413.0 1589.9,416.4 1586.0,420.2 1582.7,424.1 1579.8,431.8 1579.3,442.4 1582.7,454.0 1584.6,462.7 1585.5,467.5 1586.5,477.1 1587.0,486.7 1586.2,491.4 1587.3,497.8 1590.0,506.9 1592.6,503.0 1592.1,495.7 1594.0,489.3 1593.3,486.7 1592.8,477.1 1591.3,467.5 1588.9,462.7 1587.0,454.0 1583.6,442.4 1583.1,431.8 1586.0,424.1 1591.8,417.3 1593.7,414.5" fill="#97b6e1"/>
<g filter="url(#rough)">
<polyline points="1776.4,244.9 1772.5,249.6 1766.7,252.5 1761.9,255.8 1758.1,257.8 1756.1,261.1 1753.3,263.1 1752.3,266.9 1754.2,267.9 1751.3,270.8 1747.5,271.3 1746.5,276.6 1743.6,280.9 1741.2,286.2 1740.2,289.1 1739.8,292.9 1741.7,295.8 1746.5,295.8 1747.5,298.2 1744.6,300.7 1738.8,301.6 1736.9,305.5 1734.0,308.4 1734.0,312.2 1737.8,313.2 1741.7,312.7 1744.6,317.0 1746.5,320.9 1744.1,322.8 1747.5,324.7 1749.4,328.0 1751.3,330.9 1757.1,331.7 1761.9,329.3 1763.7,325.1 1761.9,321.3 1758.3,319.7 1757.1,320.5 1758.6,322.4 1759.8,321.6 1759.2,320.3 1761.9,319.7 1765.2,323.2 1766.5,328.0 1766.7,333.8 1764.4,340.0 1763.3,334.7 1762.7,333.0 1755.2,336.2 1747.5,338.1 1746.3,334.0 1743.6,332.3 1737.8,336.7 1732.0,340.5 1730.3,337.6 1731.1,333.3 1728.2,331.9 1726.3,329.9 1723.6,332.8 1722.9,337.6 1724.5,342.5 1721.4,345.3 1712.8,346.8 1707.0,350.7 1705.1,348.2 1697.3,348.7 1689.6,350.7 1680.0,350.2 1670.8,355.0 1660.2,359.8 1656.4,363.7 1654.9,366.6 1650.6,368.5 1646.7,370.4 1643.9,374.3 1641.9,379.1 1643.9,381.0 1648.7,381.0 1650.6,380.0 1651.1,384.9 1649.2,385.8 1650.1,389.7 1648.7,395.5 1646.3,399.3 1645.8,405.1 1644.8,409.0 1641.0,412.8 1637.1,418.0 1634.2,422.7 1630.8,426.0 1627.5,431.8 1624.6,436.1 1622.7,436.6 1623.6,432.8 1625.5,428.9 1621.7,426.5 1616.9,426.0 1612.0,422.7 1606.3,417.3 1604.3,412.5 1607.2,408.7 1610.1,404.8 1608.2,405.8 1605.3,414.5 1608.2,421.2 1610.1,425.1 1610.1,429.9 1613.0,435.7 1616.9,440.5 1619.8,442.4 1620.2,452.0 1618.8,457.8 1614.9,465.5 1611.1,473.3 1607.2,479.0 1603.4,486.7 1602.4,490.0 1606.0,485.0 1602.8,491.4 1599.6,497.8 1595.3,503.2 1592.6,503.0" fill="none" stroke="#000" stroke-width="2.7"/><polyline points="1590.0,506.9 1594.3,509.1 1596.4,517.1 1599.6,527.8 1602.8,538.5 1607.1,547.1 1609.2,554.6 1607.6,568.5 1602.8,566.4 1595.3,570.6 1588.0,575.5" fill="none" stroke="#000" stroke-width="1.5"/>
<polygon points="1650.6,375.2 1651.6,373.1 1656.4,369.4 1660.2,365.6 1666.0,364.1 1674.7,361.7 1680.0,361.3 1689.6,359.8 1696.4,356.0 1703.1,353.3 1703.6,354.5 1697.3,357.9 1691.6,360.8 1694.5,361.9 1704.1,358.7 1711.8,356.7 1712.3,358.1 1704.1,361.3 1694.5,365.8 1680.0,371.4 1670.8,373.3 1661.2,375.2 1652.5,376.7" fill="none" stroke="#000" stroke-width="2.8"/>
<polygon points="1736.9,344.4 1743.6,342.5 1748.4,342.5 1751.8,344.9 1751.3,347.3 1745.5,347.8 1741.7,348.7 1740.2,351.1 1739.3,347.3" fill="none" stroke="#000" stroke-width="2.8"/>
<polygon points="1754.2,347.8 1757.1,350.7 1761.9,351.6 1765.3,350.7 1764.0,345.8 1762.5,345.5 1763.1,349.0 1759.2,349.6" fill="none" stroke="#000" stroke-width="2.8"/>
<polygon points="1766.3,244.9 1800.0,244.9 1800.0,246.1 1793.7,246.9 1788.9,248.4 1781.2,250.3 1778.3,252.5 1775.4,254.6 1770.6,256.5 1764.8,256.1 1760.0,258.8 1757.1,258.4 1755.7,256.5 1757.1,254.4 1760.0,252.5 1761.9,250.0 1764.8,248.6" fill="#000" stroke="#000" stroke-width="1"/>
<g fill="none" stroke="#000">
<polyline points="1739.8,292.9 1741.7,295.8 1746.5,295.8 1747.5,298.2" stroke-width="1.7"/>
<polyline points="1736.9,305.5 1734.0,308.4 1734.0,312.2 1737.8,313.2" stroke-width="1.8"/>
<polyline points="1723.4,331.9 1725.3,333.8 1728.2,333.8 1726.3,337.6 1725.3,341.5 1729.2,339.6 1728.2,335.7" stroke-width="5.8"/>
<polyline points="1724.8,331.9 1726.3,340.0" stroke-width="4.7"/>
<polyline points="1737.8,336.7 1742.7,333.3 1746.5,332.3" stroke-width="1.6"/>
<polyline points="1736.9,344.4 1743.6,343.4 1751.3,345.8" stroke-width="1.6"/>
<polyline points="1680.0,361.3 1674.7,361.7 1666.0,364.1 1660.2,365.6 1656.4,369.4 1651.6,373.1" stroke-width="1.4"/>
<polyline points="1680.0,370.4 1670.8,373.3 1661.2,375.2 1652.5,376.7" stroke-width="1.5"/>
<polyline points="1689.6,359.8 1696.4,356.4 1703.1,353.5" stroke-width="1.8"/>
<polyline points="1691.6,361.3 1697.3,359.3 1704.1,356.9" stroke-width="1.8"/>
<polyline points="1680.0,371.4 1694.5,365.8 1704.1,361.3 1711.8,357.4" stroke-width="1.7"/>
<polyline points="1641.9,379.1 1643.9,374.3 1646.7,370.4 1650.6,368.5 1654.9,366.6 1656.4,363.7 1660.2,359.8" stroke-width="1.6"/>
<polyline points="1651.1,384.9 1650.1,389.7 1648.7,395.5 1646.3,399.3 1645.8,405.1 1644.8,409.0 1641.0,412.8 1637.1,418.0" stroke-width="1.6"/>
<polyline points="1638.1,418.3 1634.2,422.7 1630.8,426.0 1627.5,431.8 1624.6,436.1" stroke-width="1.6"/>
<polyline points="1592.3,413.5 1588.9,415.9 1584.1,419.8 1579.3,424.1 1577.2,431.8 1577.8,442.4 1581.2,454.0 1583.1,462.7 1584.6,472.3 1585.3,481.9 1585.8,490.0" stroke-width="3.2"/>
<polyline points="1593.7,414.5 1588.9,422.2 1587.0,431.8 1587.5,442.4 1589.9,452.0 1593.7,459.8 1596.1,467.5 1597.1,475.2 1598.6,477.1" stroke-width="5.8"/>
<polyline points="1588.9,445.3 1594.7,446.3" stroke-width="2.6"/>
<polyline points="1575.4,424.1 1580.2,422.7" stroke-width="2.6"/>
<polyline points="1564.8,457.8 1571.6,460.5 1579.3,463.6 1584.6,468.9" stroke-width="4.2"/>
<polyline points="1566.7,471.3 1574.5,477.1 1582.2,483.9 1586.5,490.0" stroke-width="3.2"/>
<polyline points="1571.6,454.0 1578.3,456.9" stroke-width="2.1"/>
<polyline points="1619.8,442.4 1620.2,452.0 1618.8,457.8 1614.9,465.5 1611.1,473.3 1607.2,479.0 1603.4,486.7" stroke-width="1.7"/>
<polyline points="1605.0,485.0 1601.2,492.5 1597.5,498.4 1593.7,502.7" stroke-width="4.7"/>
<polyline points="1569.6,487.1 1576.1,494.6 1583.0,498.9 1585.2,505.9" stroke-width="4.2"/>
<polyline points="1565.4,496.8 1573.9,499.5 1580.3,506.4 1585.2,510.2" stroke-width="3.7"/>
<polyline points="1591.6,517.1 1594.3,527.8 1597.5,532.6" stroke-width="3.7"/>
<polyline points="1572.8,539.6 1577.1,535.3 1581.4,536.4 1584.6,533.2 1587.8,534.2 1590.5,531.0 1595.3,532.1" stroke-width="3.7"/>
<polyline points="1571.8,542.8 1573.9,537.5" stroke-width="2.6"/>
<polyline points="1563.2,558.9 1573.9,558.6 1580.3,560.1 1586.8,564.2 1591.0,563.1" stroke-width="3.7"/>
<polyline points="1592.1,543.3 1592.6,553.5" stroke-width="3.2"/>
<polyline points="1595.3,544.9 1600.1,549.2 1599.8,554.6 1595.9,558.9" stroke-width="2.1"/>
<polyline points="1580.3,564.7 1577.7,570.6 1573.9,574.4" stroke-width="3.2"/>
<polyline points="1564.8,573.8 1570.7,575.1" stroke-width="2.6"/>
<polyline points="1872.6,245.0 1872.6,255.0 1876.1,259.5 1880.1,257.5 1883.1,262.0 1888.1,267.5 1893.1,265.0 1896.1,263.0 1899.1,258.5 1903.1,257.0 1908.1,253.5 1912.1,249.5 1914.6,245.5" stroke-width="4.5"/>
<polyline points="1874.1,247.0 1875.1,257.0 1880.1,256.0" stroke-width="4.2"/>
</g>
</g>
<g fill="none" stroke="#97b6e1"><polyline points="1584.1,425.5 1581.4,431.8 1581.2,442.4 1584.9,454.0 1588.0,462.7 1588.9,473.3 1590.1,486.7" stroke-width="3.2"/><polyline points="1567.2,459.0 1574.5,461.7 1582.2,466.5" stroke-width="1.0"/><polyline points="1594.2,467.5 1595.7,474.7" stroke-width="1.6"/></g>
<g fill="#000">
<circle cx="1719.0" cy="353.5" r="1.9"/>
<circle cx="1877.6" cy="264.5" r="1.3"/>
<circle cx="1876.9" cy="268.0" r="1.4"/>
<circle cx="1789.0" cy="249.5" r="1.2"/>
<circle cx="1794.5" cy="251.0" r="1.6"/>
<circle cx="1746.0" cy="284.7" r="1.3"/>
</g>
<circle cx="1644.6" cy="431.9" r="4.4" fill="#000"/><circle cx="1641.5" cy="433" r="4.2" fill="#000"/><circle cx="1638.4" cy="433.4" r="3.4" fill="#f00" stroke="#000" stroke-width="0.9"/>
</g>
<polyline points="1564.1,576.0 1963.5,576.0 1963.5,244.10000000000002" fill="none" stroke="#000" stroke-width="1.5"/>
<g stroke="#000">
<line x1="1565.3" y1="244.8" x2="1565.3" y2="241.8" stroke-width="1.6"/><line x1="1565.3" y1="576.0" x2="1565.3" y2="579.0" stroke-width="1.6"/>
<line x1="1579.6" y1="244.8" x2="1579.6" y2="241.8" stroke-width="1.6"/><line x1="1579.6" y1="576.0" x2="1579.6" y2="579.0" stroke-width="1.6"/>
<line x1="1593.8" y1="244.8" x2="1593.8" y2="236.20000000000002" stroke-width="2.8"/><line x1="1593.8" y1="576.0" x2="1593.8" y2="584.6" stroke-width="2.8"/>
<line x1="1608.0" y1="244.8" x2="1608.0" y2="241.8" stroke-width="1.6"/><line x1="1608.0" y1="576.0" x2="1608.0" y2="579.0" stroke-width="1.6"/>
<line x1="1622.2" y1="244.8" x2="1622.2" y2="241.8" stroke-width="1.6"/><line x1="1622.2" y1="576.0" x2="1622.2" y2="579.0" stroke-width="1.6"/>
<line x1="1636.5" y1="244.8" x2="1636.5" y2="241.8" stroke-width="1.6"/><line x1="1636.5" y1="576.0" x2="1636.5" y2="579.0" stroke-width="1.6"/>
<line x1="1650.7" y1="244.8" x2="1650.7" y2="236.20000000000002" stroke-width="2.8"/><line x1="1650.7" y1="576.0" x2="1650.7" y2="584.6" stroke-width="2.8"/>
<line x1="1664.9" y1="244.8" x2="1664.9" y2="241.8" stroke-width="1.6"/><line x1="1664.9" y1="576.0" x2="1664.9" y2="579.0" stroke-width="1.6"/>
<line x1="1679.2" y1="244.8" x2="1679.2" y2="241.8" stroke-width="1.6"/><line x1="1679.2" y1="576.0" x2="1679.2" y2="579.0" stroke-width="1.6"/>
<line x1="1693.4" y1="244.8" x2="1693.4" y2="241.8" stroke-width="1.6"/><line x1="1693.4" y1="576.0" x2="1693.4" y2="579.0" stroke-width="1.6"/>
<line x1="1707.6" y1="244.8" x2="1707.6" y2="236.20000000000002" stroke-width="2.8"/><line x1="1707.6" y1="576.0" x2="1707.6" y2="584.6" stroke-width="2.8"/>
<line x1="1721.8" y1="244.8" x2="1721.8" y2="241.8" stroke-width="1.6"/><line x1="1721.8" y1="576.0" x2="1721.8" y2="579.0" stroke-width="1.6"/>
<line x1="1736.0" y1="244.8" x2="1736.0" y2="241.8" stroke-width="1.6"/><line x1="1736.0" y1="576.0" x2="1736.0" y2="579.0" stroke-width="1.6"/>
<line x1="1750.3" y1="244.8" x2="1750.3" y2="241.8" stroke-width="1.6"/><line x1="1750.3" y1="576.0" x2="1750.3" y2="579.0" stroke-width="1.6"/>
<line x1="1764.5" y1="244.8" x2="1764.5" y2="236.20000000000002" stroke-width="2.8"/><line x1="1764.5" y1="576.0" x2="1764.5" y2="584.6" stroke-width="2.8"/>
<line x1="1778.7" y1="244.8" x2="1778.7" y2="241.8" stroke-width="1.6"/><line x1="1778.7" y1="576.0" x2="1778.7" y2="579.0" stroke-width="1.6"/>
<line x1="1793.0" y1="244.8" x2="1793.0" y2="241.8" stroke-width="1.6"/><line x1="1793.0" y1="576.0" x2="1793.0" y2="579.0" stroke-width="1.6"/>
<line x1="1807.2" y1="244.8" x2="1807.2" y2="241.8" stroke-width="1.6"/><line x1="1807.2" y1="576.0" x2="1807.2" y2="579.0" stroke-width="1.6"/>
<line x1="1821.4" y1="244.8" x2="1821.4" y2="236.20000000000002" stroke-width="2.8"/><line x1="1821.4" y1="576.0" x2="1821.4" y2="584.6" stroke-width="2.8"/>
<line x1="1835.6" y1="244.8" x2="1835.6" y2="241.8" stroke-width="1.6"/><line x1="1835.6" y1="576.0" x2="1835.6" y2="579.0" stroke-width="1.6"/>
<line x1="1849.8" y1="244.8" x2="1849.8" y2="241.8" stroke-width="1.6"/><line x1="1849.8" y1="576.0" x2="1849.8" y2="579.0" stroke-width="1.6"/>
<line x1="1864.1" y1="244.8" x2="1864.1" y2="241.8" stroke-width="1.6"/><line x1="1864.1" y1="576.0" x2="1864.1" y2="579.0" stroke-width="1.6"/>
<line x1="1878.3" y1="244.8" x2="1878.3" y2="236.20000000000002" stroke-width="2.8"/><line x1="1878.3" y1="576.0" x2="1878.3" y2="584.6" stroke-width="2.8"/>
<line x1="1892.5" y1="244.8" x2="1892.5" y2="241.8" stroke-width="1.6"/><line x1="1892.5" y1="576.0" x2="1892.5" y2="579.0" stroke-width="1.6"/>
<line x1="1906.8" y1="244.8" x2="1906.8" y2="241.8" stroke-width="1.6"/><line x1="1906.8" y1="576.0" x2="1906.8" y2="579.0" stroke-width="1.6"/>
<line x1="1921.0" y1="244.8" x2="1921.0" y2="241.8" stroke-width="1.6"/><line x1="1921.0" y1="576.0" x2="1921.0" y2="579.0" stroke-width="1.6"/>
<line x1="1935.2" y1="244.8" x2="1935.2" y2="236.20000000000002" stroke-width="2.8"/><line x1="1935.2" y1="576.0" x2="1935.2" y2="584.6" stroke-width="2.8"/>
<line x1="1949.4" y1="244.8" x2="1949.4" y2="241.8" stroke-width="1.6"/><line x1="1949.4" y1="576.0" x2="1949.4" y2="579.0" stroke-width="1.6"/>
<line x1="1963.7" y1="244.8" x2="1963.7" y2="241.8" stroke-width="1.6"/><line x1="1963.7" y1="576.0" x2="1963.7" y2="579.0" stroke-width="1.6"/>
<line x1="1564.8" y1="560.4" x2="1561.8" y2="560.4" stroke-width="1.6"/><line x1="1963.5" y1="560.4" x2="1966.5" y2="560.4" stroke-width="1.6"/>
<line x1="1564.8" y1="542.8" x2="1556.2" y2="542.8" stroke-width="2.8"/><line x1="1963.5" y1="542.8" x2="1972.1" y2="542.8" stroke-width="2.8"/>
<line x1="1564.8" y1="525.2" x2="1561.8" y2="525.2" stroke-width="1.6"/><line x1="1963.5" y1="525.2" x2="1966.5" y2="525.2" stroke-width="1.6"/>
<line x1="1564.8" y1="507.4" x2="1561.8" y2="507.4" stroke-width="1.6"/><line x1="1963.5" y1="507.4" x2="1966.5" y2="507.4" stroke-width="1.6"/>
<line x1="1564.8" y1="489.6" x2="1561.8" y2="489.6" stroke-width="1.6"/><line x1="1963.5" y1="489.6" x2="1966.5" y2="489.6" stroke-width="1.6"/>
<line x1="1564.8" y1="471.6" x2="1556.2" y2="471.6" stroke-width="2.8"/><line x1="1963.5" y1="471.6" x2="1972.1" y2="471.6" stroke-width="2.8"/>
<line x1="1564.8" y1="453.5" x2="1561.8" y2="453.5" stroke-width="1.6"/><line x1="1963.5" y1="453.5" x2="1966.5" y2="453.5" stroke-width="1.6"/>
<line x1="1564.8" y1="435.2" x2="1561.8" y2="435.2" stroke-width="1.6"/><line x1="1963.5" y1="435.2" x2="1966.5" y2="435.2" stroke-width="1.6"/>
<line x1="1564.8" y1="416.9" x2="1561.8" y2="416.9" stroke-width="1.6"/><line x1="1963.5" y1="416.9" x2="1966.5" y2="416.9" stroke-width="1.6"/>
<line x1="1564.8" y1="398.4" x2="1556.2" y2="398.4" stroke-width="2.8"/><line x1="1963.5" y1="398.4" x2="1972.1" y2="398.4" stroke-width="2.8"/>
<line x1="1564.8" y1="379.7" x2="1561.8" y2="379.7" stroke-width="1.6"/><line x1="1963.5" y1="379.7" x2="1966.5" y2="379.7" stroke-width="1.6"/>
<line x1="1564.8" y1="360.9" x2="1561.8" y2="360.9" stroke-width="1.6"/><line x1="1963.5" y1="360.9" x2="1966.5" y2="360.9" stroke-width="1.6"/>
<line x1="1564.8" y1="342.0" x2="1561.8" y2="342.0" stroke-width="1.6"/><line x1="1963.5" y1="342.0" x2="1966.5" y2="342.0" stroke-width="1.6"/>
<line x1="1564.8" y1="323.0" x2="1556.2" y2="323.0" stroke-width="2.8"/><line x1="1963.5" y1="323.0" x2="1972.1" y2="323.0" stroke-width="2.8"/>
<line x1="1564.8" y1="303.7" x2="1561.8" y2="303.7" stroke-width="1.6"/><line x1="1963.5" y1="303.7" x2="1966.5" y2="303.7" stroke-width="1.6"/>
<line x1="1564.8" y1="284.4" x2="1561.8" y2="284.4" stroke-width="1.6"/><line x1="1963.5" y1="284.4" x2="1966.5" y2="284.4" stroke-width="1.6"/>
<line x1="1564.8" y1="264.8" x2="1561.8" y2="264.8" stroke-width="1.6"/><line x1="1963.5" y1="264.8" x2="1966.5" y2="264.8" stroke-width="1.6"/>
<line x1="1564.8" y1="245.1" x2="1556.2" y2="245.1" stroke-width="2.8"/><line x1="1963.5" y1="245.1" x2="1972.1" y2="245.1" stroke-width="2.8"/>
</g>
<g font-size="22.2">
<text x="1548.5" y="254.5" text-anchor="end">44°N</text>
<text x="1548.5" y="332.4" text-anchor="end">42°N</text>
<text x="1548.5" y="407.8" text-anchor="end">40°N</text>
<text x="1548.5" y="481.0" text-anchor="end">38°N</text>
<text x="1548.5" y="552.2" text-anchor="end">36°N</text>
<text transform="translate(1592.3,622.3) rotate(-45)" text-anchor="middle" y="8">76°W</text>
<text transform="translate(1649.2,622.3) rotate(-45)" text-anchor="middle" y="8">74°W</text>
<text transform="translate(1706.1,622.3) rotate(-45)" text-anchor="middle" y="8">72°W</text>
<text transform="translate(1763.0,622.3) rotate(-45)" text-anchor="middle" y="8">70°W</text>
<text transform="translate(1819.9,622.3) rotate(-45)" text-anchor="middle" y="8">68°W</text>
<text transform="translate(1876.8,622.3) rotate(-45)" text-anchor="middle" y="8">66°W</text>
<text transform="translate(1933.7,622.3) rotate(-45)" text-anchor="middle" y="8">64°W</text>
</g>
<rect x="1633" y="631" width="261" height="177.5" rx="4.5" fill="#fff" fill-opacity="0.8" stroke="#cccccc" stroke-width="1.4"/>
<g font-size="22.2">
<line x1="1641.2" y1="650.5" x2="1689.8" y2="650.5" stroke="#0000ff" stroke-width="2.8"/><circle cx="1665.5" cy="650.5" r="6.2" fill="#0000ff"/>
<text transform="translate(1706.2,658.7) scale(1.018,1)">ru32</text>
<line x1="1641.2" y1="684.8" x2="1689.8" y2="684.8" stroke="#ff0000" stroke-width="2.8"/><circle cx="1665.5" cy="684.8" r="6.2" fill="#ff0000"/>
<text transform="translate(1706.2,693.0) scale(1.018,1)">RTOFS</text>
<line x1="1641.2" y1="719.0" x2="1689.8" y2="719.0" stroke="#ffa500" stroke-width="2.8"/><circle cx="1665.5" cy="719.0" r="6.2" fill="#ffa500"/>
<text transform="translate(1706.2,727.2) scale(1.018,1)">RTOFS (Parallel)</text>
<line x1="1641.2" y1="753.2" x2="1689.8" y2="753.2" stroke="#008000" stroke-width="2.8"/><circle cx="1665.5" cy="753.2" r="6.2" fill="#008000"/>
<text transform="translate(1706.2,761.5) scale(1.018,1)">ESPC</text>
<line x1="1641.2" y1="787.5" x2="1689.8" y2="787.5" stroke="#ff00ff" stroke-width="2.8"/><circle cx="1665.5" cy="787.5" r="6.2" fill="#ff00ff"/>
<text transform="translate(1706.2,795.7) scale(1.018,1)">CMEMS</text>
</g>
</svg>
</body></html>
